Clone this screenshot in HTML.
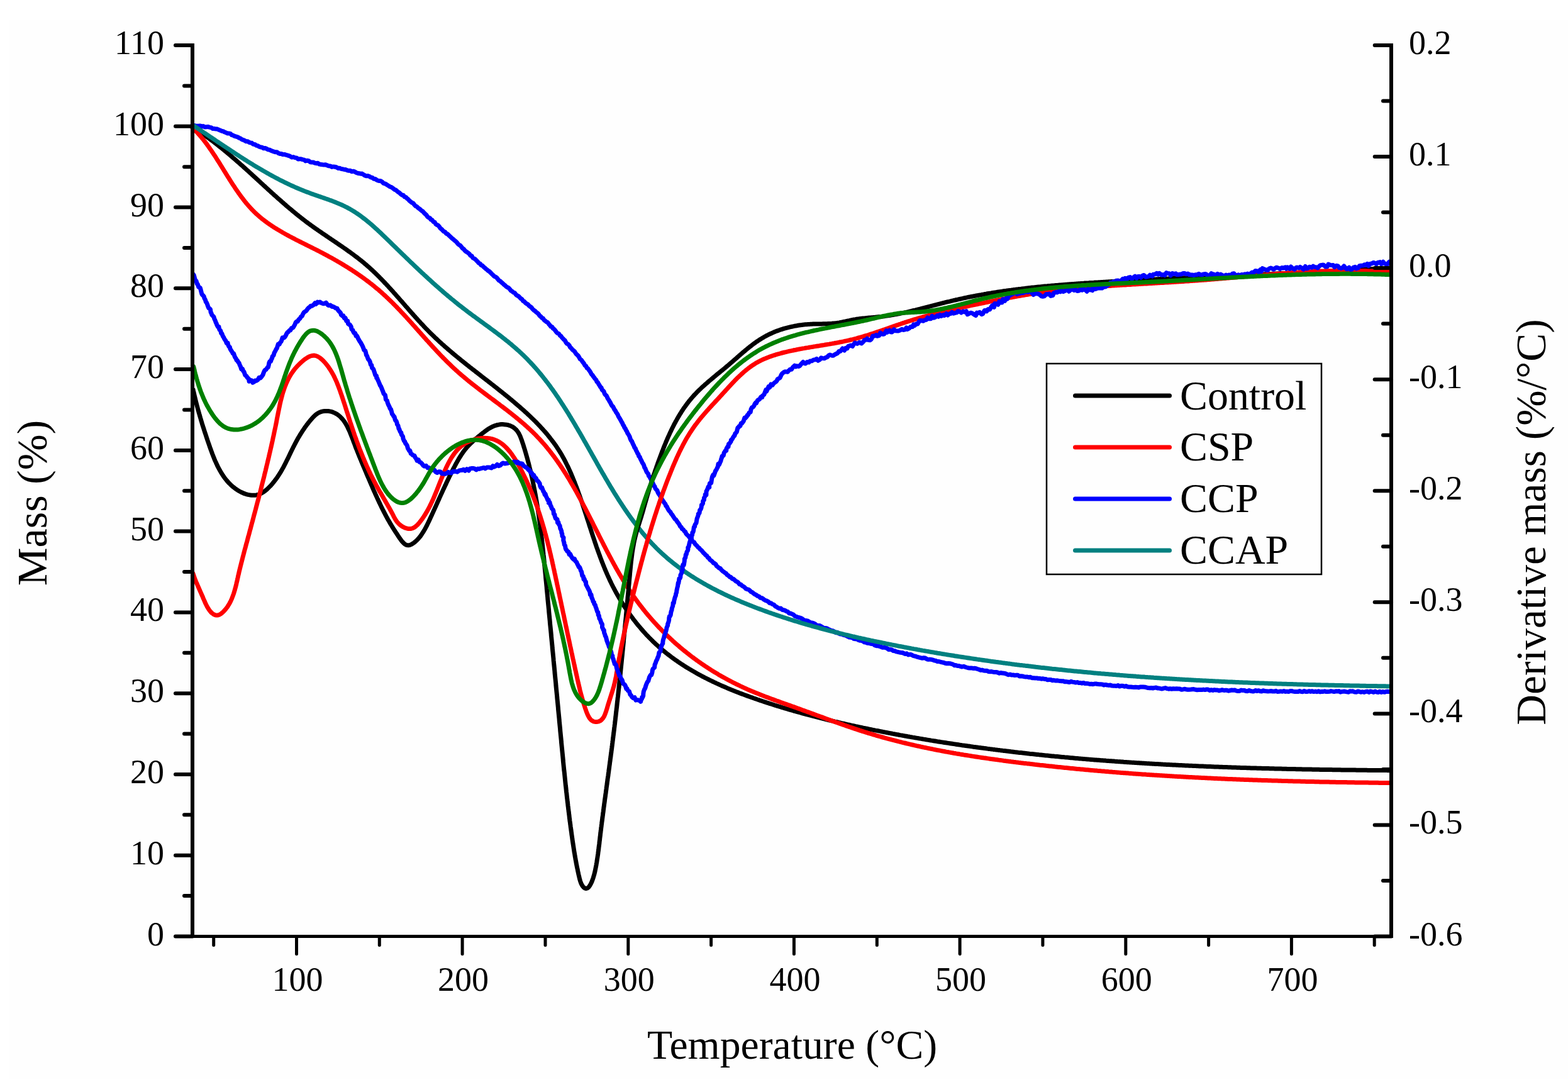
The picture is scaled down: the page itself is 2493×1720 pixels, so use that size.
<!DOCTYPE html>
<html><head><meta charset="utf-8"><title>TGA/DTG</title>
<style>html,body{margin:0;padding:0;background:#ffffff;overflow:hidden}svg{display:block}</style>
</head><body>
<svg width="2493" height="1720" viewBox="0 0 2493 1720">
<rect width="2493" height="1720" fill="#ffffff"/>
<rect x="15" y="32" width="2478" height="1683" fill="#fefefe"/>
<g fill="none" stroke-width="7" stroke-linejoin="round" stroke-linecap="round">
<path d="M305.7,202.1 L307.4,203.1 L309.2,204.2 L310.9,205.3 L312.6,206.4 L314.3,207.5 L316.0,208.7 L317.6,209.8 L319.3,210.9 L321.0,212.1 L322.6,213.2 L324.3,214.4 L325.9,215.5 L327.6,216.7 L329.2,217.9 L330.9,219.0 L332.5,220.2 L334.1,221.4 L335.7,222.6 L337.3,223.8 L338.9,225.0 L340.5,226.2 L342.1,227.5 L343.7,228.7 L345.3,229.9 L346.9,231.2 L348.4,232.4 L350.0,233.7 L351.6,234.9 L353.1,236.2 L354.7,237.4 L356.2,238.7 L357.8,240.0 L359.3,241.2 L360.9,242.5 L362.4,243.8 L363.9,245.1 L365.4,246.4 L367.0,247.7 L368.5,249.0 L370.0,250.3 L371.5,251.6 L373.0,252.9 L374.5,254.2 L376.0,255.5 L377.5,256.8 L379.0,258.1 L380.5,259.4 L382.0,260.8 L383.5,262.1 L385.0,263.4 L386.5,264.7 L388.0,266.1 L389.4,267.4 L390.9,268.7 L392.4,270.1 L393.9,271.4 L395.4,272.7 L396.8,274.1 L398.3,275.4 L399.8,276.8 L401.2,278.1 L402.7,279.5 L404.2,280.8 L405.6,282.1 L407.1,283.5 L408.6,284.8 L410.0,286.2 L411.5,287.5 L413.0,288.9 L414.4,290.2 L415.9,291.6 L417.4,292.9 L418.8,294.3 L420.3,295.6 L421.7,296.9 L423.2,298.3 L424.7,299.6 L426.1,301.0 L427.6,302.3 L429.1,303.6 L430.5,305.0 L432.0,306.3 L433.5,307.6 L434.9,309.0 L436.4,310.3 L437.9,311.6 L439.4,312.9 L440.8,314.3 L442.3,315.6 L443.8,316.9 L445.3,318.2 L446.8,319.5 L448.3,320.8 L449.8,322.1 L451.2,323.4 L452.7,324.7 L454.2,326.0 L455.7,327.3 L457.2,328.6 L458.7,329.9 L460.2,331.2 L461.8,332.4 L463.3,333.7 L464.8,335.0 L466.3,336.2 L467.8,337.5 L469.4,338.7 L470.9,340.0 L472.4,341.2 L474.0,342.5 L475.5,343.7 L477.1,344.9 L478.6,346.2 L480.2,347.4 L481.7,348.6 L483.3,349.8 L484.9,351.0 L486.4,352.2 L488.0,353.4 L489.6,354.6 L491.2,355.7 L492.8,356.9 L494.4,358.1 L496.0,359.2 L497.6,360.4 L499.2,361.5 L500.8,362.7 L502.5,363.8 L504.1,364.9 L505.7,366.1 L507.3,367.2 L509.0,368.3 L510.6,369.4 L512.2,370.6 L513.9,371.7 L515.5,372.8 L517.2,373.9 L518.8,375.0 L520.4,376.1 L522.1,377.2 L523.7,378.4 L525.4,379.5 L527.0,380.6 L528.7,381.7 L530.3,382.8 L531.9,383.9 L533.6,385.0 L535.2,386.1 L536.9,387.2 L538.5,388.4 L540.1,389.5 L541.8,390.6 L543.4,391.7 L545.0,392.8 L546.7,394.0 L548.3,395.1 L549.9,396.2 L551.5,397.4 L553.1,398.5 L554.7,399.7 L556.4,400.8 L558.0,402.0 L559.6,403.2 L561.1,404.3 L562.7,405.5 L564.3,406.7 L565.9,407.9 L567.5,409.1 L569.0,410.3 L570.6,411.5 L572.1,412.7 L573.7,413.9 L575.2,415.2 L576.8,416.4 L578.3,417.7 L579.8,419.0 L581.3,420.2 L582.8,421.5 L584.3,422.8 L585.8,424.1 L587.3,425.4 L588.7,426.7 L590.2,428.1 L591.6,429.4 L593.1,430.8 L594.5,432.1 L596.0,433.5 L597.4,434.9 L598.8,436.2 L600.2,437.6 L601.6,439.0 L603.0,440.4 L604.4,441.9 L605.8,443.3 L607.2,444.7 L608.6,446.1 L610.0,447.6 L611.3,449.0 L612.7,450.5 L614.1,451.9 L615.4,453.4 L616.8,454.8 L618.1,456.3 L619.5,457.8 L620.8,459.3 L622.2,460.7 L623.5,462.2 L624.9,463.7 L626.2,465.2 L627.5,466.7 L628.9,468.2 L630.2,469.7 L631.5,471.2 L632.8,472.7 L634.2,474.2 L635.5,475.7 L636.8,477.2 L638.1,478.7 L639.5,480.2 L640.8,481.8 L642.1,483.3 L643.4,484.8 L644.7,486.3 L646.1,487.8 L647.4,489.3 L648.7,490.8 L650.0,492.4 L651.4,493.9 L652.7,495.4 L654.0,496.9 L655.4,498.4 L656.7,499.9 L658.0,501.4 L659.4,502.9 L660.7,504.4 L662.1,505.9 L663.4,507.4 L664.8,508.9 L666.1,510.4 L667.5,511.8 L668.8,513.3 L670.2,514.8 L671.6,516.2 L673.0,517.7 L674.3,519.2 L675.7,520.6 L677.1,522.1 L678.5,523.5 L679.9,524.9 L681.3,526.4 L682.7,527.8 L684.1,529.2 L685.6,530.6 L687.0,532.0 L688.4,533.4 L689.9,534.8 L691.3,536.2 L692.8,537.6 L694.2,538.9 L695.7,540.3 L697.2,541.7 L698.6,543.0 L700.1,544.4 L701.6,545.7 L703.1,547.1 L704.6,548.4 L706.1,549.7 L707.6,551.1 L709.1,552.4 L710.6,553.7 L712.1,555.0 L713.6,556.3 L715.2,557.6 L716.7,558.9 L718.2,560.2 L719.8,561.5 L721.3,562.8 L722.8,564.1 L724.4,565.3 L725.9,566.6 L727.5,567.9 L729.0,569.2 L730.6,570.4 L732.1,571.7 L733.7,573.0 L735.3,574.2 L736.8,575.5 L738.4,576.7 L740.0,578.0 L741.5,579.2 L743.1,580.5 L744.7,581.7 L746.2,583.0 L747.8,584.2 L749.4,585.4 L751.0,586.7 L752.6,587.9 L754.1,589.1 L755.7,590.4 L757.3,591.6 L758.9,592.8 L760.5,594.1 L762.1,595.3 L763.6,596.5 L765.2,597.8 L766.8,599.0 L768.4,600.2 L770.0,601.5 L771.6,602.7 L773.2,603.9 L774.7,605.1 L776.3,606.4 L777.9,607.6 L779.5,608.8 L781.1,610.1 L782.6,611.3 L784.2,612.5 L785.8,613.8 L787.4,615.0 L789.0,616.2 L790.5,617.5 L792.1,618.7 L793.7,620.0 L795.2,621.2 L796.8,622.5 L798.4,623.7 L799.9,625.0 L801.5,626.2 L803.0,627.5 L804.6,628.7 L806.1,630.0 L807.7,631.2 L809.2,632.5 L810.8,633.8 L812.3,635.1 L813.9,636.3 L815.4,637.6 L816.9,638.9 L818.4,640.2 L820.0,641.5 L821.5,642.8 L823.0,644.1 L824.5,645.4 L826.0,646.7 L827.5,648.0 L829.0,649.3 L830.5,650.6 L832.0,651.9 L833.5,653.3 L834.9,654.6 L836.4,655.9 L837.9,657.3 L839.3,658.6 L840.8,660.0 L842.2,661.3 L843.7,662.7 L845.1,664.1 L846.5,665.5 L847.9,666.8 L849.4,668.2 L850.8,669.6 L852.2,671.0 L853.5,672.4 L854.9,673.9 L856.3,675.3 L857.6,676.7 L859.0,678.2 L860.3,679.6 L861.7,681.1 L863.0,682.5 L864.3,684.0 L865.6,685.5 L866.9,686.9 L868.2,688.4 L869.5,689.9 L870.7,691.4 L872.0,693.0 L873.2,694.5 L874.4,696.0 L875.6,697.6 L876.8,699.1 L878.0,700.7 L879.2,702.2 L880.4,703.8 L881.5,705.4 L882.7,707.0 L883.8,708.6 L884.9,710.2 L886.0,711.9 L887.1,713.5 L888.1,715.1 L889.2,716.8 L890.2,718.5 L891.3,720.2 L892.3,721.8 L893.3,723.5 L894.2,725.3 L895.2,727.0 L896.2,728.7 L897.1,730.4 L898.0,732.2 L898.9,733.9 L899.8,735.7 L900.7,737.5 L901.6,739.3 L902.5,741.0 L903.3,742.8 L904.2,744.6 L905.0,746.4 L905.8,748.3 L906.7,750.1 L907.5,751.9 L908.3,753.7 L909.0,755.6 L909.8,757.4 L910.6,759.3 L911.3,761.1 L912.1,763.0 L912.8,764.8 L913.6,766.7 L914.3,768.6 L915.0,770.4 L915.7,772.3 L916.5,774.2 L917.2,776.1 L917.9,778.0 L918.6,779.8 L919.2,781.7 L919.9,783.6 L920.6,785.5 L921.3,787.4 L921.9,789.3 L922.6,791.2 L923.3,793.1 L923.9,795.0 L924.6,796.9 L925.2,798.8 L925.9,800.7 L926.5,802.6 L927.1,804.5 L927.8,806.5 L928.4,808.4 L929.0,810.3 L929.7,812.2 L930.3,814.1 L930.9,816.0 L931.5,817.9 L932.2,819.8 L932.8,821.8 L933.4,823.7 L934.0,825.6 L934.7,827.5 L935.3,829.4 L935.9,831.3 L936.5,833.3 L937.1,835.2 L937.7,837.1 L938.4,839.0 L939.0,840.9 L939.6,842.8 L940.2,844.8 L940.9,846.7 L941.5,848.6 L942.1,850.5 L942.7,852.4 L943.4,854.3 L944.0,856.2 L944.7,858.1 L945.3,860.0 L945.9,862.0 L946.6,863.9 L947.2,865.8 L947.9,867.7 L948.5,869.6 L949.2,871.5 L949.9,873.4 L950.5,875.3 L951.2,877.1 L951.9,879.0 L952.6,880.9 L953.3,882.8 L954.0,884.7 L954.7,886.6 L955.4,888.5 L956.1,890.3 L956.8,892.2 L957.5,894.1 L958.3,895.9 L959.0,897.8 L959.8,899.7 L960.5,901.5 L961.3,903.4 L962.0,905.2 L962.8,907.1 L963.6,908.9 L964.4,910.8 L965.2,912.6 L966.0,914.5 L966.8,916.3 L967.7,918.1 L968.5,919.9 L969.3,921.8 L970.2,923.6 L971.1,925.4 L971.9,927.2 L972.8,929.0 L973.7,930.8 L974.6,932.6 L975.6,934.4 L976.5,936.2 L977.4,937.9 L978.4,939.7 L979.3,941.5 L980.3,943.3 L981.3,945.0 L982.3,946.8 L983.3,948.5 L984.3,950.3 L985.3,952.0 L986.3,953.7 L987.4,955.4 L988.4,957.2 L989.5,958.9 L990.6,960.6 L991.6,962.3 L992.7,964.0 L993.8,965.7 L994.9,967.3 L996.1,969.0 L997.2,970.7 L998.3,972.3 L999.5,974.0 L1000.6,975.6 L1001.8,977.3 L1003.0,978.9 L1004.2,980.5 L1005.4,982.1 L1006.6,983.8 L1007.8,985.4 L1009.0,986.9 L1010.3,988.5 L1011.5,990.1 L1012.8,991.7 L1014.0,993.2 L1015.3,994.8 L1016.6,996.3 L1017.9,997.8 L1019.2,999.4 L1020.5,1000.9 L1021.8,1002.4 L1023.1,1003.9 L1024.5,1005.4 L1025.8,1006.8 L1027.1,1008.3 L1028.5,1009.8 L1029.9,1011.2 L1031.3,1012.7 L1032.7,1014.1 L1034.1,1015.5 L1035.5,1016.9 L1036.9,1018.3 L1038.3,1019.7 L1039.7,1021.1 L1041.2,1022.4 L1042.6,1023.8 L1044.1,1025.1 L1045.6,1026.5 L1047.0,1027.8 L1048.5,1029.1 L1050.0,1030.4 L1051.5,1031.7 L1053.0,1033.0 L1054.5,1034.2 L1056.1,1035.5 L1057.6,1036.7 L1059.1,1038.0 L1060.7,1039.2 L1062.2,1040.4 L1063.8,1041.6 L1065.4,1042.8 L1066.9,1044.0 L1068.5,1045.2 L1070.1,1046.4 L1071.7,1047.5 L1073.3,1048.7 L1074.9,1049.8 L1076.6,1050.9 L1078.2,1052.1 L1079.8,1053.2 L1081.5,1054.3 L1083.1,1055.4 L1084.8,1056.5 L1086.4,1057.5 L1088.1,1058.6 L1089.8,1059.7 L1091.4,1060.7 L1093.1,1061.8 L1094.8,1062.8 L1096.5,1063.8 L1098.2,1064.8 L1099.9,1065.8 L1101.6,1066.8 L1103.4,1067.8 L1105.1,1068.8 L1106.8,1069.8 L1108.5,1070.8 L1110.3,1071.7 L1112.0,1072.7 L1113.8,1073.6 L1115.5,1074.6 L1117.3,1075.5 L1119.1,1076.4 L1120.8,1077.3 L1122.6,1078.2 L1124.4,1079.1 L1126.2,1080.0 L1128.0,1080.9 L1129.8,1081.8 L1131.6,1082.6 L1133.4,1083.5 L1135.2,1084.4 L1137.0,1085.2 L1138.8,1086.1 L1140.6,1086.9 L1142.5,1087.7 L1144.3,1088.6 L1146.1,1089.4 L1147.9,1090.2 L1149.8,1091.0 L1151.6,1091.8 L1153.5,1092.6 L1155.3,1093.4 L1157.2,1094.2 L1159.0,1094.9 L1160.9,1095.7 L1162.7,1096.5 L1164.6,1097.2 L1166.5,1098.0 L1168.3,1098.7 L1170.2,1099.5 L1172.1,1100.2 L1174.0,1100.9 L1175.8,1101.7 L1177.7,1102.4 L1179.6,1103.1 L1181.5,1103.8 L1183.4,1104.5 L1185.3,1105.2 L1187.2,1105.9 L1189.1,1106.6 L1191.0,1107.3 L1192.9,1108.0 L1194.8,1108.6 L1196.7,1109.3 L1198.6,1110.0 L1200.5,1110.6 L1202.4,1111.3 L1204.3,1112.0 L1206.2,1112.6 L1208.1,1113.3 L1210.0,1113.9 L1211.9,1114.5 L1213.8,1115.2 L1215.7,1115.8 L1217.6,1116.4 L1219.6,1117.1 L1221.5,1117.7 L1223.4,1118.3 L1225.3,1118.9 L1227.2,1119.5 L1229.1,1120.1 L1231.1,1120.8 L1233.0,1121.4 L1234.9,1122.0 L1236.8,1122.5 L1238.7,1123.1 L1240.7,1123.7 L1242.6,1124.3 L1244.5,1124.9 L1246.4,1125.5 L1248.3,1126.0 L1250.3,1126.6 L1252.2,1127.2 L1254.1,1127.8 L1256.0,1128.3 L1258.0,1128.9 L1259.9,1129.4 L1261.8,1130.0 L1263.7,1130.5 L1265.7,1131.1 L1267.6,1131.6 L1269.5,1132.2 L1271.5,1132.7 L1273.4,1133.2 L1275.3,1133.8 L1277.3,1134.3 L1279.2,1134.8 L1281.1,1135.3 L1283.0,1135.9 L1285.0,1136.4 L1286.9,1136.9 L1288.9,1137.4 L1290.8,1137.9 L1292.7,1138.4 L1294.7,1138.9 L1296.6,1139.4 L1298.5,1139.9 L1300.5,1140.4 L1302.4,1140.9 L1304.3,1141.4 L1306.3,1141.9 L1308.2,1142.4 L1310.2,1142.9 L1312.1,1143.3 L1314.0,1143.8 L1316.0,1144.3 L1317.9,1144.8 L1319.9,1145.2 L1321.8,1145.7 L1323.8,1146.2 L1325.7,1146.6 L1327.6,1147.1 L1329.6,1147.5 L1331.5,1148.0 L1333.5,1148.5 L1335.4,1148.9 L1337.4,1149.4 L1339.3,1149.8 L1341.3,1150.2 L1343.2,1150.7 L1345.2,1151.1 L1347.1,1151.6 L1349.1,1152.0 L1351.0,1152.4 L1353.0,1152.9 L1354.9,1153.3 L1356.9,1153.7 L1358.8,1154.1 L1360.8,1154.6 L1362.7,1155.0 L1364.7,1155.4 L1366.6,1155.8 L1368.6,1156.2 L1370.5,1156.6 L1372.5,1157.1 L1374.4,1157.5 L1376.4,1157.9 L1378.4,1158.3 L1380.3,1158.7 L1382.3,1159.1 L1384.2,1159.5 L1386.2,1159.9 L1388.1,1160.3 L1390.1,1160.7 L1392.0,1161.1 L1394.0,1161.4 L1396.0,1161.8 L1397.9,1162.2 L1399.9,1162.6 L1401.8,1163.0 L1403.8,1163.4 L1405.8,1163.8 L1407.7,1164.1 L1409.7,1164.5 L1411.6,1164.9 L1413.6,1165.3 L1415.6,1165.6 L1417.5,1166.0 L1419.5,1166.4 L1421.4,1166.7 L1423.4,1167.1 L1425.4,1167.5 L1427.3,1167.8 L1429.3,1168.2 L1431.3,1168.6 L1433.2,1168.9 L1435.2,1169.3 L1437.2,1169.6 L1439.1,1170.0 L1441.1,1170.3 L1443.1,1170.7 L1445.0,1171.0 L1447.0,1171.4 L1449.0,1171.7 L1450.9,1172.1 L1452.9,1172.4 L1454.9,1172.8 L1456.8,1173.1 L1458.8,1173.4 L1460.8,1173.8 L1462.7,1174.1 L1464.7,1174.4 L1466.7,1174.8 L1468.6,1175.1 L1470.6,1175.4 L1472.6,1175.8 L1474.6,1176.1 L1476.5,1176.4 L1478.5,1176.7 L1480.5,1177.1 L1482.4,1177.4 L1484.4,1177.7 L1486.4,1178.0 L1488.4,1178.3 L1490.3,1178.7 L1492.3,1179.0 L1494.3,1179.3 L1496.2,1179.6 L1498.2,1179.9 L1500.2,1180.2 L1502.2,1180.5 L1504.1,1180.8 L1506.1,1181.1 L1508.1,1181.4 L1510.1,1181.7 L1512.0,1182.0 L1514.0,1182.3 L1516.0,1182.6 L1518.0,1182.9 L1520.0,1183.2 L1521.9,1183.5 L1523.9,1183.8 L1525.9,1184.1 L1527.9,1184.4 L1529.8,1184.7 L1531.8,1184.9 L1533.8,1185.2 L1535.8,1185.5 L1537.8,1185.8 L1539.7,1186.1 L1541.7,1186.3 L1543.7,1186.6 L1545.7,1186.9 L1547.7,1187.2 L1549.6,1187.4 L1551.6,1187.7 L1553.6,1188.0 L1555.6,1188.3 L1557.6,1188.5 L1559.5,1188.8 L1561.5,1189.1 L1563.5,1189.3 L1565.5,1189.6 L1567.5,1189.8 L1569.5,1190.1 L1571.4,1190.4 L1573.4,1190.6 L1575.4,1190.9 L1577.4,1191.1 L1579.4,1191.4 L1581.4,1191.6 L1583.3,1191.9 L1585.3,1192.1 L1587.3,1192.4 L1589.3,1192.6 L1591.3,1192.9 L1593.3,1193.1 L1595.2,1193.4 L1597.2,1193.6 L1599.2,1193.8 L1601.2,1194.1 L1603.2,1194.3 L1605.2,1194.5 L1607.2,1194.8 L1609.2,1195.0 L1611.1,1195.2 L1613.1,1195.5 L1615.1,1195.7 L1617.1,1195.9 L1619.1,1196.2 L1621.1,1196.4 L1623.1,1196.6 L1625.1,1196.8 L1627.0,1197.1 L1629.0,1197.3 L1631.0,1197.5 L1633.0,1197.7 L1635.0,1197.9 L1637.0,1198.2 L1639.0,1198.4 L1641.0,1198.6 L1643.0,1198.8 L1645.0,1199.0 L1646.9,1199.2 L1648.9,1199.4 L1650.9,1199.6 L1652.9,1199.9 L1654.9,1200.1 L1656.9,1200.3 L1658.9,1200.5 L1660.9,1200.7 L1662.9,1200.9 L1664.9,1201.1 L1666.9,1201.3 L1668.8,1201.5 L1670.8,1201.7 L1672.8,1201.9 L1674.8,1202.1 L1676.8,1202.3 L1678.8,1202.4 L1680.8,1202.6 L1682.8,1202.8 L1684.8,1203.0 L1686.8,1203.2 L1688.8,1203.4 L1690.8,1203.6 L1692.8,1203.8 L1694.8,1203.9 L1696.8,1204.1 L1698.8,1204.3 L1700.7,1204.5 L1702.7,1204.7 L1704.7,1204.8 L1706.7,1205.0 L1708.7,1205.2 L1710.7,1205.4 L1712.7,1205.5 L1714.7,1205.7 L1716.7,1205.9 L1718.7,1206.1 L1720.7,1206.2 L1722.7,1206.4 L1724.7,1206.6 L1726.7,1206.7 L1728.7,1206.9 L1730.7,1207.1 L1732.7,1207.2 L1734.7,1207.4 L1736.7,1207.6 L1738.7,1207.7 L1740.7,1207.9 L1742.7,1208.0 L1744.7,1208.2 L1746.7,1208.3 L1748.7,1208.5 L1750.7,1208.7 L1752.7,1208.8 L1754.7,1209.0 L1756.7,1209.1 L1758.7,1209.3 L1760.7,1209.4 L1762.7,1209.6 L1764.7,1209.7 L1766.6,1209.8 L1768.6,1210.0 L1770.6,1210.1 L1772.6,1210.3 L1774.6,1210.4 L1776.6,1210.6 L1778.6,1210.7 L1780.6,1210.8 L1782.6,1211.0 L1784.6,1211.1 L1786.6,1211.3 L1788.6,1211.4 L1790.6,1211.5 L1792.6,1211.7 L1794.6,1211.8 L1796.6,1211.9 L1798.6,1212.1 L1800.6,1212.2 L1802.6,1212.3 L1804.6,1212.4 L1806.6,1212.6 L1808.6,1212.7 L1810.6,1212.8 L1812.6,1213.0 L1814.6,1213.1 L1816.6,1213.2 L1818.6,1213.3 L1820.7,1213.4 L1822.7,1213.6 L1824.7,1213.7 L1826.7,1213.8 L1828.7,1213.9 L1830.7,1214.0 L1832.7,1214.2 L1834.7,1214.3 L1836.7,1214.4 L1838.7,1214.5 L1840.7,1214.6 L1842.7,1214.7 L1844.7,1214.8 L1846.7,1214.9 L1848.7,1215.1 L1850.7,1215.2 L1852.7,1215.3 L1854.7,1215.4 L1856.7,1215.5 L1858.7,1215.6 L1860.7,1215.7 L1862.7,1215.8 L1864.7,1215.9 L1866.7,1216.0 L1868.7,1216.1 L1870.7,1216.2 L1872.7,1216.3 L1874.7,1216.4 L1876.7,1216.5 L1878.7,1216.6 L1880.7,1216.7 L1882.7,1216.8 L1884.7,1216.9 L1886.7,1217.0 L1888.7,1217.1 L1890.7,1217.2 L1892.7,1217.3 L1894.7,1217.3 L1896.7,1217.4 L1898.7,1217.5 L1900.7,1217.6 L1902.7,1217.7 L1904.7,1217.8 L1906.7,1217.9 L1908.7,1218.0 L1910.7,1218.1 L1912.7,1218.1 L1914.8,1218.2 L1916.8,1218.3 L1918.8,1218.4 L1920.8,1218.5 L1922.8,1218.6 L1924.8,1218.6 L1926.8,1218.7 L1928.8,1218.8 L1930.8,1218.9 L1932.8,1218.9 L1934.8,1219.0 L1936.8,1219.1 L1938.8,1219.2 L1940.8,1219.3 L1942.8,1219.3 L1944.8,1219.4 L1946.8,1219.5 L1948.8,1219.5 L1950.8,1219.6 L1952.8,1219.7 L1954.8,1219.8 L1956.8,1219.8 L1958.8,1219.9 L1960.8,1220.0 L1962.8,1220.0 L1964.8,1220.1 L1966.8,1220.2 L1968.8,1220.2 L1970.8,1220.3 L1972.8,1220.4 L1974.8,1220.4 L1976.8,1220.5 L1978.8,1220.6 L1980.8,1220.6 L1982.8,1220.7 L1984.8,1220.7 L1986.8,1220.8 L1988.8,1220.9 L1990.9,1220.9 L1992.9,1221.0 L1994.9,1221.0 L1996.9,1221.1 L1998.9,1221.2 L2000.9,1221.2 L2002.9,1221.3 L2004.9,1221.3 L2006.9,1221.4 L2008.9,1221.4 L2010.9,1221.5 L2012.9,1221.5 L2014.9,1221.6 L2016.9,1221.6 L2018.9,1221.7 L2020.9,1221.7 L2022.9,1221.8 L2024.9,1221.8 L2026.9,1221.9 L2028.9,1221.9 L2030.9,1222.0 L2032.9,1222.0 L2034.9,1222.1 L2036.9,1222.1 L2038.9,1222.2 L2040.9,1222.2 L2042.9,1222.3 L2044.9,1222.3 L2046.9,1222.4 L2048.9,1222.4 L2050.9,1222.4 L2052.9,1222.5 L2054.9,1222.5 L2056.9,1222.6 L2058.9,1222.6 L2060.9,1222.7 L2062.9,1222.7 L2064.9,1222.7 L2066.9,1222.8 L2068.9,1222.8 L2070.9,1222.9 L2072.9,1222.9 L2074.9,1222.9 L2076.9,1223.0 L2078.9,1223.0 L2080.9,1223.0 L2082.9,1223.1 L2084.9,1223.1 L2086.9,1223.2 L2088.9,1223.2 L2090.9,1223.2 L2092.9,1223.3 L2094.9,1223.3 L2096.9,1223.3 L2098.9,1223.4 L2100.9,1223.4 L2102.9,1223.4 L2104.9,1223.5 L2106.9,1223.5 L2108.9,1223.5 L2110.9,1223.5 L2112.9,1223.6 L2114.9,1223.6 L2116.9,1223.6 L2118.9,1223.7 L2120.9,1223.7 L2122.8,1223.7 L2124.8,1223.8 L2126.8,1223.8 L2128.8,1223.8 L2130.8,1223.8 L2132.8,1223.9 L2134.8,1223.9 L2136.8,1223.9 L2138.8,1223.9 L2140.8,1224.0 L2142.8,1224.0 L2144.8,1224.0 L2146.8,1224.0 L2148.8,1224.1 L2150.8,1224.1 L2152.8,1224.1 L2154.8,1224.1 L2156.8,1224.2 L2158.8,1224.2 L2160.8,1224.2 L2162.8,1224.2 L2164.8,1224.3 L2166.7,1224.3 L2168.7,1224.3 L2170.7,1224.3 L2172.7,1224.3 L2174.7,1224.4 L2176.7,1224.4 L2178.7,1224.4 L2180.7,1224.4 L2182.7,1224.4 L2184.7,1224.5 L2186.7,1224.5 L2188.7,1224.5 L2190.7,1224.5 L2192.7,1224.5 L2194.6,1224.5 L2196.6,1224.6 L2198.6,1224.6 L2200.6,1224.6 L2202.6,1224.6 L2204.6,1224.6 L2206.6,1224.7 L2208.6,1224.7" stroke="#000000"/>
<path d="M305.9,203.0 L307.3,204.3 L308.7,205.7 L310.0,207.0 L311.4,208.4 L312.7,209.8 L314.0,211.2 L315.3,212.6 L316.6,214.1 L317.9,215.5 L319.1,217.0 L320.4,218.5 L321.6,220.0 L322.9,221.5 L324.1,223.1 L325.3,224.6 L326.5,226.2 L327.7,227.8 L328.9,229.3 L330.0,230.9 L331.2,232.6 L332.3,234.2 L333.5,235.8 L334.6,237.5 L335.8,239.1 L336.9,240.8 L338.0,242.4 L339.1,244.1 L340.2,245.8 L341.4,247.5 L342.5,249.2 L343.6,250.9 L344.6,252.6 L345.7,254.3 L346.8,256.0 L347.9,257.7 L349.0,259.5 L350.1,261.2 L351.1,262.9 L352.2,264.6 L353.3,266.4 L354.4,268.1 L355.4,269.9 L356.5,271.6 L357.6,273.3 L358.7,275.1 L359.7,276.8 L360.8,278.5 L361.9,280.3 L363.0,282.0 L364.1,283.7 L365.1,285.5 L366.2,287.2 L367.3,288.9 L368.4,290.6 L369.5,292.3 L370.6,294.0 L371.8,295.7 L372.9,297.4 L374.0,299.1 L375.1,300.8 L376.3,302.5 L377.4,304.1 L378.6,305.8 L379.7,307.4 L380.9,309.0 L382.1,310.7 L383.3,312.3 L384.5,313.9 L385.7,315.5 L386.9,317.0 L388.1,318.6 L389.3,320.2 L390.6,321.7 L391.8,323.2 L393.1,324.7 L394.4,326.2 L395.7,327.7 L397.0,329.2 L398.3,330.6 L399.7,332.1 L401.0,333.5 L402.4,334.9 L403.7,336.3 L405.1,337.6 L406.5,339.0 L408.0,340.3 L409.4,341.6 L410.9,342.9 L412.3,344.2 L413.8,345.4 L415.3,346.7 L416.8,347.9 L418.3,349.1 L419.9,350.3 L421.4,351.5 L423.0,352.6 L424.5,353.8 L426.1,354.9 L427.7,356.0 L429.3,357.1 L430.9,358.2 L432.6,359.3 L434.2,360.4 L435.8,361.5 L437.5,362.5 L439.2,363.5 L440.8,364.6 L442.5,365.6 L444.2,366.6 L445.9,367.6 L447.6,368.6 L449.3,369.6 L451.0,370.5 L452.8,371.5 L454.5,372.5 L456.2,373.4 L458.0,374.4 L459.7,375.3 L461.5,376.3 L463.3,377.2 L465.0,378.1 L466.8,379.0 L468.6,379.9 L470.3,380.9 L472.1,381.8 L473.9,382.7 L475.7,383.6 L477.5,384.5 L479.3,385.4 L481.1,386.3 L482.9,387.2 L484.7,388.1 L486.5,389.0 L488.3,389.9 L490.1,390.8 L491.9,391.7 L493.7,392.6 L495.5,393.5 L497.3,394.4 L499.1,395.3 L500.9,396.2 L502.7,397.1 L504.5,398.0 L506.3,398.9 L508.1,399.8 L509.8,400.8 L511.6,401.7 L513.4,402.6 L515.2,403.6 L517.0,404.5 L518.7,405.5 L520.5,406.4 L522.3,407.4 L524.0,408.4 L525.8,409.3 L527.6,410.3 L529.3,411.3 L531.1,412.3 L532.8,413.3 L534.6,414.3 L536.3,415.3 L538.0,416.3 L539.8,417.3 L541.5,418.3 L543.2,419.3 L544.9,420.4 L546.7,421.4 L548.4,422.5 L550.1,423.5 L551.8,424.6 L553.5,425.6 L555.2,426.7 L556.9,427.8 L558.5,428.8 L560.2,429.9 L561.9,431.0 L563.6,432.1 L565.2,433.2 L566.9,434.3 L568.5,435.5 L570.2,436.6 L571.8,437.7 L573.4,438.9 L575.1,440.0 L576.7,441.2 L578.3,442.3 L579.9,443.5 L581.5,444.7 L583.1,445.9 L584.7,447.1 L586.3,448.3 L587.8,449.5 L589.4,450.7 L591.0,451.9 L592.5,453.2 L594.1,454.4 L595.6,455.7 L597.1,456.9 L598.7,458.2 L600.2,459.4 L601.7,460.7 L603.2,462.0 L604.7,463.3 L606.2,464.6 L607.6,465.9 L609.1,467.3 L610.6,468.6 L612.0,469.9 L613.5,471.3 L614.9,472.6 L616.4,474.0 L617.8,475.4 L619.2,476.7 L620.7,478.1 L622.1,479.5 L623.5,480.9 L624.9,482.3 L626.3,483.7 L627.7,485.1 L629.1,486.5 L630.5,487.9 L631.8,489.4 L633.2,490.8 L634.6,492.2 L636.0,493.7 L637.3,495.1 L638.7,496.6 L640.1,498.0 L641.4,499.5 L642.8,500.9 L644.1,502.4 L645.5,503.8 L646.8,505.3 L648.2,506.8 L649.5,508.3 L650.8,509.7 L652.2,511.2 L653.5,512.7 L654.9,514.2 L656.2,515.7 L657.5,517.2 L658.9,518.6 L660.2,520.1 L661.5,521.6 L662.8,523.1 L664.2,524.6 L665.5,526.1 L666.8,527.6 L668.2,529.1 L669.5,530.6 L670.8,532.1 L672.2,533.6 L673.5,535.1 L674.8,536.6 L676.2,538.1 L677.5,539.6 L678.8,541.1 L680.2,542.5 L681.5,544.0 L682.9,545.5 L684.2,547.0 L685.6,548.5 L686.9,550.0 L688.3,551.5 L689.6,552.9 L691.0,554.4 L692.4,555.9 L693.7,557.3 L695.1,558.8 L696.5,560.3 L697.9,561.7 L699.2,563.2 L700.6,564.6 L702.0,566.1 L703.4,567.5 L704.8,569.0 L706.2,570.4 L707.7,571.8 L709.1,573.3 L710.5,574.7 L711.9,576.1 L713.4,577.5 L714.8,578.9 L716.3,580.3 L717.7,581.7 L719.2,583.1 L720.6,584.5 L722.1,585.9 L723.6,587.2 L725.1,588.6 L726.6,589.9 L728.1,591.3 L729.6,592.6 L731.1,594.0 L732.7,595.3 L734.2,596.6 L735.7,597.9 L737.3,599.2 L738.8,600.5 L740.4,601.8 L742.0,603.1 L743.5,604.4 L745.1,605.7 L746.7,607.0 L748.3,608.2 L749.9,609.5 L751.4,610.8 L753.0,612.0 L754.7,613.3 L756.3,614.5 L757.9,615.8 L759.5,617.0 L761.1,618.2 L762.7,619.5 L764.3,620.7 L766.0,622.0 L767.6,623.2 L769.2,624.4 L770.8,625.6 L772.5,626.9 L774.1,628.1 L775.7,629.3 L777.4,630.5 L779.0,631.8 L780.6,633.0 L782.3,634.2 L783.9,635.4 L785.5,636.6 L787.2,637.9 L788.8,639.1 L790.4,640.3 L792.0,641.5 L793.7,642.7 L795.3,644.0 L796.9,645.2 L798.5,646.4 L800.1,647.6 L801.8,648.9 L803.4,650.1 L805.0,651.3 L806.6,652.6 L808.2,653.8 L809.8,655.1 L811.4,656.3 L813.0,657.6 L814.5,658.8 L816.1,660.1 L817.7,661.3 L819.3,662.6 L820.8,663.9 L822.4,665.1 L823.9,666.4 L825.5,667.7 L827.0,669.0 L828.5,670.3 L830.1,671.6 L831.6,672.9 L833.1,674.2 L834.6,675.5 L836.1,676.8 L837.6,678.1 L839.0,679.5 L840.5,680.8 L842.0,682.2 L843.4,683.5 L844.8,684.9 L846.3,686.3 L847.7,687.6 L849.1,689.0 L850.5,690.4 L851.9,691.8 L853.3,693.2 L854.6,694.7 L856.0,696.1 L857.4,697.5 L858.7,699.0 L860.0,700.4 L861.3,701.9 L862.6,703.4 L863.9,704.8 L865.2,706.3 L866.5,707.8 L867.8,709.3 L869.0,710.8 L870.3,712.4 L871.5,713.9 L872.8,715.4 L874.0,716.9 L875.2,718.5 L876.4,720.0 L877.6,721.6 L878.8,723.2 L880.0,724.7 L881.2,726.3 L882.3,727.9 L883.5,729.5 L884.6,731.1 L885.8,732.7 L886.9,734.3 L888.0,735.9 L889.2,737.6 L890.3,739.2 L891.4,740.8 L892.5,742.5 L893.6,744.1 L894.7,745.8 L895.7,747.4 L896.8,749.1 L897.9,750.8 L898.9,752.4 L900.0,754.1 L901.0,755.8 L902.1,757.5 L903.1,759.2 L904.2,760.9 L905.2,762.6 L906.2,764.3 L907.2,766.0 L908.2,767.7 L909.2,769.4 L910.2,771.1 L911.2,772.8 L912.2,774.6 L913.2,776.3 L914.2,778.0 L915.2,779.8 L916.2,781.5 L917.1,783.3 L918.1,785.0 L919.1,786.8 L920.0,788.5 L921.0,790.3 L921.9,792.1 L922.9,793.8 L923.8,795.6 L924.8,797.4 L925.7,799.1 L926.6,800.9 L927.6,802.7 L928.5,804.5 L929.4,806.3 L930.4,808.0 L931.3,809.8 L932.2,811.6 L933.1,813.4 L934.1,815.2 L935.0,817.0 L935.9,818.8 L936.8,820.6 L937.7,822.4 L938.6,824.2 L939.6,826.0 L940.5,827.8 L941.4,829.6 L942.3,831.4 L943.2,833.2 L944.1,835.0 L945.0,836.8 L945.9,838.6 L946.8,840.4 L947.7,842.2 L948.7,844.0 L949.6,845.8 L950.5,847.6 L951.4,849.4 L952.3,851.2 L953.2,853.0 L954.1,854.8 L955.0,856.6 L955.9,858.4 L956.9,860.2 L957.8,862.0 L958.7,863.8 L959.6,865.6 L960.5,867.4 L961.5,869.2 L962.4,871.0 L963.3,872.8 L964.2,874.6 L965.2,876.4 L966.1,878.2 L967.1,879.9 L968.0,881.7 L968.9,883.5 L969.9,885.3 L970.8,887.1 L971.8,888.8 L972.7,890.6 L973.7,892.4 L974.7,894.2 L975.6,895.9 L976.6,897.7 L977.6,899.4 L978.5,901.2 L979.5,903.0 L980.5,904.7 L981.5,906.5 L982.5,908.2 L983.5,909.9 L984.5,911.7 L985.5,913.4 L986.5,915.1 L987.5,916.9 L988.6,918.6 L989.6,920.3 L990.6,922.0 L991.7,923.7 L992.7,925.4 L993.8,927.1 L994.8,928.8 L995.9,930.5 L997.0,932.2 L998.0,933.9 L999.1,935.6 L1000.2,937.2 L1001.3,938.9 L1002.4,940.6 L1003.5,942.2 L1004.6,943.9 L1005.8,945.5 L1006.9,947.2 L1008.0,948.8 L1009.2,950.4 L1010.3,952.1 L1011.5,953.7 L1012.7,955.3 L1013.9,956.9 L1015.0,958.5 L1016.2,960.1 L1017.4,961.7 L1018.6,963.3 L1019.9,964.8 L1021.1,966.4 L1022.3,968.0 L1023.5,969.5 L1024.8,971.1 L1026.0,972.6 L1027.3,974.2 L1028.6,975.7 L1029.8,977.2 L1031.1,978.8 L1032.4,980.3 L1033.7,981.8 L1035.0,983.3 L1036.3,984.8 L1037.6,986.3 L1038.9,987.8 L1040.3,989.2 L1041.6,990.7 L1043.0,992.2 L1044.3,993.6 L1045.7,995.1 L1047.0,996.5 L1048.4,998.0 L1049.8,999.4 L1051.2,1000.8 L1052.6,1002.3 L1054.0,1003.7 L1055.4,1005.1 L1056.8,1006.5 L1058.2,1007.9 L1059.6,1009.3 L1061.0,1010.6 L1062.5,1012.0 L1063.9,1013.4 L1065.4,1014.7 L1066.8,1016.1 L1068.3,1017.4 L1069.7,1018.8 L1071.2,1020.1 L1072.7,1021.5 L1074.2,1022.8 L1075.7,1024.1 L1077.2,1025.4 L1078.7,1026.7 L1080.2,1028.0 L1081.7,1029.3 L1083.2,1030.6 L1084.8,1031.8 L1086.3,1033.1 L1087.8,1034.4 L1089.4,1035.6 L1090.9,1036.8 L1092.5,1038.1 L1094.1,1039.3 L1095.6,1040.5 L1097.2,1041.8 L1098.8,1043.0 L1100.4,1044.2 L1102.0,1045.4 L1103.6,1046.6 L1105.2,1047.7 L1106.8,1048.9 L1108.4,1050.1 L1110.0,1051.2 L1111.6,1052.4 L1113.3,1053.5 L1114.9,1054.7 L1116.5,1055.8 L1118.2,1056.9 L1119.8,1058.0 L1121.5,1059.1 L1123.2,1060.2 L1124.8,1061.3 L1126.5,1062.4 L1128.2,1063.5 L1129.9,1064.6 L1131.5,1065.6 L1133.2,1066.7 L1134.9,1067.7 L1136.6,1068.8 L1138.3,1069.8 L1140.1,1070.8 L1141.8,1071.9 L1143.5,1072.9 L1145.2,1073.9 L1147.0,1074.9 L1148.7,1075.9 L1150.4,1076.8 L1152.2,1077.8 L1153.9,1078.8 L1155.7,1079.7 L1157.4,1080.7 L1159.2,1081.6 L1161.0,1082.5 L1162.8,1083.5 L1164.5,1084.4 L1166.3,1085.3 L1168.1,1086.2 L1169.9,1087.1 L1171.7,1088.0 L1173.5,1088.8 L1175.3,1089.7 L1177.1,1090.6 L1178.9,1091.4 L1180.7,1092.3 L1182.5,1093.1 L1184.4,1093.9 L1186.2,1094.8 L1188.0,1095.6 L1189.9,1096.4 L1191.7,1097.2 L1193.5,1098.0 L1195.4,1098.8 L1197.2,1099.5 L1199.1,1100.3 L1200.9,1101.1 L1202.8,1101.8 L1204.7,1102.6 L1206.5,1103.3 L1208.4,1104.1 L1210.3,1104.8 L1212.1,1105.5 L1214.0,1106.2 L1215.9,1107.0 L1217.8,1107.7 L1219.7,1108.4 L1221.5,1109.1 L1223.4,1109.8 L1225.3,1110.5 L1227.2,1111.2 L1229.1,1111.9 L1231.0,1112.6 L1232.9,1113.3 L1234.8,1114.0 L1236.7,1114.6 L1238.6,1115.3 L1240.4,1116.0 L1242.3,1116.7 L1244.2,1117.4 L1246.1,1118.0 L1248.0,1118.7 L1249.9,1119.4 L1251.8,1120.1 L1253.7,1120.7 L1255.6,1121.4 L1257.5,1122.1 L1259.4,1122.8 L1261.3,1123.4 L1263.2,1124.1 L1265.1,1124.8 L1267.0,1125.5 L1268.9,1126.2 L1270.8,1126.8 L1272.7,1127.5 L1274.6,1128.2 L1276.4,1128.9 L1278.3,1129.6 L1280.2,1130.3 L1282.1,1131.0 L1284.0,1131.7 L1285.9,1132.3 L1287.8,1133.0 L1289.6,1133.7 L1291.5,1134.4 L1293.4,1135.1 L1295.3,1135.8 L1297.2,1136.5 L1299.1,1137.2 L1300.9,1137.9 L1302.8,1138.5 L1304.7,1139.2 L1306.6,1139.9 L1308.5,1140.6 L1310.3,1141.3 L1312.2,1142.0 L1314.1,1142.7 L1316.0,1143.4 L1317.9,1144.0 L1319.8,1144.7 L1321.6,1145.4 L1323.5,1146.1 L1325.4,1146.8 L1327.3,1147.4 L1329.2,1148.1 L1331.1,1148.8 L1332.9,1149.4 L1334.8,1150.1 L1336.7,1150.8 L1338.6,1151.4 L1340.5,1152.1 L1342.4,1152.8 L1344.2,1153.4 L1346.1,1154.1 L1348.0,1154.7 L1349.9,1155.4 L1351.8,1156.0 L1353.7,1156.7 L1355.6,1157.3 L1357.5,1157.9 L1359.4,1158.6 L1361.3,1159.2 L1363.2,1159.8 L1365.0,1160.4 L1366.9,1161.1 L1368.8,1161.7 L1370.7,1162.3 L1372.6,1162.9 L1374.5,1163.5 L1376.4,1164.1 L1378.4,1164.7 L1380.3,1165.3 L1382.2,1165.9 L1384.1,1166.4 L1386.0,1167.0 L1387.9,1167.6 L1389.8,1168.2 L1391.7,1168.7 L1393.6,1169.3 L1395.5,1169.8 L1397.5,1170.4 L1399.4,1170.9 L1401.3,1171.5 L1403.2,1172.0 L1405.1,1172.5 L1407.1,1173.1 L1409.0,1173.6 L1410.9,1174.1 L1412.8,1174.6 L1414.8,1175.2 L1416.7,1175.7 L1418.6,1176.2 L1420.6,1176.7 L1422.5,1177.2 L1424.4,1177.7 L1426.4,1178.2 L1428.3,1178.7 L1430.2,1179.1 L1432.2,1179.6 L1434.1,1180.1 L1436.0,1180.6 L1438.0,1181.0 L1439.9,1181.5 L1441.9,1182.0 L1443.8,1182.4 L1445.7,1182.9 L1447.7,1183.3 L1449.6,1183.8 L1451.6,1184.2 L1453.5,1184.7 L1455.5,1185.1 L1457.4,1185.6 L1459.4,1186.0 L1461.3,1186.4 L1463.3,1186.8 L1465.2,1187.3 L1467.2,1187.7 L1469.1,1188.1 L1471.1,1188.5 L1473.1,1188.9 L1475.0,1189.3 L1477.0,1189.7 L1478.9,1190.1 L1480.9,1190.5 L1482.9,1190.9 L1484.8,1191.3 L1486.8,1191.7 L1488.7,1192.1 L1490.7,1192.5 L1492.7,1192.8 L1494.6,1193.2 L1496.6,1193.6 L1498.6,1194.0 L1500.5,1194.3 L1502.5,1194.7 L1504.5,1195.1 L1506.4,1195.4 L1508.4,1195.8 L1510.4,1196.1 L1512.4,1196.5 L1514.3,1196.8 L1516.3,1197.2 L1518.3,1197.5 L1520.2,1197.9 L1522.2,1198.2 L1524.2,1198.5 L1526.2,1198.9 L1528.1,1199.2 L1530.1,1199.5 L1532.1,1199.9 L1534.1,1200.2 L1536.1,1200.5 L1538.0,1200.8 L1540.0,1201.1 L1542.0,1201.4 L1544.0,1201.8 L1546.0,1202.1 L1547.9,1202.4 L1549.9,1202.7 L1551.9,1203.0 L1553.9,1203.3 L1555.9,1203.6 L1557.8,1203.9 L1559.8,1204.2 L1561.8,1204.5 L1563.8,1204.8 L1565.8,1205.0 L1567.8,1205.3 L1569.7,1205.6 L1571.7,1205.9 L1573.7,1206.2 L1575.7,1206.5 L1577.7,1206.7 L1579.7,1207.0 L1581.7,1207.3 L1583.7,1207.6 L1585.6,1207.8 L1587.6,1208.1 L1589.6,1208.4 L1591.6,1208.6 L1593.6,1208.9 L1595.6,1209.2 L1597.6,1209.4 L1599.6,1209.7 L1601.5,1209.9 L1603.5,1210.2 L1605.5,1210.4 L1607.5,1210.7 L1609.5,1210.9 L1611.5,1211.2 L1613.5,1211.4 L1615.5,1211.7 L1617.5,1211.9 L1619.5,1212.2 L1621.4,1212.4 L1623.4,1212.7 L1625.4,1212.9 L1627.4,1213.2 L1629.4,1213.4 L1631.4,1213.6 L1633.4,1213.9 L1635.4,1214.1 L1637.4,1214.3 L1639.4,1214.6 L1641.4,1214.8 L1643.3,1215.0 L1645.3,1215.3 L1647.3,1215.5 L1649.3,1215.7 L1651.3,1215.9 L1653.3,1216.2 L1655.3,1216.4 L1657.3,1216.6 L1659.3,1216.8 L1661.3,1217.0 L1663.3,1217.3 L1665.3,1217.5 L1667.2,1217.7 L1669.2,1217.9 L1671.2,1218.1 L1673.2,1218.3 L1675.2,1218.5 L1677.2,1218.8 L1679.2,1219.0 L1681.2,1219.2 L1683.2,1219.4 L1685.2,1219.6 L1687.2,1219.8 L1689.2,1220.0 L1691.1,1220.2 L1693.1,1220.4 L1695.1,1220.6 L1697.1,1220.8 L1699.1,1221.0 L1701.1,1221.2 L1703.1,1221.4 L1705.1,1221.6 L1707.1,1221.8 L1709.1,1222.0 L1711.1,1222.2 L1713.1,1222.4 L1715.1,1222.5 L1717.1,1222.7 L1719.0,1222.9 L1721.0,1223.1 L1723.0,1223.3 L1725.0,1223.5 L1727.0,1223.7 L1729.0,1223.8 L1731.0,1224.0 L1733.0,1224.2 L1735.0,1224.4 L1737.0,1224.6 L1739.0,1224.7 L1741.0,1224.9 L1743.0,1225.1 L1745.0,1225.3 L1746.9,1225.4 L1748.9,1225.6 L1750.9,1225.8 L1752.9,1225.9 L1754.9,1226.1 L1756.9,1226.3 L1758.9,1226.4 L1760.9,1226.6 L1762.9,1226.8 L1764.9,1226.9 L1766.9,1227.1 L1768.9,1227.3 L1770.9,1227.4 L1772.9,1227.6 L1774.9,1227.7 L1776.9,1227.9 L1778.9,1228.1 L1780.8,1228.2 L1782.8,1228.4 L1784.8,1228.5 L1786.8,1228.7 L1788.8,1228.8 L1790.8,1229.0 L1792.8,1229.1 L1794.8,1229.3 L1796.8,1229.4 L1798.8,1229.6 L1800.8,1229.7 L1802.8,1229.9 L1804.8,1230.0 L1806.8,1230.2 L1808.8,1230.3 L1810.8,1230.4 L1812.8,1230.6 L1814.8,1230.7 L1816.8,1230.9 L1818.8,1231.0 L1820.7,1231.1 L1822.7,1231.3 L1824.7,1231.4 L1826.7,1231.5 L1828.7,1231.7 L1830.7,1231.8 L1832.7,1231.9 L1834.7,1232.1 L1836.7,1232.2 L1838.7,1232.3 L1840.7,1232.5 L1842.7,1232.6 L1844.7,1232.7 L1846.7,1232.8 L1848.7,1233.0 L1850.7,1233.1 L1852.7,1233.2 L1854.7,1233.3 L1856.7,1233.5 L1858.7,1233.6 L1860.7,1233.7 L1862.7,1233.8 L1864.7,1233.9 L1866.7,1234.1 L1868.7,1234.2 L1870.6,1234.3 L1872.6,1234.4 L1874.6,1234.5 L1876.6,1234.6 L1878.6,1234.7 L1880.6,1234.8 L1882.6,1235.0 L1884.6,1235.1 L1886.6,1235.2 L1888.6,1235.3 L1890.6,1235.4 L1892.6,1235.5 L1894.6,1235.6 L1896.6,1235.7 L1898.6,1235.8 L1900.6,1235.9 L1902.6,1236.0 L1904.6,1236.1 L1906.6,1236.2 L1908.6,1236.3 L1910.6,1236.4 L1912.6,1236.5 L1914.6,1236.6 L1916.6,1236.7 L1918.6,1236.8 L1920.6,1236.9 L1922.6,1237.0 L1924.6,1237.1 L1926.6,1237.2 L1928.6,1237.3 L1930.6,1237.4 L1932.6,1237.5 L1934.6,1237.6 L1936.6,1237.7 L1938.6,1237.7 L1940.6,1237.8 L1942.6,1237.9 L1944.6,1238.0 L1946.6,1238.1 L1948.6,1238.2 L1950.6,1238.3 L1952.6,1238.4 L1954.6,1238.4 L1956.6,1238.5 L1958.6,1238.6 L1960.6,1238.7 L1962.6,1238.8 L1964.6,1238.8 L1966.6,1238.9 L1968.6,1239.0 L1970.5,1239.1 L1972.5,1239.2 L1974.5,1239.2 L1976.5,1239.3 L1978.5,1239.4 L1980.5,1239.5 L1982.5,1239.5 L1984.5,1239.6 L1986.5,1239.7 L1988.5,1239.8 L1990.5,1239.8 L1992.5,1239.9 L1994.5,1240.0 L1996.5,1240.0 L1998.5,1240.1 L2000.5,1240.2 L2002.5,1240.3 L2004.5,1240.3 L2006.5,1240.4 L2008.5,1240.5 L2010.5,1240.5 L2012.5,1240.6 L2014.5,1240.6 L2016.5,1240.7 L2018.6,1240.8 L2020.6,1240.8 L2022.6,1240.9 L2024.6,1241.0 L2026.6,1241.0 L2028.6,1241.1 L2030.6,1241.1 L2032.6,1241.2 L2034.6,1241.3 L2036.6,1241.3 L2038.6,1241.4 L2040.6,1241.4 L2042.6,1241.5 L2044.6,1241.5 L2046.6,1241.6 L2048.6,1241.7 L2050.6,1241.7 L2052.6,1241.8 L2054.6,1241.8 L2056.6,1241.9 L2058.6,1241.9 L2060.6,1242.0 L2062.6,1242.0 L2064.6,1242.1 L2066.6,1242.1 L2068.6,1242.2 L2070.6,1242.2 L2072.6,1242.3 L2074.6,1242.3 L2076.6,1242.4 L2078.6,1242.4 L2080.6,1242.5 L2082.6,1242.5 L2084.6,1242.6 L2086.6,1242.6 L2088.6,1242.6 L2090.6,1242.7 L2092.6,1242.7 L2094.6,1242.8 L2096.6,1242.8 L2098.6,1242.9 L2100.6,1242.9 L2102.6,1242.9 L2104.6,1243.0 L2106.6,1243.0 L2108.6,1243.1 L2110.6,1243.1 L2112.6,1243.1 L2114.6,1243.2 L2116.7,1243.2 L2118.7,1243.3 L2120.7,1243.3 L2122.7,1243.3 L2124.7,1243.4 L2126.7,1243.4 L2128.7,1243.4 L2130.7,1243.5 L2132.7,1243.5 L2134.7,1243.5 L2136.7,1243.6 L2138.7,1243.6 L2140.7,1243.6 L2142.7,1243.7 L2144.7,1243.7 L2146.7,1243.7 L2148.7,1243.8 L2150.7,1243.8 L2152.7,1243.8 L2154.7,1243.9 L2156.7,1243.9 L2158.7,1243.9 L2160.7,1244.0 L2162.7,1244.0 L2164.7,1244.0 L2166.8,1244.0 L2168.8,1244.1 L2170.8,1244.1 L2172.8,1244.1 L2174.8,1244.1 L2176.8,1244.2 L2178.8,1244.2 L2180.8,1244.2 L2182.8,1244.3 L2184.8,1244.3 L2186.8,1244.3 L2188.8,1244.3 L2190.8,1244.3 L2192.8,1244.4 L2194.8,1244.4 L2196.8,1244.4 L2198.8,1244.4 L2200.8,1244.5 L2202.9,1244.5 L2204.9,1244.5 L2206.9,1244.5 L2208.9,1244.6" stroke="#ff0000"/>
<path d="M305.5,199.7 L308.3,199.5 L310.8,200.0 L313.1,200.2 L315.7,200.3 L318.2,199.9 L320.9,201.3 L323.2,200.6 L326.0,202.1 L328.4,201.7 L331.1,201.5 L333.4,202.4 L335.5,202.7 L338.0,204.4 L340.3,204.6 L342.9,204.9 L345.3,205.1 L347.4,206.1 L350.1,207.2 L352.2,208.2 L354.6,208.6 L357.1,210.0 L359.2,210.7 L361.6,212.1 L364.1,212.0 L366.5,212.7 L368.5,214.6 L370.7,215.2 L372.9,216.4 L375.6,217.2 L377.9,217.8 L380.1,219.2 L382.3,220.0 L384.7,221.8 L386.8,222.3 L388.9,223.4 L391.5,224.8 L393.9,224.7 L396.0,226.3 L398.1,226.9 L400.4,227.3 L402.7,229.3 L405.0,229.4 L407.5,231.3 L409.6,231.6 L412.2,233.2 L414.6,234.0 L416.7,234.2 L419.1,235.8 L421.7,235.5 L423.7,236.4 L426.0,237.7 L428.6,238.1 L430.6,239.2 L433.2,240.2 L435.8,241.2 L438.0,241.8 L440.4,241.7 L442.9,243.6 L445.2,244.4 L447.4,244.5 L449.6,245.6 L452.0,245.4 L454.5,246.2 L456.9,246.8 L459.1,247.6 L461.6,248.6 L464.0,250.1 L466.6,249.6 L468.9,250.6 L471.3,250.9 L474.0,252.9 L476.2,252.7 L478.5,252.7 L481.0,253.6 L483.7,254.1 L485.7,255.9 L488.4,255.2 L490.8,255.6 L493.2,257.7 L495.8,257.9 L498.0,257.9 L500.4,259.1 L503.0,259.7 L505.4,259.3 L508.0,261.1 L510.5,261.4 L512.9,261.8 L515.1,262.0 L517.6,261.7 L519.9,262.7 L522.5,263.8 L525.3,264.0 L527.7,265.4 L530.2,264.9 L532.3,265.2 L534.7,265.7 L537.4,267.4 L539.9,267.3 L542.3,268.4 L544.4,268.7 L547.3,269.5 L549.6,269.6 L551.8,270.7 L554.3,271.3 L557.0,271.2 L559.1,272.8 L561.7,272.2 L563.8,272.8 L566.5,274.5 L568.6,275.2 L571.3,275.7 L573.4,276.2 L575.7,276.1 L578.4,277.9 L580.5,279.1 L582.8,279.8 L585.3,279.6 L587.4,280.5 L589.7,281.9 L592.0,282.5 L594.2,284.2 L596.5,284.4 L598.9,286.1 L601.1,287.1 L603.3,287.6 L605.6,287.8 L607.7,289.2 L609.7,291.3 L612.0,291.9 L614.4,293.2 L616.3,294.4 L618.6,296.0 L620.5,296.9 L622.7,297.8 L625.0,299.5 L627.0,301.2 L629.2,302.1 L631.1,303.6 L633.1,305.3 L635.1,306.5 L637.2,308.6 L639.3,310.0 L641.4,310.5 L643.2,313.1 L645.4,313.4 L647.0,315.4 L648.9,316.7 L650.9,319.0 L653.2,320.9 L654.9,322.2 L657.0,323.0 L659.1,325.9 L660.7,327.5 L662.7,328.4 L664.9,330.7 L666.4,331.7 L668.5,333.2 L670.2,334.9 L672.4,336.1 L674.2,338.4 L675.8,339.9 L678.0,341.9 L679.6,344.4 L681.8,346.1 L683.4,346.6 L685.2,349.1 L687.2,349.8 L689.1,352.7 L691.2,353.4 L692.7,356.1 L694.8,357.5 L696.4,358.1 L698.5,360.4 L700.1,362.9 L702.2,364.4 L703.8,366.2 L705.6,367.9 L707.7,368.7 L709.5,371.3 L711.3,371.8 L713.2,373.6 L714.9,375.2 L716.7,376.9 L718.6,378.8 L720.7,380.4 L722.4,381.9 L724.2,383.3 L726.0,385.0 L728.0,387.5 L729.6,389.1 L731.8,390.2 L733.6,392.4 L735.3,394.7 L737.1,395.8 L739.1,398.3 L740.8,399.7 L742.8,401.0 L744.5,402.2 L746.2,403.6 L748.0,406.2 L750.0,406.9 L751.7,409.7 L754.0,411.1 L755.6,412.0 L757.4,414.0 L759.2,415.7 L761.1,418.1 L763.3,419.1 L764.9,421.4 L766.8,422.1 L768.5,423.8 L770.6,425.6 L772.4,427.3 L774.1,428.5 L776.1,430.4 L777.9,431.4 L780.0,433.4 L782.0,435.5 L784.0,437.3 L785.9,439.3 L787.6,440.0 L789.8,441.4 L791.6,443.8 L793.2,445.7 L795.5,447.0 L797.3,448.9 L799.0,450.1 L801.1,452.2 L803.1,453.8 L804.9,455.6 L806.9,456.9 L808.6,457.5 L810.5,459.6 L812.4,462.0 L814.5,463.3 L816.4,465.0 L818.3,465.6 L820.4,468.4 L822.1,469.7 L824.1,470.6 L826.1,472.5 L827.6,474.2 L829.9,475.7 L831.8,478.6 L833.5,479.3 L835.4,481.4 L837.5,483.0 L839.3,483.8 L840.9,485.7 L843.1,487.5 L844.9,488.7 L846.5,490.8 L848.7,493.1 L850.6,494.2 L852.4,496.1 L854.2,497.3 L856.2,499.1 L858.1,502.0 L859.5,502.9 L861.7,505.4 L863.4,506.0 L865.1,508.8 L866.9,510.0 L868.7,511.6 L870.9,512.7 L872.6,515.1 L874.4,517.1 L875.9,519.2 L877.8,519.6 L879.3,522.1 L881.3,523.5 L882.9,525.4 L884.7,528.0 L886.3,529.6 L888.4,530.4 L890.2,533.2 L891.9,534.3 L893.3,536.3 L895.3,538.4 L896.7,540.0 L898.3,541.3 L899.9,544.4 L901.6,546.4 L903.3,547.2 L905.0,548.9 L906.6,552.1 L908.5,553.7 L910.0,555.8 L911.7,557.1 L913.2,558.2 L914.8,560.7 L916.4,563.0 L917.7,564.0 L919.6,566.0 L920.9,568.3 L922.4,570.9 L924.3,572.1 L925.6,574.1 L927.1,576.2 L928.4,577.8 L930.0,581.0 L931.6,581.9 L933.3,585.1 L934.6,585.7 L935.9,587.6 L937.5,589.7 L938.9,591.9 L940.5,595.0 L942.0,596.2 L943.3,598.4 L944.7,600.2 L946.0,602.1 L947.8,603.9 L949.0,606.8 L950.6,608.2 L951.7,610.3 L953.2,612.7 L954.8,615.4 L956.1,616.2 L957.1,619.4 L958.9,621.1 L960.1,622.4 L961.3,626.0 L962.9,628.0 L964.3,629.1 L965.2,631.1 L966.7,634.1 L968.2,636.3 L969.4,638.5 L970.6,640.3 L971.7,642.8 L973.1,645.2 L974.6,646.3 L975.6,648.4 L977.1,651.3 L978.1,652.4 L979.6,655.4 L980.8,657.0 L982.1,658.9 L983.2,661.8 L984.8,664.3 L985.9,666.2 L986.9,668.0 L988.4,670.9 L989.3,672.1 L990.6,675.3 L991.8,676.9 L993.1,680.1 L994.1,680.9 L995.3,683.8 L996.6,685.7 L997.9,688.8 L998.9,690.1 L1000.3,692.6 L1001.3,694.7 L1002.2,697.8 L1003.4,700.3 L1004.6,701.4 L1005.6,704.0 L1007.0,707.1 L1007.8,708.5 L1009.0,711.7 L1010.1,712.5 L1011.1,715.3 L1012.7,718.3 L1013.7,720.8 L1014.9,722.0 L1015.7,725.2 L1017.0,726.1 L1018.1,728.9 L1019.1,731.1 L1020.1,732.8 L1021.3,735.6 L1022.7,737.5 L1023.8,739.9 L1024.7,743.2 L1026.0,744.8 L1026.8,747.1 L1028.1,750.1 L1029.1,751.5 L1030.6,753.2 L1031.5,756.7 L1032.9,757.7 L1033.7,759.9 L1035.3,762.5 L1036.4,765.7 L1037.4,766.9 L1038.8,769.7 L1039.7,772.1 L1041.0,773.5 L1042.0,776.5 L1043.7,778.5 L1044.9,779.7 L1045.9,782.6 L1047.5,785.5 L1048.4,786.5 L1049.7,789.0 L1051.3,790.7 L1052.5,793.7 L1053.8,795.9 L1055.0,797.3 L1056.2,799.4 L1057.8,801.1 L1058.8,804.2 L1060.2,805.2 L1061.5,808.1 L1063.0,810.8 L1064.6,812.9 L1065.7,813.5 L1067.0,816.2 L1068.7,818.2 L1069.9,820.1 L1071.5,822.6 L1073.0,824.9 L1074.4,825.7 L1075.9,828.0 L1077.3,830.1 L1078.8,831.8 L1080.1,833.8 L1081.5,836.8 L1083.2,837.9 L1084.6,840.9 L1086.2,841.6 L1087.9,844.2 L1089.5,845.2 L1090.8,848.3 L1092.5,850.3 L1093.7,851.2 L1095.3,853.0 L1097.3,855.5 L1098.9,857.0 L1100.4,859.0 L1101.8,861.3 L1103.7,862.1 L1105.2,864.8 L1106.6,866.2 L1108.2,867.7 L1109.9,870.1 L1111.8,871.3 L1113.2,873.3 L1115.2,874.8 L1116.7,876.6 L1118.6,878.9 L1120.0,880.0 L1121.9,882.4 L1123.7,883.4 L1125.2,886.1 L1127.1,887.1 L1128.8,889.9 L1130.5,891.0 L1132.3,892.4 L1134.4,895.0 L1135.9,895.4 L1137.9,897.0 L1139.4,899.8 L1141.4,901.3 L1143.2,903.0 L1145.1,903.4 L1146.7,905.6 L1148.9,907.8 L1150.5,908.9 L1152.5,910.3 L1154.3,911.5 L1156.3,914.0 L1158.0,914.9 L1160.3,917.2 L1161.9,917.3 L1164.2,920.2 L1165.9,920.2 L1168.1,922.2 L1170.0,924.0 L1172.0,924.8 L1173.9,926.3 L1175.7,928.7 L1177.9,929.1 L1179.6,930.9 L1181.8,932.2 L1183.6,933.4 L1185.9,935.8 L1187.7,936.7 L1190.0,937.2 L1192.1,938.7 L1194.1,940.7 L1196.2,941.6 L1198.2,943.4 L1200.2,944.8 L1202.4,945.8 L1204.2,947.3 L1206.6,948.0 L1208.8,950.2 L1210.8,950.5 L1213.0,951.6 L1214.9,953.3 L1217.1,954.6 L1219.4,955.2 L1221.6,956.5 L1223.8,958.8 L1225.9,958.8 L1228.1,960.5 L1230.5,961.3 L1232.6,963.8 L1234.8,964.7 L1236.7,966.1 L1239.1,967.2 L1241.5,967.1 L1243.7,969.5 L1245.5,969.6 L1248.1,970.4 L1250.4,971.7 L1252.6,972.6 L1254.7,974.9 L1256.8,975.0 L1259.2,976.1 L1261.3,976.9 L1263.6,979.2 L1266.1,980.2 L1268.2,981.0 L1270.4,981.7 L1273.0,982.4 L1275.4,983.7 L1277.6,985.3 L1279.6,986.4 L1282.2,986.5 L1284.6,987.2 L1287.0,988.7 L1289.0,990.0 L1291.4,990.0 L1293.9,990.8 L1296.2,992.0 L1298.5,994.1 L1300.8,994.6 L1303.0,994.4 L1305.2,995.6 L1307.8,997.0 L1310.1,998.6 L1312.3,998.4 L1314.9,999.0 L1317.0,1000.4 L1319.4,1001.3 L1321.8,1002.5 L1324.3,1002.8 L1326.7,1004.1 L1328.9,1005.7 L1331.3,1005.3 L1333.6,1006.9 L1336.3,1008.0 L1338.5,1008.0 L1340.7,1009.4 L1343.3,1009.8 L1345.8,1010.8 L1348.3,1012.0 L1350.3,1013.1 L1352.6,1013.3 L1355.2,1013.7 L1357.4,1015.3 L1359.8,1015.7 L1362.6,1015.9 L1364.7,1017.4 L1367.2,1018.2 L1369.7,1018.2 L1371.9,1019.2 L1374.2,1020.9 L1376.9,1021.4 L1379.0,1022.3 L1381.7,1022.5 L1384.1,1023.2 L1386.3,1023.4 L1388.7,1024.0 L1391.1,1025.9 L1393.7,1026.7 L1396.1,1026.5 L1398.4,1027.5 L1401.0,1028.3 L1403.1,1029.2 L1405.9,1029.2 L1408.2,1029.6 L1410.4,1030.7 L1413.0,1032.5 L1415.4,1032.2 L1417.9,1032.8 L1420.0,1034.4 L1422.6,1034.7 L1425.0,1035.9 L1427.4,1036.3 L1429.9,1037.0 L1432.2,1037.4 L1434.7,1037.4 L1436.9,1038.5 L1439.3,1039.6 L1441.7,1038.8 L1444.1,1040.9 L1446.7,1040.3 L1449.0,1040.7 L1451.7,1042.3 L1454.1,1043.0 L1456.3,1043.4 L1458.8,1044.4 L1461.5,1045.1 L1463.6,1045.6 L1466.4,1046.3 L1468.4,1045.7 L1470.9,1046.0 L1473.7,1047.8 L1476.0,1048.4 L1478.4,1048.1 L1480.6,1048.4 L1483.4,1049.1 L1485.6,1050.0 L1487.9,1050.3 L1490.5,1051.6 L1492.9,1051.5 L1495.7,1052.3 L1498.1,1053.0 L1500.1,1053.2 L1502.7,1054.3 L1505.1,1054.7 L1507.7,1054.4 L1510.3,1054.7 L1512.7,1055.4 L1514.8,1055.9 L1517.6,1057.7 L1519.7,1057.4 L1522.3,1058.4 L1524.7,1058.4 L1527.2,1059.4 L1529.6,1060.0 L1532.1,1059.3 L1534.7,1060.3 L1536.9,1061.0 L1539.3,1061.7 L1542.1,1062.1 L1544.5,1061.9 L1546.8,1062.4 L1549.5,1062.3 L1552.0,1062.7 L1554.1,1063.5 L1556.9,1064.3 L1559.1,1065.4 L1561.5,1065.1 L1564.1,1066.0 L1566.7,1066.3 L1569.0,1066.2 L1571.3,1067.4 L1574.0,1067.7 L1576.3,1067.6 L1579.0,1068.2 L1581.2,1068.4 L1584.0,1068.5 L1586.1,1069.0 L1588.9,1070.2 L1591.1,1069.5 L1593.6,1070.1 L1596.2,1070.3 L1598.6,1070.7 L1601.3,1071.9 L1603.4,1072.7 L1605.9,1072.1 L1608.8,1073.1 L1611.1,1072.9 L1613.3,1073.6 L1615.8,1073.2 L1618.4,1073.3 L1620.8,1074.9 L1623.5,1074.7 L1625.9,1075.0 L1628.2,1075.6 L1630.8,1076.1 L1633.5,1076.0 L1635.8,1076.8 L1638.2,1076.3 L1640.8,1077.7 L1643.3,1077.7 L1645.8,1078.0 L1648.2,1077.9 L1650.6,1078.5 L1652.9,1078.5 L1655.7,1079.2 L1658.2,1078.8 L1660.5,1079.4 L1663.1,1079.6 L1665.6,1080.8 L1667.9,1080.6 L1670.6,1080.5 L1673.0,1081.7 L1675.3,1081.3 L1677.8,1081.9 L1680.7,1081.8 L1682.8,1082.1 L1685.5,1082.6 L1687.9,1082.8 L1690.6,1082.8 L1692.9,1083.8 L1695.3,1083.6 L1697.8,1084.0 L1700.2,1084.6 L1702.8,1083.3 L1705.2,1084.1 L1707.6,1084.4 L1710.3,1085.1 L1712.8,1084.6 L1715.2,1085.6 L1718.0,1085.5 L1720.2,1086.2 L1722.8,1085.5 L1725.1,1086.6 L1728.0,1086.6 L1730.3,1086.7 L1732.7,1087.5 L1735.2,1087.2 L1737.9,1087.7 L1740.3,1087.1 L1742.8,1087.0 L1745.4,1087.6 L1747.9,1087.7 L1750.2,1087.8 L1752.7,1087.9 L1755.0,1089.0 L1757.7,1088.4 L1760.2,1089.0 L1762.7,1089.4 L1765.3,1089.1 L1768.0,1090.1 L1770.1,1090.2 L1773.0,1090.3 L1775.1,1090.6 L1777.8,1089.5 L1780.0,1091.1 L1782.9,1090.2 L1785.1,1090.2 L1787.7,1091.3 L1790.2,1090.5 L1793.0,1091.7 L1795.1,1092.0 L1797.9,1092.0 L1800.4,1092.3 L1802.9,1092.4 L1805.2,1092.3 L1807.8,1092.5 L1810.3,1092.9 L1812.9,1092.0 L1815.2,1092.0 L1817.8,1092.0 L1820.3,1092.2 L1822.8,1092.9 L1825.4,1093.6 L1827.6,1093.7 L1830.4,1093.4 L1833.0,1094.0 L1835.3,1093.4 L1838.1,1093.0 L1840.5,1094.0 L1842.7,1094.1 L1845.5,1094.7 L1847.8,1094.9 L1850.4,1094.2 L1853.1,1093.6 L1855.6,1094.7 L1857.9,1095.2 L1860.4,1094.7 L1863.0,1095.2 L1865.3,1094.8 L1868.0,1095.1 L1870.7,1094.8 L1873.2,1095.1 L1875.5,1094.9 L1878.0,1096.2 L1880.6,1096.0 L1883.0,1095.3 L1885.5,1095.8 L1888.1,1096.2 L1890.4,1096.2 L1893.3,1096.0 L1895.4,1095.7 L1897.9,1095.6 L1900.8,1096.3 L1903.2,1096.7 L1905.8,1096.5 L1908.2,1096.6 L1910.8,1096.6 L1913.3,1096.1 L1915.8,1096.6 L1918.3,1096.0 L1920.6,1096.0 L1923.3,1097.5 L1925.8,1096.7 L1928.4,1097.4 L1930.8,1096.6 L1933.2,1097.0 L1935.7,1097.0 L1938.3,1097.9 L1940.6,1097.4 L1943.1,1096.7 L1946.0,1097.5 L1948.5,1097.3 L1950.6,1097.3 L1953.4,1098.2 L1956.1,1097.5 L1958.3,1097.0 L1960.9,1097.2 L1963.2,1097.0 L1965.7,1098.1 L1968.2,1098.6 L1970.7,1098.5 L1973.3,1097.1 L1976.0,1097.6 L1978.6,1097.5 L1980.7,1098.5 L1983.6,1098.7 L1986.1,1097.5 L1988.6,1098.5 L1991.0,1098.9 L1993.4,1099.0 L1996.1,1097.5 L1998.3,1098.6 L2001.2,1097.7 L2003.5,1098.7 L2005.9,1099.0 L2008.6,1097.7 L2011.0,1098.6 L2013.6,1098.8 L2015.9,1099.0 L2018.5,1098.8 L2021.2,1098.5 L2023.6,1099.1 L2026.3,1099.1 L2028.7,1098.3 L2030.9,1099.5 L2033.8,1099.3 L2036.1,1098.9 L2038.9,1099.3 L2041.2,1098.5 L2043.7,1099.4 L2046.1,1099.1 L2048.8,1099.5 L2051.4,1098.5 L2053.5,1098.5 L2056.2,1099.1 L2058.9,1099.6 L2061.0,1099.5 L2063.9,1099.6 L2066.3,1098.6 L2068.9,1099.5 L2071.3,1099.7 L2073.7,1098.4 L2076.3,1099.6 L2078.6,1099.5 L2081.5,1098.7 L2083.8,1099.4 L2086.3,1098.7 L2088.7,1099.6 L2091.4,1099.1 L2093.6,1099.7 L2096.4,1098.8 L2098.8,1099.9 L2101.5,1099.3 L2103.8,1099.4 L2106.2,1098.8 L2108.7,1099.6 L2111.2,1099.4 L2113.8,1099.3 L2116.1,1098.6 L2119.0,1099.1 L2121.1,1099.6 L2123.9,1098.8 L2126.4,1099.1 L2128.8,1098.6 L2131.1,1100.2 L2134.0,1099.4 L2136.3,1099.1 L2138.9,1099.3 L2141.5,1099.9 L2143.9,1100.2 L2146.2,1098.8 L2148.6,1099.0 L2151.1,1098.8 L2153.8,1100.1 L2156.3,1100.3 L2159.0,1098.9 L2161.3,1099.4 L2163.6,1100.3 L2166.1,1099.7 L2168.8,1100.4 L2171.3,1099.5 L2173.7,1099.1 L2176.4,1100.5 L2178.6,1099.0 L2181.1,1099.5 L2183.9,1100.4 L2186.3,1099.0 L2188.8,1100.1 L2191.2,1100.6 L2193.4,1099.2 L2196.3,1100.5 L2198.7,1099.5 L2201.2,1100.3 L2203.4,1099.6 L2206.0,1099.3 L2208.6,1099.4" stroke="#0000ff"/>
<path d="M306.4,199.0 L308.1,200.1 L309.8,201.2 L311.4,202.3 L313.1,203.4 L314.8,204.5 L316.5,205.6 L318.1,206.7 L319.8,207.8 L321.5,209.0 L323.2,210.1 L324.8,211.2 L326.5,212.3 L328.2,213.4 L329.8,214.5 L331.5,215.6 L333.2,216.8 L334.8,217.9 L336.5,219.0 L338.2,220.1 L339.8,221.2 L341.5,222.3 L343.2,223.5 L344.8,224.6 L346.5,225.7 L348.2,226.8 L349.8,227.9 L351.5,229.0 L353.2,230.2 L354.8,231.3 L356.5,232.4 L358.2,233.5 L359.9,234.6 L361.5,235.7 L363.2,236.8 L364.9,237.9 L366.5,239.0 L368.2,240.1 L369.9,241.2 L371.6,242.3 L373.2,243.4 L374.9,244.5 L376.6,245.6 L378.3,246.7 L380.0,247.8 L381.6,248.9 L383.3,250.0 L385.0,251.0 L386.7,252.1 L388.4,253.2 L390.1,254.3 L391.8,255.3 L393.4,256.4 L395.1,257.4 L396.8,258.5 L398.5,259.5 L400.2,260.6 L401.9,261.6 L403.6,262.7 L405.3,263.7 L407.0,264.7 L408.7,265.8 L410.5,266.8 L412.2,267.8 L413.9,268.8 L415.6,269.8 L417.3,270.8 L419.0,271.8 L420.8,272.8 L422.5,273.8 L424.2,274.8 L425.9,275.7 L427.7,276.7 L429.4,277.7 L431.1,278.6 L432.9,279.6 L434.6,280.5 L436.4,281.5 L438.1,282.4 L439.9,283.3 L441.6,284.2 L443.4,285.2 L445.1,286.1 L446.9,287.0 L448.7,287.8 L450.4,288.7 L452.2,289.6 L454.0,290.5 L455.8,291.3 L457.6,292.2 L459.4,293.0 L461.1,293.9 L462.9,294.7 L464.7,295.5 L466.5,296.3 L468.3,297.1 L470.2,297.9 L472.0,298.7 L473.8,299.5 L475.6,300.3 L477.4,301.0 L479.3,301.8 L481.1,302.5 L482.9,303.3 L484.8,304.0 L486.6,304.7 L488.5,305.4 L490.3,306.1 L492.2,306.8 L494.0,307.5 L495.9,308.2 L497.8,308.8 L499.6,309.5 L501.5,310.1 L503.4,310.8 L505.3,311.4 L507.1,312.1 L509.0,312.7 L510.9,313.4 L512.8,314.0 L514.6,314.7 L516.5,315.3 L518.4,316.0 L520.2,316.6 L522.1,317.3 L524.0,318.0 L525.8,318.6 L527.7,319.3 L529.5,320.0 L531.3,320.7 L533.2,321.4 L535.0,322.2 L536.8,322.9 L538.6,323.7 L540.4,324.4 L542.2,325.2 L544.0,326.0 L545.8,326.9 L547.5,327.7 L549.3,328.6 L551.0,329.4 L552.8,330.4 L554.5,331.3 L556.2,332.2 L557.9,333.2 L559.6,334.2 L561.3,335.2 L562.9,336.2 L564.6,337.3 L566.2,338.4 L567.9,339.5 L569.5,340.6 L571.1,341.7 L572.7,342.8 L574.3,344.0 L575.9,345.2 L577.4,346.4 L579.0,347.6 L580.6,348.8 L582.1,350.0 L583.7,351.3 L585.2,352.6 L586.7,353.8 L588.3,355.1 L589.8,356.4 L591.3,357.7 L592.8,359.0 L594.3,360.4 L595.8,361.7 L597.3,363.1 L598.8,364.4 L600.3,365.8 L601.7,367.1 L603.2,368.5 L604.7,369.9 L606.2,371.3 L607.6,372.7 L609.1,374.1 L610.5,375.5 L612.0,376.9 L613.4,378.3 L614.9,379.7 L616.4,381.1 L617.8,382.5 L619.2,383.9 L620.7,385.3 L622.1,386.7 L623.6,388.2 L625.0,389.6 L626.5,391.0 L627.9,392.4 L629.4,393.8 L630.8,395.2 L632.3,396.6 L633.7,398.0 L635.1,399.4 L636.6,400.8 L638.0,402.2 L639.5,403.6 L640.9,405.0 L642.4,406.4 L643.8,407.8 L645.3,409.2 L646.7,410.6 L648.2,412.0 L649.6,413.4 L651.0,414.8 L652.5,416.2 L653.9,417.6 L655.4,418.9 L656.8,420.3 L658.3,421.7 L659.7,423.1 L661.2,424.5 L662.7,425.9 L664.1,427.2 L665.6,428.6 L667.0,430.0 L668.5,431.3 L669.9,432.7 L671.4,434.1 L672.9,435.4 L674.3,436.8 L675.8,438.2 L677.3,439.5 L678.8,440.9 L680.2,442.2 L681.7,443.6 L683.2,444.9 L684.7,446.3 L686.1,447.6 L687.6,449.0 L689.1,450.3 L690.6,451.6 L692.1,453.0 L693.6,454.3 L695.1,455.6 L696.6,456.9 L698.1,458.3 L699.6,459.6 L701.1,460.9 L702.6,462.2 L704.1,463.5 L705.6,464.8 L707.1,466.1 L708.6,467.4 L710.2,468.7 L711.7,470.0 L713.2,471.3 L714.8,472.5 L716.3,473.8 L717.8,475.1 L719.4,476.4 L720.9,477.6 L722.5,478.9 L724.0,480.2 L725.6,481.4 L727.2,482.7 L728.7,483.9 L730.3,485.2 L731.9,486.4 L733.4,487.6 L735.0,488.9 L736.6,490.1 L738.2,491.3 L739.8,492.5 L741.4,493.7 L743.0,495.0 L744.6,496.2 L746.2,497.4 L747.8,498.6 L749.4,499.8 L751.0,501.0 L752.6,502.2 L754.3,503.3 L755.9,504.5 L757.5,505.7 L759.1,506.9 L760.8,508.1 L762.4,509.3 L764.0,510.5 L765.6,511.6 L767.3,512.8 L768.9,514.0 L770.5,515.2 L772.1,516.4 L773.8,517.6 L775.4,518.7 L777.0,519.9 L778.6,521.1 L780.2,522.3 L781.9,523.5 L783.5,524.7 L785.1,525.9 L786.7,527.1 L788.3,528.3 L789.9,529.5 L791.5,530.7 L793.1,531.9 L794.7,533.1 L796.3,534.3 L797.9,535.5 L799.4,536.8 L801.0,538.0 L802.6,539.2 L804.1,540.5 L805.7,541.7 L807.3,542.9 L808.8,544.2 L810.3,545.5 L811.9,546.7 L813.4,548.0 L814.9,549.3 L816.4,550.6 L817.9,551.9 L819.4,553.2 L820.9,554.5 L822.4,555.8 L823.9,557.1 L825.4,558.4 L826.8,559.8 L828.3,561.1 L829.7,562.5 L831.1,563.9 L832.6,565.2 L834.0,566.6 L835.4,568.0 L836.8,569.4 L838.2,570.8 L839.6,572.2 L840.9,573.7 L842.3,575.1 L843.6,576.5 L845.0,578.0 L846.3,579.4 L847.7,580.9 L849.0,582.4 L850.3,583.8 L851.6,585.3 L852.9,586.8 L854.2,588.3 L855.5,589.8 L856.8,591.4 L858.0,592.9 L859.3,594.4 L860.6,595.9 L861.8,597.5 L863.1,599.0 L864.3,600.6 L865.5,602.1 L866.8,603.7 L868.0,605.3 L869.2,606.9 L870.4,608.4 L871.6,610.0 L872.8,611.6 L874.0,613.2 L875.2,614.8 L876.3,616.5 L877.5,618.1 L878.7,619.7 L879.8,621.3 L881.0,623.0 L882.1,624.6 L883.3,626.3 L884.4,627.9 L885.5,629.6 L886.7,631.2 L887.8,632.9 L888.9,634.6 L890.0,636.2 L891.1,637.9 L892.2,639.6 L893.3,641.3 L894.4,643.0 L895.5,644.7 L896.6,646.4 L897.7,648.1 L898.8,649.8 L899.9,651.5 L900.9,653.2 L902.0,654.9 L903.1,656.6 L904.1,658.3 L905.2,660.1 L906.2,661.8 L907.3,663.5 L908.3,665.3 L909.4,667.0 L910.4,668.7 L911.5,670.5 L912.5,672.2 L913.6,674.0 L914.6,675.7 L915.6,677.5 L916.6,679.2 L917.7,681.0 L918.7,682.7 L919.7,684.5 L920.7,686.2 L921.8,688.0 L922.8,689.8 L923.8,691.5 L924.8,693.3 L925.8,695.1 L926.8,696.8 L927.8,698.6 L928.8,700.4 L929.8,702.2 L930.9,703.9 L931.9,705.7 L932.9,707.5 L933.9,709.3 L934.9,711.0 L935.9,712.8 L936.9,714.6 L937.9,716.4 L938.9,718.1 L939.9,719.9 L940.9,721.7 L941.9,723.5 L942.9,725.2 L943.9,727.0 L944.9,728.8 L945.9,730.6 L946.9,732.3 L947.9,734.1 L948.9,735.9 L949.9,737.7 L950.9,739.4 L951.9,741.2 L952.9,743.0 L953.9,744.7 L954.9,746.5 L955.9,748.3 L956.9,750.0 L957.9,751.8 L959.0,753.5 L960.0,755.3 L961.0,757.1 L962.0,758.8 L963.0,760.6 L964.1,762.3 L965.1,764.1 L966.1,765.8 L967.1,767.5 L968.2,769.3 L969.2,771.0 L970.2,772.8 L971.3,774.5 L972.3,776.2 L973.4,777.9 L974.4,779.7 L975.5,781.4 L976.5,783.1 L977.6,784.8 L978.7,786.5 L979.7,788.2 L980.8,789.9 L981.9,791.6 L982.9,793.3 L984.0,795.0 L985.1,796.7 L986.2,798.4 L987.3,800.1 L988.4,801.7 L989.5,803.4 L990.6,805.1 L991.7,806.7 L992.8,808.4 L993.9,810.0 L995.0,811.7 L996.2,813.3 L997.3,814.9 L998.4,816.6 L999.6,818.2 L1000.7,819.8 L1001.9,821.4 L1003.0,823.0 L1004.2,824.7 L1005.4,826.2 L1006.5,827.8 L1007.7,829.4 L1008.9,831.0 L1010.1,832.6 L1011.3,834.1 L1012.5,835.7 L1013.7,837.3 L1014.9,838.8 L1016.1,840.4 L1017.4,841.9 L1018.6,843.4 L1019.8,844.9 L1021.1,846.5 L1022.3,848.0 L1023.6,849.5 L1024.9,851.0 L1026.2,852.4 L1027.4,853.9 L1028.7,855.4 L1030.0,856.9 L1031.3,858.3 L1032.7,859.8 L1034.0,861.2 L1035.3,862.6 L1036.6,864.1 L1038.0,865.5 L1039.3,866.9 L1040.7,868.3 L1042.1,869.7 L1043.4,871.1 L1044.8,872.5 L1046.2,873.8 L1047.6,875.2 L1049.0,876.5 L1050.5,877.9 L1051.9,879.2 L1053.3,880.5 L1054.8,881.8 L1056.2,883.1 L1057.7,884.4 L1059.2,885.7 L1060.6,887.0 L1062.1,888.3 L1063.6,889.5 L1065.1,890.8 L1066.7,892.0 L1068.2,893.3 L1069.7,894.5 L1071.2,895.7 L1072.8,896.9 L1074.3,898.1 L1075.9,899.3 L1077.5,900.5 L1079.1,901.7 L1080.6,902.8 L1082.2,904.0 L1083.8,905.1 L1085.4,906.3 L1087.1,907.4 L1088.7,908.6 L1090.3,909.7 L1091.9,910.8 L1093.6,911.9 L1095.2,913.0 L1096.9,914.1 L1098.5,915.2 L1100.2,916.2 L1101.9,917.3 L1103.6,918.4 L1105.2,919.4 L1106.9,920.5 L1108.6,921.5 L1110.3,922.5 L1112.0,923.5 L1113.8,924.6 L1115.5,925.6 L1117.2,926.6 L1118.9,927.6 L1120.7,928.5 L1122.4,929.5 L1124.2,930.5 L1125.9,931.5 L1127.7,932.4 L1129.5,933.4 L1131.2,934.3 L1133.0,935.3 L1134.8,936.2 L1136.6,937.1 L1138.4,938.0 L1140.1,938.9 L1141.9,939.9 L1143.7,940.8 L1145.6,941.6 L1147.4,942.5 L1149.2,943.4 L1151.0,944.3 L1152.8,945.2 L1154.6,946.0 L1156.5,946.9 L1158.3,947.7 L1160.1,948.6 L1162.0,949.4 L1163.8,950.3 L1165.7,951.1 L1167.5,951.9 L1169.4,952.7 L1171.2,953.5 L1173.1,954.3 L1175.0,955.1 L1176.8,955.9 L1178.7,956.7 L1180.6,957.5 L1182.5,958.3 L1184.3,959.0 L1186.2,959.8 L1188.1,960.6 L1190.0,961.3 L1191.9,962.1 L1193.8,962.8 L1195.7,963.6 L1197.5,964.3 L1199.4,965.0 L1201.3,965.8 L1203.2,966.5 L1205.1,967.2 L1207.0,967.9 L1209.0,968.6 L1210.9,969.3 L1212.8,970.0 L1214.7,970.7 L1216.6,971.4 L1218.5,972.1 L1220.4,972.8 L1222.3,973.5 L1224.2,974.1 L1226.1,974.8 L1228.1,975.5 L1230.0,976.1 L1231.9,976.8 L1233.8,977.4 L1235.7,978.1 L1237.6,978.7 L1239.6,979.4 L1241.5,980.0 L1243.4,980.6 L1245.3,981.3 L1247.2,981.9 L1249.2,982.5 L1251.1,983.1 L1253.0,983.7 L1254.9,984.4 L1256.9,985.0 L1258.8,985.6 L1260.7,986.2 L1262.6,986.8 L1264.5,987.4 L1266.5,987.9 L1268.4,988.5 L1270.3,989.1 L1272.2,989.7 L1274.2,990.3 L1276.1,990.8 L1278.0,991.4 L1280.0,992.0 L1281.9,992.5 L1283.8,993.1 L1285.7,993.6 L1287.7,994.2 L1289.6,994.7 L1291.5,995.3 L1293.5,995.8 L1295.4,996.4 L1297.3,996.9 L1299.3,997.4 L1301.2,997.9 L1303.1,998.5 L1305.1,999.0 L1307.0,999.5 L1308.9,1000.0 L1310.9,1000.5 L1312.8,1001.0 L1314.7,1001.6 L1316.7,1002.1 L1318.6,1002.6 L1320.5,1003.1 L1322.5,1003.6 L1324.4,1004.0 L1326.3,1004.5 L1328.3,1005.0 L1330.2,1005.5 L1332.2,1006.0 L1334.1,1006.5 L1336.0,1006.9 L1338.0,1007.4 L1339.9,1007.9 L1341.9,1008.4 L1343.8,1008.8 L1345.7,1009.3 L1347.7,1009.7 L1349.6,1010.2 L1351.6,1010.7 L1353.5,1011.1 L1355.5,1011.6 L1357.4,1012.0 L1359.3,1012.5 L1361.3,1012.9 L1363.2,1013.3 L1365.2,1013.8 L1367.1,1014.2 L1369.1,1014.7 L1371.0,1015.1 L1373.0,1015.5 L1374.9,1015.9 L1376.9,1016.4 L1378.8,1016.8 L1380.8,1017.2 L1382.7,1017.6 L1384.7,1018.1 L1386.6,1018.5 L1388.6,1018.9 L1390.5,1019.3 L1392.5,1019.7 L1394.4,1020.1 L1396.4,1020.5 L1398.3,1020.9 L1400.3,1021.3 L1402.2,1021.7 L1404.2,1022.1 L1406.1,1022.5 L1408.1,1022.9 L1410.0,1023.3 L1412.0,1023.7 L1414.0,1024.1 L1415.9,1024.5 L1417.9,1024.9 L1419.8,1025.3 L1421.8,1025.6 L1423.7,1026.0 L1425.7,1026.4 L1427.6,1026.8 L1429.6,1027.2 L1431.6,1027.5 L1433.5,1027.9 L1435.5,1028.3 L1437.4,1028.7 L1439.4,1029.0 L1441.4,1029.4 L1443.3,1029.8 L1445.3,1030.1 L1447.2,1030.5 L1449.2,1030.9 L1451.2,1031.2 L1453.1,1031.6 L1455.1,1031.9 L1457.1,1032.3 L1459.0,1032.7 L1461.0,1033.0 L1463.0,1033.4 L1464.9,1033.7 L1466.9,1034.1 L1468.8,1034.4 L1470.8,1034.8 L1472.8,1035.1 L1474.7,1035.4 L1476.7,1035.8 L1478.7,1036.1 L1480.6,1036.5 L1482.6,1036.8 L1484.6,1037.1 L1486.5,1037.5 L1488.5,1037.8 L1490.5,1038.2 L1492.5,1038.5 L1494.4,1038.8 L1496.4,1039.1 L1498.4,1039.5 L1500.3,1039.8 L1502.3,1040.1 L1504.3,1040.4 L1506.2,1040.8 L1508.2,1041.1 L1510.2,1041.4 L1512.2,1041.7 L1514.1,1042.0 L1516.1,1042.3 L1518.1,1042.7 L1520.1,1043.0 L1522.0,1043.3 L1524.0,1043.6 L1526.0,1043.9 L1528.0,1044.2 L1529.9,1044.5 L1531.9,1044.8 L1533.9,1045.1 L1535.9,1045.4 L1537.8,1045.7 L1539.8,1046.0 L1541.8,1046.3 L1543.8,1046.6 L1545.7,1046.9 L1547.7,1047.2 L1549.7,1047.5 L1551.7,1047.8 L1553.7,1048.1 L1555.6,1048.4 L1557.6,1048.6 L1559.6,1048.9 L1561.6,1049.2 L1563.5,1049.5 L1565.5,1049.8 L1567.5,1050.1 L1569.5,1050.3 L1571.5,1050.6 L1573.5,1050.9 L1575.4,1051.2 L1577.4,1051.4 L1579.4,1051.7 L1581.4,1052.0 L1583.4,1052.3 L1585.3,1052.5 L1587.3,1052.8 L1589.3,1053.1 L1591.3,1053.3 L1593.3,1053.6 L1595.3,1053.9 L1597.2,1054.1 L1599.2,1054.4 L1601.2,1054.6 L1603.2,1054.9 L1605.2,1055.1 L1607.2,1055.4 L1609.2,1055.7 L1611.1,1055.9 L1613.1,1056.2 L1615.1,1056.4 L1617.1,1056.7 L1619.1,1056.9 L1621.1,1057.2 L1623.1,1057.4 L1625.0,1057.6 L1627.0,1057.9 L1629.0,1058.1 L1631.0,1058.4 L1633.0,1058.6 L1635.0,1058.8 L1637.0,1059.1 L1639.0,1059.3 L1640.9,1059.6 L1642.9,1059.8 L1644.9,1060.0 L1646.9,1060.3 L1648.9,1060.5 L1650.9,1060.7 L1652.9,1060.9 L1654.9,1061.2 L1656.9,1061.4 L1658.9,1061.6 L1660.8,1061.8 L1662.8,1062.1 L1664.8,1062.3 L1666.8,1062.5 L1668.8,1062.7 L1670.8,1062.9 L1672.8,1063.2 L1674.8,1063.4 L1676.8,1063.6 L1678.8,1063.8 L1680.8,1064.0 L1682.8,1064.2 L1684.8,1064.4 L1686.7,1064.6 L1688.7,1064.8 L1690.7,1065.1 L1692.7,1065.3 L1694.7,1065.5 L1696.7,1065.7 L1698.7,1065.9 L1700.7,1066.1 L1702.7,1066.3 L1704.7,1066.5 L1706.7,1066.7 L1708.7,1066.9 L1710.7,1067.1 L1712.7,1067.3 L1714.7,1067.5 L1716.7,1067.6 L1718.7,1067.8 L1720.7,1068.0 L1722.7,1068.2 L1724.7,1068.4 L1726.6,1068.6 L1728.6,1068.8 L1730.6,1069.0 L1732.6,1069.1 L1734.6,1069.3 L1736.6,1069.5 L1738.6,1069.7 L1740.6,1069.9 L1742.6,1070.1 L1744.6,1070.2 L1746.6,1070.4 L1748.6,1070.6 L1750.6,1070.8 L1752.6,1070.9 L1754.6,1071.1 L1756.6,1071.3 L1758.6,1071.5 L1760.6,1071.6 L1762.6,1071.8 L1764.6,1072.0 L1766.6,1072.1 L1768.6,1072.3 L1770.6,1072.5 L1772.6,1072.6 L1774.6,1072.8 L1776.6,1072.9 L1778.6,1073.1 L1780.6,1073.3 L1782.6,1073.4 L1784.6,1073.6 L1786.6,1073.7 L1788.6,1073.9 L1790.6,1074.1 L1792.6,1074.2 L1794.6,1074.4 L1796.6,1074.5 L1798.6,1074.7 L1800.6,1074.8 L1802.6,1075.0 L1804.6,1075.1 L1806.6,1075.3 L1808.6,1075.4 L1810.6,1075.6 L1812.6,1075.7 L1814.6,1075.9 L1816.6,1076.0 L1818.6,1076.1 L1820.6,1076.3 L1822.6,1076.4 L1824.6,1076.6 L1826.6,1076.7 L1828.6,1076.8 L1830.6,1077.0 L1832.6,1077.1 L1834.6,1077.3 L1836.6,1077.4 L1838.6,1077.5 L1840.6,1077.7 L1842.6,1077.8 L1844.6,1077.9 L1846.6,1078.1 L1848.6,1078.2 L1850.7,1078.3 L1852.7,1078.4 L1854.7,1078.6 L1856.7,1078.7 L1858.7,1078.8 L1860.7,1079.0 L1862.7,1079.1 L1864.7,1079.2 L1866.7,1079.3 L1868.7,1079.4 L1870.7,1079.6 L1872.7,1079.7 L1874.7,1079.8 L1876.7,1079.9 L1878.7,1080.0 L1880.7,1080.2 L1882.7,1080.3 L1884.7,1080.4 L1886.7,1080.5 L1888.7,1080.6 L1890.7,1080.7 L1892.7,1080.8 L1894.7,1081.0 L1896.7,1081.1 L1898.7,1081.2 L1900.7,1081.3 L1902.7,1081.4 L1904.7,1081.5 L1906.7,1081.6 L1908.7,1081.7 L1910.7,1081.8 L1912.7,1081.9 L1914.8,1082.0 L1916.8,1082.1 L1918.8,1082.2 L1920.8,1082.3 L1922.8,1082.4 L1924.8,1082.5 L1926.8,1082.6 L1928.8,1082.7 L1930.8,1082.8 L1932.8,1082.9 L1934.8,1083.0 L1936.8,1083.1 L1938.8,1083.2 L1940.8,1083.3 L1942.8,1083.4 L1944.8,1083.5 L1946.8,1083.6 L1948.8,1083.7 L1950.8,1083.8 L1952.8,1083.9 L1954.8,1084.0 L1956.8,1084.0 L1958.8,1084.1 L1960.8,1084.2 L1962.8,1084.3 L1964.8,1084.4 L1966.8,1084.5 L1968.8,1084.6 L1970.8,1084.7 L1972.8,1084.7 L1974.8,1084.8 L1976.9,1084.9 L1978.9,1085.0 L1980.9,1085.1 L1982.9,1085.1 L1984.9,1085.2 L1986.9,1085.3 L1988.9,1085.4 L1990.9,1085.5 L1992.9,1085.5 L1994.9,1085.6 L1996.9,1085.7 L1998.9,1085.8 L2000.9,1085.8 L2002.9,1085.9 L2004.9,1086.0 L2006.9,1086.1 L2008.9,1086.1 L2010.9,1086.2 L2012.9,1086.3 L2014.9,1086.3 L2016.9,1086.4 L2018.9,1086.5 L2020.9,1086.6 L2022.9,1086.6 L2024.9,1086.7 L2026.9,1086.8 L2028.9,1086.8 L2030.9,1086.9 L2032.9,1087.0 L2034.9,1087.0 L2036.9,1087.1 L2038.9,1087.2 L2040.9,1087.2 L2042.9,1087.3 L2044.9,1087.3 L2046.9,1087.4 L2048.9,1087.5 L2050.9,1087.5 L2052.9,1087.6 L2054.9,1087.6 L2056.9,1087.7 L2058.9,1087.8 L2060.9,1087.8 L2062.9,1087.9 L2064.9,1087.9 L2066.9,1088.0 L2068.9,1088.1 L2070.9,1088.1 L2072.9,1088.2 L2074.9,1088.2 L2076.9,1088.3 L2078.9,1088.3 L2080.9,1088.4 L2082.9,1088.4 L2084.9,1088.5 L2086.9,1088.5 L2088.9,1088.6 L2090.9,1088.6 L2092.9,1088.7 L2094.9,1088.7 L2096.9,1088.8 L2098.9,1088.8 L2100.9,1088.9 L2102.9,1088.9 L2104.9,1089.0 L2106.9,1089.0 L2108.9,1089.1 L2110.9,1089.1 L2112.9,1089.2 L2114.9,1089.2 L2116.9,1089.3 L2118.9,1089.3 L2120.9,1089.3 L2122.9,1089.4 L2124.8,1089.4 L2126.8,1089.5 L2128.8,1089.5 L2130.8,1089.6 L2132.8,1089.6 L2134.8,1089.6 L2136.8,1089.7 L2138.8,1089.7 L2140.8,1089.8 L2142.8,1089.8 L2144.8,1089.8 L2146.8,1089.9 L2148.8,1089.9 L2150.8,1090.0 L2152.8,1090.0 L2154.8,1090.0 L2156.8,1090.1 L2158.8,1090.1 L2160.7,1090.1 L2162.7,1090.2 L2164.7,1090.2 L2166.7,1090.3 L2168.7,1090.3 L2170.7,1090.3 L2172.7,1090.4 L2174.7,1090.4 L2176.7,1090.4 L2178.7,1090.5 L2180.7,1090.5 L2182.7,1090.5 L2184.6,1090.6 L2186.6,1090.6 L2188.6,1090.6 L2190.6,1090.7 L2192.6,1090.7 L2194.6,1090.7 L2196.6,1090.8 L2198.6,1090.8 L2200.6,1090.8 L2202.5,1090.8 L2204.5,1090.9 L2206.5,1090.9 L2208.5,1090.9" stroke="#008080"/>
<path d="M307.1,619.5 L307.5,621.5 L308.0,623.5 L308.5,625.6 L308.9,627.6 L309.4,629.6 L309.9,631.6 L310.3,633.6 L310.8,635.5 L311.3,637.5 L311.8,639.5 L312.3,641.4 L312.8,643.3 L313.3,645.3 L313.8,647.2 L314.3,649.1 L314.8,651.1 L315.4,653.0 L315.9,654.9 L316.4,656.8 L317.0,658.7 L317.5,660.6 L318.1,662.5 L318.6,664.3 L319.2,666.2 L319.7,668.1 L320.3,670.0 L320.9,671.9 L321.4,673.7 L322.0,675.6 L322.6,677.5 L323.2,679.4 L323.8,681.2 L324.4,683.1 L325.0,685.0 L325.6,686.9 L326.2,688.8 L326.9,690.6 L327.5,692.5 L328.1,694.4 L328.7,696.3 L329.4,698.2 L330.0,700.1 L330.7,702.0 L331.3,703.9 L332.0,705.8 L332.7,707.8 L333.3,709.7 L334.0,711.6 L334.7,713.5 L335.4,715.5 L336.1,717.4 L336.8,719.3 L337.5,721.2 L338.3,723.2 L339.0,725.1 L339.8,727.0 L340.5,728.9 L341.3,730.8 L342.1,732.7 L343.0,734.5 L343.8,736.4 L344.7,738.2 L345.5,740.1 L346.4,741.9 L347.4,743.7 L348.3,745.5 L349.3,747.2 L350.3,749.0 L351.3,750.7 L352.3,752.4 L353.4,754.1 L354.5,755.8 L355.6,757.4 L356.7,759.0 L357.9,760.6 L359.1,762.1 L360.3,763.6 L361.6,765.1 L362.9,766.6 L364.2,768.0 L365.6,769.4 L367.0,770.8 L368.4,772.1 L369.9,773.4 L371.4,774.6 L372.9,775.8 L374.5,777.0 L376.2,778.1 L377.8,779.2 L379.5,780.2 L381.3,781.2 L383.1,782.2 L384.9,783.0 L386.7,783.9 L388.6,784.6 L390.5,785.3 L392.4,785.8 L394.3,786.3 L396.2,786.7 L398.1,787.1 L400.0,787.3 L402.0,787.3 L403.9,787.3 L405.8,787.2 L407.6,786.9 L409.5,786.5 L411.3,786.0 L413.1,785.3 L414.9,784.5 L416.7,783.5 L418.4,782.5 L420.1,781.3 L421.7,780.1 L423.4,778.8 L425.0,777.4 L426.5,775.9 L428.0,774.4 L429.5,772.9 L431.0,771.3 L432.4,769.7 L433.7,768.1 L435.0,766.5 L436.3,764.9 L437.6,763.2 L438.8,761.6 L440.0,759.9 L441.2,758.2 L442.3,756.6 L443.4,754.9 L444.5,753.2 L445.5,751.5 L446.6,749.8 L447.6,748.1 L448.5,746.4 L449.5,744.6 L450.5,742.9 L451.4,741.2 L452.3,739.4 L453.2,737.7 L454.1,735.9 L455.0,734.2 L455.8,732.4 L456.7,730.7 L457.6,728.9 L458.4,727.2 L459.3,725.4 L460.1,723.6 L460.9,721.9 L461.8,720.1 L462.6,718.3 L463.5,716.6 L464.3,714.8 L465.2,713.1 L466.1,711.3 L467.0,709.5 L467.9,707.8 L468.8,706.0 L469.7,704.3 L470.6,702.6 L471.6,700.8 L472.5,699.1 L473.5,697.3 L474.5,695.6 L475.5,693.9 L476.5,692.2 L477.6,690.5 L478.6,688.8 L479.7,687.1 L480.8,685.4 L481.9,683.7 L483.1,682.0 L484.2,680.3 L485.4,678.6 L486.6,677.0 L487.8,675.3 L489.1,673.7 L490.4,672.0 L491.7,670.4 L493.0,668.8 L494.3,667.2 L495.7,665.6 L497.1,664.0 L498.6,662.5 L500.1,661.0 L501.6,659.6 L503.2,658.4 L504.9,657.2 L506.6,656.2 L508.3,655.4 L510.2,654.7 L512.1,654.1 L514.0,653.7 L516.0,653.5 L518.0,653.4 L519.9,653.4 L521.9,653.6 L523.9,653.8 L525.8,654.2 L527.7,654.7 L529.6,655.3 L531.3,656.1 L533.0,656.9 L534.7,657.8 L536.3,658.8 L537.8,659.9 L539.3,661.0 L540.7,662.3 L542.0,663.6 L543.3,665.0 L544.6,666.4 L545.8,667.9 L547.0,669.5 L548.1,671.1 L549.2,672.8 L550.2,674.6 L551.2,676.3 L552.2,678.1 L553.1,680.0 L554.0,681.9 L554.9,683.8 L555.8,685.7 L556.6,687.6 L557.4,689.6 L558.2,691.6 L559.0,693.6 L559.8,695.6 L560.5,697.6 L561.3,699.5 L562.0,701.5 L562.7,703.5 L563.5,705.4 L564.2,707.4 L564.9,709.3 L565.6,711.2 L566.3,713.1 L567.1,714.9 L567.8,716.8 L568.5,718.6 L569.3,720.4 L570.0,722.2 L570.7,724.0 L571.4,725.8 L572.2,727.6 L572.9,729.4 L573.7,731.1 L574.4,732.9 L575.1,734.7 L575.9,736.5 L576.6,738.3 L577.4,740.1 L578.1,741.9 L578.9,743.7 L579.7,745.5 L580.4,747.3 L581.2,749.1 L582.0,751.0 L582.7,752.8 L583.5,754.7 L584.3,756.5 L585.1,758.4 L585.9,760.2 L586.7,762.1 L587.5,763.9 L588.3,765.8 L589.1,767.7 L589.9,769.5 L590.7,771.4 L591.5,773.2 L592.3,775.1 L593.1,777.0 L593.9,778.8 L594.7,780.7 L595.6,782.5 L596.4,784.4 L597.2,786.2 L598.1,788.1 L598.9,789.9 L599.7,791.7 L600.6,793.5 L601.4,795.3 L602.3,797.2 L603.1,799.0 L604.0,800.7 L604.8,802.5 L605.7,804.3 L606.5,806.1 L607.4,807.8 L608.3,809.6 L609.2,811.3 L610.0,813.0 L610.9,814.7 L611.8,816.4 L612.7,818.1 L613.5,819.7 L614.4,821.4 L615.3,823.0 L616.2,824.7 L617.1,826.3 L618.1,827.9 L619.0,829.5 L619.9,831.2 L620.9,832.8 L621.9,834.4 L622.9,836.1 L623.9,837.7 L624.9,839.4 L626.0,841.1 L627.1,842.8 L628.2,844.5 L629.3,846.3 L630.5,848.0 L631.7,849.8 L632.9,851.7 L634.1,853.5 L635.4,855.4 L636.8,857.3 L638.1,859.2 L639.5,860.9 L641.0,862.5 L642.5,864.0 L644.0,865.2 L645.5,866.1 L647.1,866.6 L648.6,866.8 L650.3,866.7 L651.9,866.3 L653.5,865.6 L655.1,864.8 L656.7,863.8 L658.2,862.7 L659.7,861.5 L661.1,860.3 L662.5,859.0 L663.9,857.6 L665.2,856.2 L666.4,854.8 L667.7,853.2 L668.9,851.7 L670.0,850.1 L671.1,848.4 L672.2,846.7 L673.3,845.0 L674.3,843.3 L675.4,841.5 L676.3,839.7 L677.3,837.9 L678.3,836.0 L679.2,834.2 L680.1,832.3 L681.0,830.4 L681.9,828.6 L682.8,826.7 L683.7,824.8 L684.5,822.9 L685.4,821.0 L686.3,819.2 L687.1,817.3 L688.0,815.5 L688.8,813.6 L689.6,811.8 L690.5,809.9 L691.3,808.1 L692.1,806.3 L693.0,804.4 L693.8,802.6 L694.6,800.8 L695.4,799.0 L696.2,797.2 L697.1,795.3 L697.9,793.5 L698.7,791.7 L699.5,789.9 L700.3,788.1 L701.1,786.3 L702.0,784.5 L702.8,782.7 L703.6,781.0 L704.4,779.2 L705.2,777.4 L706.1,775.6 L706.9,773.8 L707.7,772.0 L708.6,770.3 L709.4,768.5 L710.2,766.7 L711.1,764.9 L711.9,763.1 L712.8,761.4 L713.6,759.6 L714.5,757.8 L715.4,756.0 L716.3,754.2 L717.1,752.5 L718.0,750.7 L718.9,748.9 L719.8,747.1 L720.7,745.3 L721.7,743.5 L722.6,741.8 L723.5,740.0 L724.5,738.2 L725.4,736.4 L726.4,734.7 L727.4,732.9 L728.4,731.2 L729.4,729.4 L730.5,727.7 L731.5,726.0 L732.6,724.3 L733.7,722.6 L734.8,721.0 L735.9,719.3 L737.1,717.7 L738.3,716.1 L739.5,714.6 L740.8,713.0 L742.0,711.5 L743.3,710.0 L744.6,708.6 L746.0,707.2 L747.4,705.8 L748.8,704.4 L750.2,703.1 L751.7,701.7 L753.1,700.4 L754.6,699.1 L756.1,697.8 L757.6,696.6 L759.1,695.3 L760.7,694.0 L762.2,692.7 L763.8,691.5 L765.3,690.2 L766.9,688.9 L768.5,687.7 L770.1,686.5 L771.7,685.2 L773.3,684.1 L774.9,682.9 L776.6,681.8 L778.3,680.8 L780.0,679.8 L781.7,678.9 L783.5,678.0 L785.3,677.3 L787.1,676.6 L789.0,676.0 L790.9,675.5 L792.9,675.1 L794.9,674.8 L797.0,674.6 L799.1,674.6 L801.2,674.7 L803.4,674.9 L805.6,675.2 L807.8,675.7 L809.9,676.3 L811.9,677.1 L813.7,677.9 L815.5,678.9 L817.1,680.0 L818.6,681.2 L820.0,682.5 L821.3,683.9 L822.5,685.4 L823.5,686.9 L824.6,688.5 L825.5,690.2 L826.4,692.0 L827.2,693.7 L827.9,695.6 L828.6,697.4 L829.3,699.3 L830.0,701.2 L830.6,703.2 L831.3,705.1 L831.9,707.0 L832.5,708.9 L833.1,710.9 L833.7,712.8 L834.3,714.7 L834.8,716.6 L835.4,718.6 L836.0,720.5 L836.5,722.5 L837.1,724.4 L837.6,726.3 L838.2,728.3 L838.7,730.2 L839.2,732.1 L839.7,734.1 L840.3,736.0 L840.8,738.0 L841.2,739.9 L841.7,741.9 L842.2,743.8 L842.7,745.8 L843.2,747.7 L843.6,749.7 L844.1,751.6 L844.5,753.6 L845.0,755.5 L845.4,757.5 L845.9,759.5 L846.3,761.4 L846.7,763.4 L847.1,765.3 L847.5,767.3 L847.9,769.2 L848.3,771.2 L848.7,773.2 L849.1,775.1 L849.5,777.1 L849.9,779.1 L850.3,781.0 L850.6,783.0 L851.0,785.0 L851.4,786.9 L851.7,788.9 L852.1,790.9 L852.4,792.9 L852.7,794.8 L853.1,796.8 L853.4,798.8 L853.7,800.8 L854.1,802.7 L854.4,804.7 L854.7,806.7 L855.0,808.7 L855.3,810.6 L855.6,812.6 L855.9,814.6 L856.2,816.6 L856.5,818.6 L856.8,820.5 L857.0,822.5 L857.3,824.5 L857.6,826.5 L857.9,828.5 L858.1,830.5 L858.4,832.4 L858.7,834.4 L858.9,836.4 L859.2,838.4 L859.4,840.4 L859.7,842.4 L859.9,844.4 L860.2,846.3 L860.4,848.3 L860.6,850.3 L860.9,852.3 L861.1,854.3 L861.3,856.3 L861.6,858.3 L861.8,860.3 L862.0,862.3 L862.2,864.3 L862.5,866.2 L862.7,868.2 L862.9,870.2 L863.1,872.2 L863.3,874.2 L863.5,876.2 L863.7,878.2 L863.9,880.2 L864.1,882.2 L864.4,884.2 L864.6,886.2 L864.8,888.2 L865.0,890.2 L865.2,892.1 L865.3,894.1 L865.5,896.1 L865.7,898.1 L865.9,900.1 L866.1,902.1 L866.3,904.1 L866.5,906.1 L866.7,908.1 L866.9,910.1 L867.1,912.1 L867.3,914.1 L867.5,916.1 L867.6,918.1 L867.8,920.1 L868.0,922.1 L868.2,924.0 L868.4,926.0 L868.6,928.0 L868.8,930.0 L869.0,932.0 L869.2,934.0 L869.3,936.0 L869.5,938.0 L869.7,940.0 L869.9,942.0 L870.1,944.0 L870.3,946.0 L870.5,948.0 L870.7,950.0 L870.8,951.9 L871.0,953.9 L871.2,955.9 L871.4,957.9 L871.6,959.9 L871.8,961.9 L872.0,963.9 L872.2,965.9 L872.4,967.9 L872.6,969.9 L872.7,971.9 L872.9,973.8 L873.1,975.8 L873.3,977.8 L873.5,979.8 L873.7,981.8 L873.9,983.8 L874.1,985.8 L874.3,987.8 L874.4,989.8 L874.6,991.8 L874.8,993.8 L875.0,995.7 L875.2,997.7 L875.4,999.7 L875.6,1001.7 L875.8,1003.7 L876.0,1005.7 L876.2,1007.7 L876.3,1009.7 L876.5,1011.7 L876.7,1013.7 L876.9,1015.6 L877.1,1017.6 L877.3,1019.6 L877.5,1021.6 L877.7,1023.6 L877.9,1025.6 L878.1,1027.6 L878.2,1029.6 L878.4,1031.6 L878.6,1033.6 L878.8,1035.6 L879.0,1037.5 L879.2,1039.5 L879.4,1041.5 L879.6,1043.5 L879.8,1045.5 L880.0,1047.5 L880.1,1049.5 L880.3,1051.5 L880.5,1053.5 L880.7,1055.5 L880.9,1057.4 L881.1,1059.4 L881.3,1061.4 L881.5,1063.4 L881.7,1065.4 L881.9,1067.4 L882.0,1069.4 L882.2,1071.4 L882.4,1073.4 L882.6,1075.4 L882.8,1077.4 L883.0,1079.4 L883.2,1081.3 L883.4,1083.3 L883.6,1085.3 L883.8,1087.3 L883.9,1089.3 L884.1,1091.3 L884.3,1093.3 L884.5,1095.3 L884.7,1097.3 L884.9,1099.3 L885.1,1101.3 L885.3,1103.3 L885.5,1105.3 L885.7,1107.3 L885.8,1109.2 L886.0,1111.2 L886.2,1113.2 L886.4,1115.2 L886.6,1117.2 L886.8,1119.2 L887.0,1121.2 L887.2,1123.2 L887.4,1125.2 L887.5,1127.2 L887.7,1129.2 L887.9,1131.2 L888.1,1133.2 L888.3,1135.2 L888.5,1137.2 L888.7,1139.2 L888.9,1141.2 L889.1,1143.2 L889.2,1145.2 L889.4,1147.2 L889.6,1149.2 L889.8,1151.2 L890.0,1153.2 L890.2,1155.1 L890.4,1157.1 L890.6,1159.1 L890.7,1161.1 L890.9,1163.1 L891.1,1165.1 L891.3,1167.1 L891.5,1169.1 L891.7,1171.1 L891.9,1173.1 L892.1,1175.1 L892.3,1177.1 L892.4,1179.1 L892.6,1181.1 L892.8,1183.1 L893.0,1185.1 L893.2,1187.1 L893.4,1189.1 L893.6,1191.1 L893.8,1193.1 L894.0,1195.1 L894.2,1197.1 L894.4,1199.1 L894.6,1201.1 L894.8,1203.1 L895.0,1205.1 L895.2,1207.1 L895.3,1209.1 L895.5,1211.1 L895.7,1213.1 L895.9,1215.1 L896.1,1217.1 L896.3,1219.1 L896.5,1221.1 L896.7,1223.1 L896.9,1225.1 L897.2,1227.1 L897.4,1229.0 L897.6,1231.0 L897.8,1233.0 L898.0,1235.0 L898.2,1237.0 L898.4,1239.0 L898.6,1241.0 L898.8,1243.0 L899.0,1245.0 L899.2,1247.0 L899.4,1249.0 L899.7,1250.9 L899.9,1252.9 L900.1,1254.9 L900.3,1256.9 L900.5,1258.9 L900.8,1260.9 L901.0,1262.9 L901.2,1264.9 L901.4,1266.8 L901.6,1268.8 L901.9,1270.8 L902.1,1272.8 L902.3,1274.8 L902.6,1276.8 L902.8,1278.7 L903.0,1280.7 L903.3,1282.7 L903.5,1284.7 L903.7,1286.6 L904.0,1288.6 L904.2,1290.6 L904.5,1292.6 L904.7,1294.5 L905.0,1296.5 L905.2,1298.5 L905.4,1300.5 L905.7,1302.4 L905.9,1304.4 L906.2,1306.4 L906.5,1308.3 L906.7,1310.3 L907.0,1312.3 L907.2,1314.2 L907.5,1316.2 L907.8,1318.2 L908.0,1320.1 L908.3,1322.1 L908.6,1324.0 L908.8,1326.0 L909.1,1328.0 L909.4,1329.9 L909.7,1331.9 L909.9,1333.8 L910.2,1335.8 L910.5,1337.7 L910.8,1339.7 L911.1,1341.6 L911.4,1343.6 L911.7,1345.6 L912.0,1347.5 L912.3,1349.5 L912.6,1351.4 L912.9,1353.4 L913.2,1355.4 L913.6,1357.3 L913.9,1359.3 L914.2,1361.3 L914.6,1363.3 L914.9,1365.3 L915.3,1367.3 L915.7,1369.3 L916.0,1371.3 L916.4,1373.3 L916.8,1375.3 L917.2,1377.3 L917.6,1379.4 L918.1,1381.4 L918.5,1383.5 L918.9,1385.5 L919.4,1387.6 L919.8,1389.7 L920.3,1391.8 L920.8,1393.9 L921.3,1396.0 L921.8,1398.1 L922.4,1400.1 L923.1,1402.1 L923.8,1404.0 L924.6,1405.8 L925.6,1407.5 L926.6,1409.0 L927.8,1410.3 L929.0,1411.4 L930.3,1412.1 L931.5,1412.4 L932.7,1412.3 L933.9,1411.9 L935.1,1411.0 L936.2,1409.9 L937.3,1408.5 L938.3,1406.9 L939.3,1405.1 L940.2,1403.2 L941.1,1401.2 L941.9,1399.1 L942.6,1397.1 L943.3,1395.1 L943.9,1393.1 L944.5,1391.1 L945.0,1389.1 L945.5,1387.1 L946.0,1385.1 L946.4,1383.1 L946.8,1381.1 L947.2,1379.1 L947.6,1377.1 L948.0,1375.1 L948.3,1373.1 L948.7,1371.1 L949.0,1369.1 L949.3,1367.1 L949.6,1365.1 L949.9,1363.2 L950.2,1361.2 L950.5,1359.2 L950.8,1357.2 L951.0,1355.2 L951.3,1353.3 L951.6,1351.3 L951.8,1349.3 L952.0,1347.3 L952.3,1345.3 L952.5,1343.4 L952.8,1341.4 L953.0,1339.4 L953.2,1337.4 L953.5,1335.5 L953.7,1333.5 L953.9,1331.5 L954.2,1329.5 L954.4,1327.6 L954.6,1325.6 L954.9,1323.6 L955.1,1321.6 L955.4,1319.6 L955.6,1317.7 L955.8,1315.7 L956.1,1313.7 L956.3,1311.7 L956.6,1309.7 L956.8,1307.8 L957.1,1305.8 L957.4,1303.8 L957.6,1301.8 L957.9,1299.8 L958.1,1297.9 L958.4,1295.9 L958.6,1293.9 L958.9,1291.9 L959.2,1289.9 L959.4,1287.9 L959.7,1286.0 L959.9,1284.0 L960.2,1282.0 L960.5,1280.0 L960.7,1278.0 L961.0,1276.1 L961.3,1274.1 L961.5,1272.1 L961.8,1270.1 L962.1,1268.1 L962.4,1266.1 L962.6,1264.1 L962.9,1262.2 L963.2,1260.2 L963.4,1258.2 L963.7,1256.2 L964.0,1254.2 L964.2,1252.2 L964.5,1250.2 L964.8,1248.3 L965.1,1246.3 L965.3,1244.3 L965.6,1242.3 L965.9,1240.3 L966.1,1238.3 L966.4,1236.3 L966.7,1234.4 L967.0,1232.4 L967.2,1230.4 L967.5,1228.4 L967.8,1226.4 L968.0,1224.4 L968.3,1222.4 L968.6,1220.5 L968.8,1218.5 L969.1,1216.5 L969.4,1214.5 L969.6,1212.5 L969.9,1210.5 L970.2,1208.5 L970.4,1206.5 L970.7,1204.6 L971.0,1202.6 L971.2,1200.6 L971.5,1198.6 L971.8,1196.6 L972.0,1194.6 L972.3,1192.6 L972.5,1190.7 L972.8,1188.7 L973.0,1186.7 L973.3,1184.7 L973.5,1182.7 L973.8,1180.7 L974.0,1178.7 L974.3,1176.7 L974.5,1174.8 L974.8,1172.8 L975.0,1170.8 L975.3,1168.8 L975.5,1166.8 L975.8,1164.8 L976.0,1162.8 L976.3,1160.9 L976.5,1158.9 L976.7,1156.9 L977.0,1154.9 L977.2,1152.9 L977.5,1150.9 L977.7,1148.9 L977.9,1146.9 L978.2,1145.0 L978.4,1143.0 L978.6,1141.0 L978.9,1139.0 L979.1,1137.0 L979.3,1135.0 L979.5,1133.0 L979.8,1131.0 L980.0,1129.1 L980.2,1127.1 L980.5,1125.1 L980.7,1123.1 L980.9,1121.1 L981.1,1119.1 L981.3,1117.1 L981.6,1115.1 L981.8,1113.2 L982.0,1111.2 L982.2,1109.2 L982.5,1107.2 L982.7,1105.2 L982.9,1103.2 L983.1,1101.2 L983.3,1099.2 L983.5,1097.3 L983.7,1095.3 L984.0,1093.3 L984.2,1091.3 L984.4,1089.3 L984.6,1087.3 L984.8,1085.3 L985.0,1083.3 L985.2,1081.4 L985.4,1079.4 L985.6,1077.4 L985.9,1075.4 L986.1,1073.4 L986.3,1071.4 L986.5,1069.4 L986.7,1067.4 L986.9,1065.4 L987.1,1063.5 L987.3,1061.5 L987.5,1059.5 L987.7,1057.5 L987.9,1055.5 L988.1,1053.5 L988.3,1051.5 L988.5,1049.5 L988.7,1047.5 L988.9,1045.5 L989.1,1043.6 L989.3,1041.6 L989.5,1039.6 L989.7,1037.6 L989.9,1035.6 L990.1,1033.6 L990.3,1031.6 L990.5,1029.6 L990.7,1027.6 L990.9,1025.6 L991.1,1023.6 L991.3,1021.7 L991.5,1019.7 L991.6,1017.7 L991.8,1015.7 L992.0,1013.7 L992.2,1011.7 L992.4,1009.7 L992.6,1007.7 L992.8,1005.7 L993.0,1003.7 L993.2,1001.7 L993.4,999.7 L993.6,997.7 L993.7,995.8 L993.9,993.8 L994.1,991.8 L994.3,989.8 L994.5,987.8 L994.7,985.8 L994.9,983.8 L995.1,981.8 L995.3,979.8 L995.4,977.8 L995.6,975.8 L995.8,973.8 L996.0,971.8 L996.2,969.8 L996.4,967.8 L996.6,965.8 L996.7,963.8 L996.9,961.8 L997.1,959.8 L997.3,957.9 L997.5,955.9 L997.7,953.9 L997.9,951.9 L998.0,949.9 L998.2,947.9 L998.4,945.9 L998.6,943.9 L998.8,941.9 L999.0,939.9 L999.2,937.9 L999.3,935.9 L999.5,933.9 L999.7,931.9 L999.9,929.9 L1000.1,927.9 L1000.3,925.9 L1000.4,923.9 L1000.6,921.9 L1000.8,919.9 L1001.0,917.9 L1001.2,915.9 L1001.4,913.9 L1001.5,911.9 L1001.7,909.9 L1001.9,907.9 L1002.1,905.9 L1002.3,903.9 L1002.5,901.9 L1002.7,899.9 L1002.9,897.9 L1003.1,895.9 L1003.3,893.9 L1003.5,891.9 L1003.8,889.9 L1004.0,887.9 L1004.3,885.9 L1004.5,884.0 L1004.8,882.0 L1005.0,880.0 L1005.3,878.0 L1005.6,876.0 L1005.9,874.1 L1006.2,872.1 L1006.6,870.1 L1006.9,868.2 L1007.3,866.2 L1007.6,864.2 L1008.0,862.3 L1008.4,860.3 L1008.8,858.4 L1009.3,856.5 L1009.7,854.5 L1010.2,852.6 L1010.7,850.7 L1011.2,848.7 L1011.7,846.8 L1012.2,844.9 L1012.8,843.0 L1013.4,841.1 L1013.9,839.2 L1014.5,837.3 L1015.1,835.4 L1015.7,833.5 L1016.3,831.6 L1016.9,829.7 L1017.5,827.8 L1018.1,825.9 L1018.7,824.0 L1019.3,822.1 L1019.9,820.2 L1020.4,818.3 L1021.0,816.4 L1021.6,814.5 L1022.1,812.6 L1022.7,810.7 L1023.2,808.7 L1023.7,806.8 L1024.3,804.9 L1024.8,803.0 L1025.4,801.1 L1025.9,799.2 L1026.5,797.3 L1027.0,795.4 L1027.6,793.4 L1028.1,791.5 L1028.7,789.6 L1029.2,787.7 L1029.8,785.8 L1030.4,783.9 L1030.9,782.0 L1031.5,780.1 L1032.1,778.2 L1032.7,776.3 L1033.2,774.4 L1033.8,772.5 L1034.4,770.6 L1035.0,768.7 L1035.6,766.8 L1036.2,764.9 L1036.8,763.0 L1037.5,761.1 L1038.1,759.2 L1038.7,757.3 L1039.3,755.4 L1039.9,753.5 L1040.6,751.6 L1041.2,749.7 L1041.9,747.8 L1042.5,746.0 L1043.2,744.1 L1043.8,742.2 L1044.5,740.3 L1045.2,738.4 L1045.8,736.5 L1046.5,734.6 L1047.2,732.8 L1047.9,730.9 L1048.6,729.0 L1049.3,727.1 L1050.0,725.2 L1050.7,723.4 L1051.4,721.5 L1052.1,719.6 L1052.8,717.7 L1053.6,715.8 L1054.3,714.0 L1055.0,712.1 L1055.8,710.2 L1056.5,708.4 L1057.3,706.5 L1058.1,704.6 L1058.8,702.8 L1059.6,700.9 L1060.4,699.1 L1061.2,697.2 L1062.0,695.4 L1062.8,693.5 L1063.7,691.7 L1064.5,689.9 L1065.3,688.0 L1066.2,686.2 L1067.1,684.4 L1067.9,682.6 L1068.8,680.8 L1069.7,679.0 L1070.6,677.2 L1071.5,675.4 L1072.4,673.6 L1073.4,671.9 L1074.3,670.1 L1075.3,668.4 L1076.3,666.6 L1077.2,664.9 L1078.2,663.2 L1079.3,661.4 L1080.3,659.7 L1081.3,658.0 L1082.4,656.4 L1083.4,654.7 L1084.5,653.0 L1085.6,651.4 L1086.7,649.7 L1087.8,648.1 L1089.0,646.5 L1090.1,644.9 L1091.3,643.3 L1092.5,641.7 L1093.7,640.1 L1094.9,638.5 L1096.1,637.0 L1097.4,635.5 L1098.6,634.0 L1099.9,632.5 L1101.2,631.0 L1102.5,629.5 L1103.9,628.0 L1105.2,626.6 L1106.6,625.2 L1108.0,623.7 L1109.3,622.3 L1110.8,620.9 L1112.2,619.5 L1113.6,618.2 L1115.1,616.8 L1116.5,615.4 L1118.0,614.1 L1119.5,612.8 L1121.0,611.4 L1122.5,610.1 L1124.0,608.8 L1125.5,607.5 L1127.0,606.2 L1128.5,604.9 L1130.1,603.6 L1131.6,602.3 L1133.2,601.0 L1134.7,599.7 L1136.3,598.4 L1137.8,597.1 L1139.4,595.8 L1140.9,594.6 L1142.5,593.3 L1144.1,592.0 L1145.6,590.7 L1147.2,589.4 L1148.8,588.2 L1150.3,586.9 L1151.9,585.6 L1153.4,584.3 L1155.0,583.0 L1156.5,581.7 L1158.1,580.4 L1159.6,579.1 L1161.2,577.7 L1162.7,576.4 L1164.2,575.1 L1165.7,573.8 L1167.3,572.4 L1168.8,571.1 L1170.3,569.8 L1171.8,568.5 L1173.3,567.1 L1174.8,565.8 L1176.4,564.5 L1177.9,563.2 L1179.4,561.9 L1180.9,560.5 L1182.5,559.2 L1184.0,558.0 L1185.5,556.7 L1187.1,555.4 L1188.6,554.1 L1190.1,552.9 L1191.7,551.6 L1193.3,550.4 L1194.8,549.2 L1196.4,548.0 L1198.0,546.8 L1199.6,545.6 L1201.2,544.5 L1202.8,543.3 L1204.5,542.2 L1206.1,541.1 L1207.8,540.0 L1209.4,539.0 L1211.1,538.0 L1212.8,536.9 L1214.5,535.9 L1216.2,535.0 L1217.9,534.0 L1219.7,533.1 L1221.5,532.2 L1223.2,531.3 L1225.0,530.5 L1226.8,529.7 L1228.6,528.9 L1230.5,528.1 L1232.3,527.3 L1234.1,526.6 L1236.0,525.9 L1237.9,525.2 L1239.7,524.5 L1241.6,523.9 L1243.5,523.3 L1245.4,522.7 L1247.3,522.1 L1249.3,521.6 L1251.2,521.1 L1253.1,520.6 L1255.1,520.1 L1257.0,519.6 L1259.0,519.2 L1260.9,518.8 L1262.9,518.4 L1264.9,518.0 L1266.8,517.7 L1268.8,517.3 L1270.8,517.0 L1272.8,516.7 L1274.8,516.5 L1276.7,516.2 L1278.7,516.0 L1280.7,515.8 L1282.7,515.7 L1284.7,515.5 L1286.7,515.4 L1288.7,515.3 L1290.7,515.2 L1292.7,515.1 L1294.7,515.0 L1296.7,515.0 L1298.7,515.0 L1300.6,514.9 L1302.6,514.9 L1304.6,514.9 L1306.6,514.9 L1308.6,514.8 L1310.6,514.8 L1312.6,514.7 L1314.6,514.7 L1316.5,514.6 L1318.5,514.5 L1320.5,514.4 L1322.5,514.3 L1324.5,514.1 L1326.5,513.9 L1328.4,513.7 L1330.4,513.5 L1332.4,513.2 L1334.4,512.9 L1336.4,512.5 L1338.3,512.1 L1340.3,511.7 L1342.3,511.3 L1344.3,510.9 L1346.2,510.4 L1348.2,510.0 L1350.2,509.6 L1352.2,509.1 L1354.2,508.7 L1356.1,508.3 L1358.1,508.0 L1360.1,507.7 L1362.1,507.3 L1364.1,507.1 L1366.1,506.8 L1368.1,506.5 L1370.0,506.3 L1372.0,506.1 L1374.0,505.9 L1376.0,505.7 L1378.0,505.5 L1380.0,505.3 L1382.0,505.1 L1384.0,504.9 L1386.0,504.7 L1388.0,504.6 L1390.0,504.4 L1391.9,504.2 L1393.9,504.0 L1395.9,503.8 L1397.9,503.6 L1399.9,503.4 L1401.9,503.2 L1403.8,502.9 L1405.8,502.7 L1407.8,502.4 L1409.8,502.1 L1411.7,501.8 L1413.7,501.5 L1415.7,501.2 L1417.6,500.9 L1419.6,500.5 L1421.6,500.2 L1423.5,499.8 L1425.5,499.5 L1427.4,499.1 L1429.4,498.7 L1431.4,498.3 L1433.3,497.9 L1435.3,497.5 L1437.2,497.1 L1439.2,496.7 L1441.1,496.3 L1443.1,495.8 L1445.0,495.4 L1447.0,494.9 L1448.9,494.5 L1450.9,494.0 L1452.8,493.5 L1454.7,493.1 L1456.7,492.6 L1458.6,492.1 L1460.6,491.6 L1462.5,491.2 L1464.5,490.7 L1466.4,490.2 L1468.3,489.7 L1470.3,489.2 L1472.2,488.7 L1474.2,488.2 L1476.1,487.7 L1478.1,487.2 L1480.0,486.7 L1481.9,486.2 L1483.9,485.7 L1485.8,485.2 L1487.8,484.7 L1489.7,484.2 L1491.6,483.7 L1493.6,483.2 L1495.5,482.7 L1497.5,482.2 L1499.4,481.7 L1501.4,481.2 L1503.3,480.7 L1505.2,480.2 L1507.2,479.7 L1509.1,479.3 L1511.1,478.8 L1513.0,478.3 L1515.0,477.9 L1516.9,477.4 L1518.9,477.0 L1520.8,476.5 L1522.8,476.1 L1524.7,475.6 L1526.7,475.2 L1528.6,474.8 L1530.6,474.4 L1532.6,473.9 L1534.5,473.5 L1536.5,473.1 L1538.4,472.7 L1540.4,472.3 L1542.3,471.9 L1544.3,471.5 L1546.3,471.1 L1548.2,470.8 L1550.2,470.4 L1552.2,470.0 L1554.1,469.6 L1556.1,469.3 L1558.0,468.9 L1560.0,468.6 L1562.0,468.2 L1563.9,467.9 L1565.9,467.5 L1567.9,467.2 L1569.9,466.8 L1571.8,466.5 L1573.8,466.2 L1575.8,465.9 L1577.7,465.5 L1579.7,465.2 L1581.7,464.9 L1583.7,464.6 L1585.6,464.3 L1587.6,464.0 L1589.6,463.7 L1591.6,463.4 L1593.5,463.1 L1595.5,462.8 L1597.5,462.5 L1599.5,462.3 L1601.5,462.0 L1603.4,461.7 L1605.4,461.4 L1607.4,461.2 L1609.4,460.9 L1611.4,460.6 L1613.3,460.4 L1615.3,460.1 L1617.3,459.9 L1619.3,459.6 L1621.3,459.4 L1623.3,459.2 L1625.2,458.9 L1627.2,458.7 L1629.2,458.5 L1631.2,458.2 L1633.2,458.0 L1635.2,457.8 L1637.2,457.6 L1639.2,457.3 L1641.1,457.1 L1643.1,456.9 L1645.1,456.7 L1647.1,456.5 L1649.1,456.3 L1651.1,456.1 L1653.1,455.9 L1655.1,455.7 L1657.1,455.5 L1659.1,455.3 L1661.1,455.1 L1663.0,454.9 L1665.0,454.8 L1667.0,454.6 L1669.0,454.4 L1671.0,454.2 L1673.0,454.0 L1675.0,453.9 L1677.0,453.7 L1679.0,453.5 L1681.0,453.4 L1683.0,453.2 L1685.0,453.0 L1687.0,452.9 L1689.0,452.7 L1691.0,452.6 L1693.0,452.4 L1695.0,452.2 L1697.0,452.1 L1699.0,451.9 L1701.0,451.8 L1703.0,451.7 L1705.0,451.5 L1707.0,451.4 L1709.0,451.2 L1711.0,451.1 L1713.0,450.9 L1715.0,450.8 L1717.0,450.7 L1719.0,450.5 L1721.0,450.4 L1723.0,450.3 L1725.0,450.1 L1727.0,450.0 L1729.0,449.9 L1731.0,449.8 L1733.0,449.6 L1735.0,449.5 L1737.0,449.4 L1739.0,449.3 L1741.0,449.1 L1743.0,449.0 L1745.0,448.9 L1747.0,448.8 L1749.0,448.7 L1751.0,448.5 L1753.0,448.4 L1755.0,448.3 L1757.0,448.2 L1759.0,448.1 L1761.0,448.0 L1763.0,447.8 L1765.0,447.7 L1767.0,447.6 L1769.0,447.5 L1771.0,447.4 L1773.0,447.3 L1775.0,447.2 L1777.0,447.1 L1779.0,447.0 L1781.0,446.9 L1783.0,446.7 L1785.0,446.6 L1787.0,446.5 L1789.0,446.4 L1791.0,446.3 L1793.0,446.2 L1795.0,446.1 L1797.0,446.0 L1799.0,445.9 L1801.0,445.8 L1803.0,445.7 L1805.0,445.6 L1807.0,445.5 L1809.0,445.4 L1811.0,445.3 L1813.0,445.1 L1815.0,445.0 L1817.0,444.9 L1819.0,444.8 L1821.0,444.7 L1823.0,444.6 L1825.0,444.5 L1827.0,444.4 L1829.0,444.3 L1831.0,444.2 L1833.0,444.1 L1835.0,444.0 L1837.0,443.9 L1839.0,443.8 L1841.0,443.7 L1843.0,443.6 L1845.0,443.5 L1847.0,443.4 L1849.0,443.3 L1851.0,443.2 L1853.0,443.1 L1855.0,443.0 L1857.0,442.9 L1859.0,442.8 L1861.0,442.7 L1863.0,442.6 L1865.0,442.5 L1867.0,442.5 L1869.0,442.4 L1871.0,442.3 L1873.0,442.2 L1875.0,442.1 L1877.0,442.0 L1879.0,441.9 L1881.0,441.8 L1883.0,441.7 L1885.0,441.6 L1887.0,441.5 L1889.0,441.4 L1891.0,441.3 L1893.0,441.2 L1895.0,441.1 L1897.0,441.0 L1899.0,440.9 L1901.0,440.8 L1903.0,440.7 L1905.0,440.6 L1906.9,440.6 L1908.9,440.5 L1910.9,440.4 L1912.9,440.3 L1914.9,440.2 L1916.9,440.1 L1918.9,440.0 L1920.9,439.9 L1922.9,439.8 L1924.9,439.7 L1926.9,439.6 L1928.9,439.5 L1930.9,439.4 L1932.9,439.4 L1934.9,439.3 L1936.9,439.2 L1938.9,439.1 L1940.9,439.0 L1942.9,438.9 L1944.9,438.8 L1946.9,438.7 L1948.9,438.6 L1950.9,438.5 L1952.9,438.4 L1954.9,438.4 L1956.9,438.3 L1958.9,438.2 L1960.9,438.1 L1962.9,438.0 L1964.9,437.9 L1966.9,437.8 L1968.9,437.7 L1970.9,437.6 L1972.9,437.5 L1974.9,437.5 L1976.9,437.4 L1978.9,437.3 L1980.9,437.2 L1982.9,437.1 L1984.9,437.0 L1986.9,436.9 L1988.9,436.8 L1990.9,436.7 L1992.9,436.6 L1994.9,436.5 L1996.9,436.5 L1998.9,436.4 L2000.9,436.3 L2002.9,436.2 L2004.9,436.1 L2006.9,436.0 L2008.9,435.9 L2010.9,435.8 L2012.9,435.7 L2014.9,435.6 L2016.9,435.6 L2018.9,435.5 L2020.9,435.4 L2022.9,435.3 L2024.9,435.2 L2026.8,435.1 L2028.8,435.0 L2030.8,434.9 L2032.8,434.8 L2034.8,434.7 L2036.8,434.6 L2038.8,434.6 L2040.8,434.5 L2042.8,434.4 L2044.8,434.3 L2046.8,434.2 L2048.8,434.1 L2050.8,434.0 L2052.8,433.9 L2054.8,433.8 L2056.8,433.7 L2058.8,433.6 L2060.8,433.5 L2062.8,433.4 L2064.8,433.4 L2066.8,433.3 L2068.8,433.2 L2070.8,433.1 L2072.8,433.0 L2074.8,432.9 L2076.8,432.8 L2078.8,432.7 L2080.8,432.6 L2082.8,432.5 L2084.8,432.4 L2086.8,432.3 L2088.8,432.2 L2090.8,432.1 L2092.8,432.0 L2094.8,431.9 L2096.8,431.8 L2098.8,431.8 L2100.8,431.7 L2102.8,431.6 L2104.8,431.5 L2106.8,431.4 L2108.8,431.3 L2110.8,431.2 L2112.8,431.1 L2114.8,431.0 L2116.8,430.9 L2118.8,430.8 L2120.8,430.7 L2122.8,430.6 L2124.8,430.5 L2126.8,430.4 L2128.8,430.3 L2130.8,430.2 L2132.8,430.1 L2134.8,430.0 L2136.8,429.9 L2138.8,429.8 L2140.8,429.7 L2142.8,429.6 L2144.8,429.5 L2146.8,429.4 L2148.8,429.3 L2150.8,429.2 L2152.8,429.1 L2154.8,429.0 L2156.8,428.9 L2158.8,428.8 L2160.8,428.7 L2162.8,428.6 L2164.8,428.5 L2166.8,428.4 L2168.8,428.3 L2170.8,428.1 L2172.8,428.0 L2174.8,427.9 L2176.8,427.8 L2178.8,427.7 L2180.8,427.6 L2182.8,427.5 L2184.8,427.4 L2186.8,427.3 L2188.8,427.2 L2190.8,427.1 L2192.8,427.0 L2194.8,426.9 L2196.8,426.7 L2198.8,426.6 L2200.8,426.5 L2202.8,426.4 L2204.8,426.3 L2206.8,426.2 L2208.8,426.1" stroke="#000000"/>
<path d="M306.8,911.1 L307.4,913.2 L308.1,915.2 L308.8,917.2 L309.5,919.1 L310.2,920.9 L310.9,922.8 L311.6,924.6 L312.4,926.4 L313.1,928.1 L313.9,929.8 L314.6,931.6 L315.4,933.3 L316.2,935.0 L316.9,936.8 L317.7,938.5 L318.5,940.3 L319.3,942.1 L320.1,943.9 L320.9,945.8 L321.8,947.7 L322.6,949.6 L323.4,951.6 L324.3,953.6 L325.2,955.7 L326.1,957.7 L327.0,959.8 L328.0,961.8 L329.0,963.8 L330.1,965.7 L331.2,967.5 L332.4,969.3 L333.6,971.0 L334.9,972.5 L336.3,974.0 L337.8,975.2 L339.3,976.3 L340.8,977.1 L342.4,977.7 L344.0,978.0 L345.5,978.1 L347.1,977.8 L348.7,977.2 L350.3,976.3 L351.8,975.3 L353.3,974.1 L354.7,972.8 L356.1,971.4 L357.4,969.9 L358.7,968.5 L359.9,966.9 L361.1,965.4 L362.2,963.8 L363.2,962.1 L364.2,960.4 L365.2,958.7 L366.1,957.0 L367.0,955.2 L367.8,953.4 L368.6,951.6 L369.3,949.8 L370.0,947.9 L370.7,946.0 L371.4,944.1 L372.0,942.2 L372.6,940.2 L373.2,938.3 L373.7,936.3 L374.3,934.3 L374.8,932.3 L375.3,930.3 L375.8,928.3 L376.2,926.3 L376.7,924.3 L377.2,922.3 L377.6,920.3 L378.1,918.2 L378.5,916.2 L379.0,914.2 L379.5,912.2 L379.9,910.2 L380.4,908.2 L380.9,906.2 L381.3,904.3 L381.8,902.3 L382.3,900.3 L382.8,898.4 L383.3,896.4 L383.8,894.4 L384.3,892.5 L384.8,890.6 L385.3,888.6 L385.8,886.7 L386.3,884.7 L386.8,882.8 L387.3,880.9 L387.8,879.0 L388.3,877.0 L388.8,875.1 L389.3,873.2 L389.9,871.3 L390.4,869.4 L390.9,867.4 L391.4,865.5 L391.9,863.6 L392.5,861.7 L393.0,859.8 L393.5,857.8 L394.0,855.9 L394.5,854.0 L395.0,852.1 L395.6,850.2 L396.1,848.3 L396.6,846.3 L397.1,844.4 L397.6,842.5 L398.2,840.6 L398.7,838.6 L399.2,836.7 L399.7,834.8 L400.2,832.9 L400.7,831.0 L401.3,829.0 L401.8,827.1 L402.3,825.2 L402.8,823.3 L403.3,821.3 L403.8,819.4 L404.3,817.5 L404.9,815.6 L405.4,813.6 L405.9,811.7 L406.4,809.8 L406.9,807.8 L407.4,805.9 L407.9,804.0 L408.4,802.1 L408.9,800.1 L409.4,798.2 L410.0,796.3 L410.5,794.3 L411.0,792.4 L411.5,790.5 L412.0,788.5 L412.5,786.6 L413.0,784.7 L413.5,782.7 L414.0,780.8 L414.5,778.9 L415.0,776.9 L415.5,775.0 L415.9,773.0 L416.4,771.1 L416.9,769.2 L417.4,767.2 L417.9,765.3 L418.4,763.3 L418.9,761.4 L419.4,759.5 L419.9,757.5 L420.3,755.6 L420.8,753.6 L421.3,751.7 L421.8,749.7 L422.3,747.8 L422.7,745.8 L423.2,743.9 L423.7,741.9 L424.1,740.0 L424.6,738.0 L425.1,736.1 L425.5,734.1 L426.0,732.2 L426.5,730.2 L426.9,728.3 L427.4,726.3 L427.8,724.4 L428.3,722.4 L428.7,720.5 L429.2,718.5 L429.6,716.5 L430.1,714.6 L430.5,712.6 L431.0,710.7 L431.4,708.7 L431.9,706.7 L432.3,704.8 L432.7,702.8 L433.2,700.8 L433.6,698.9 L434.0,696.9 L434.4,694.9 L434.9,693.0 L435.3,691.0 L435.7,689.0 L436.1,687.0 L436.5,685.1 L436.9,683.1 L437.4,681.1 L437.8,679.1 L438.2,677.2 L438.6,675.2 L439.0,673.2 L439.4,671.2 L439.8,669.2 L440.1,667.3 L440.5,665.3 L440.9,663.3 L441.3,661.3 L441.7,659.3 L442.1,657.3 L442.5,655.3 L442.9,653.4 L443.3,651.4 L443.7,649.4 L444.1,647.5 L444.5,645.5 L444.9,643.5 L445.3,641.6 L445.8,639.6 L446.2,637.7 L446.7,635.8 L447.2,633.8 L447.7,631.9 L448.2,630.0 L448.7,628.1 L449.2,626.2 L449.8,624.3 L450.4,622.5 L451.0,620.6 L451.6,618.8 L452.2,617.0 L452.9,615.1 L453.6,613.3 L454.3,611.6 L455.0,609.8 L455.8,608.0 L456.6,606.3 L457.4,604.6 L458.2,602.9 L459.1,601.2 L460.0,599.5 L461.0,597.8 L461.9,596.2 L462.9,594.6 L464.0,593.0 L465.1,591.4 L466.2,589.9 L467.3,588.4 L468.5,586.8 L469.8,585.3 L471.1,583.8 L472.4,582.4 L473.8,580.9 L475.2,579.5 L476.7,578.0 L478.2,576.6 L479.8,575.2 L481.4,573.7 L483.1,572.4 L484.8,571.0 L486.6,569.8 L488.4,568.6 L490.2,567.6 L492.0,566.7 L493.8,566.0 L495.6,565.5 L497.4,565.2 L499.1,565.1 L500.9,565.3 L502.6,565.7 L504.3,566.3 L505.9,567.1 L507.5,568.1 L509.1,569.2 L510.7,570.5 L512.2,571.8 L513.7,573.3 L515.1,574.7 L516.5,576.3 L517.8,577.8 L519.1,579.4 L520.4,581.0 L521.6,582.6 L522.8,584.3 L523.9,586.0 L525.0,587.6 L526.1,589.3 L527.1,591.1 L528.1,592.8 L529.1,594.6 L530.1,596.3 L531.0,598.1 L531.9,599.9 L532.7,601.7 L533.6,603.6 L534.4,605.4 L535.2,607.2 L536.0,609.1 L536.7,611.0 L537.5,612.8 L538.2,614.7 L538.9,616.6 L539.6,618.5 L540.3,620.4 L541.0,622.3 L541.6,624.2 L542.3,626.1 L543.0,628.0 L543.6,629.9 L544.2,631.8 L544.9,633.7 L545.5,635.6 L546.1,637.5 L546.7,639.4 L547.4,641.3 L548.0,643.2 L548.6,645.1 L549.2,647.0 L549.8,649.0 L550.4,650.9 L551.0,652.8 L551.6,654.7 L552.3,656.6 L552.9,658.5 L553.5,660.4 L554.1,662.3 L554.7,664.2 L555.3,666.1 L555.9,668.0 L556.5,669.9 L557.1,671.7 L557.8,673.6 L558.4,675.5 L559.0,677.4 L559.6,679.3 L560.3,681.2 L560.9,683.1 L561.5,685.0 L562.2,686.9 L562.8,688.8 L563.5,690.7 L564.1,692.6 L564.8,694.5 L565.5,696.3 L566.2,698.2 L566.8,700.1 L567.5,702.0 L568.2,703.9 L568.9,705.8 L569.6,707.6 L570.3,709.5 L571.0,711.4 L571.7,713.3 L572.5,715.1 L573.2,717.0 L573.9,718.9 L574.7,720.7 L575.4,722.6 L576.2,724.4 L576.9,726.3 L577.7,728.2 L578.5,730.0 L579.2,731.9 L580.0,733.7 L580.8,735.5 L581.6,737.4 L582.4,739.2 L583.2,741.0 L584.1,742.9 L584.9,744.7 L585.7,746.5 L586.6,748.3 L587.4,750.1 L588.3,751.9 L589.1,753.7 L590.0,755.5 L590.9,757.3 L591.8,759.1 L592.7,760.9 L593.6,762.7 L594.5,764.4 L595.4,766.2 L596.4,768.0 L597.3,769.7 L598.2,771.5 L599.2,773.2 L600.2,775.0 L601.1,776.7 L602.1,778.5 L603.1,780.2 L604.1,781.9 L605.1,783.6 L606.1,785.3 L607.1,787.1 L608.1,788.8 L609.1,790.5 L610.1,792.2 L611.1,793.9 L612.1,795.6 L613.0,797.3 L614.0,799.0 L615.0,800.7 L616.0,802.4 L617.0,804.2 L618.0,805.9 L618.9,807.6 L619.9,809.3 L620.8,811.0 L621.7,812.7 L622.7,814.5 L623.6,816.2 L624.5,817.9 L625.4,819.6 L626.2,821.4 L627.2,823.1 L628.1,824.8 L629.1,826.5 L630.2,828.1 L631.4,829.7 L632.7,831.2 L634.1,832.7 L635.7,834.1 L637.4,835.4 L639.1,836.6 L641.0,837.7 L642.9,838.7 L644.8,839.4 L646.8,840.0 L648.7,840.4 L650.6,840.6 L652.5,840.6 L654.2,840.3 L656.0,839.7 L657.6,839.0 L659.2,838.1 L660.7,837.0 L662.2,835.7 L663.7,834.4 L665.0,832.9 L666.4,831.4 L667.7,829.7 L668.9,828.1 L670.2,826.4 L671.4,824.8 L672.5,823.1 L673.7,821.4 L674.8,819.7 L675.9,818.0 L676.9,816.2 L678.0,814.5 L679.0,812.8 L680.0,811.0 L680.9,809.2 L681.9,807.5 L682.8,805.7 L683.7,803.9 L684.6,802.1 L685.4,800.3 L686.3,798.5 L687.1,796.7 L688.0,794.9 L688.8,793.1 L689.6,791.2 L690.4,789.4 L691.1,787.6 L691.9,785.7 L692.7,783.9 L693.4,782.1 L694.2,780.2 L694.9,778.4 L695.6,776.5 L696.4,774.6 L697.1,772.8 L697.9,770.9 L698.6,769.1 L699.3,767.2 L700.1,765.4 L700.8,763.5 L701.6,761.6 L702.3,759.8 L703.1,757.9 L703.9,756.1 L704.6,754.2 L705.4,752.4 L706.2,750.5 L707.0,748.7 L707.8,746.9 L708.7,745.0 L709.5,743.2 L710.4,741.4 L711.3,739.5 L712.2,737.7 L713.1,735.9 L714.1,734.2 L715.0,732.4 L716.0,730.7 L717.0,728.9 L718.1,727.2 L719.2,725.6 L720.3,723.9 L721.4,722.3 L722.6,720.7 L723.8,719.1 L725.0,717.6 L726.3,716.1 L727.6,714.7 L729.0,713.3 L730.4,711.9 L731.8,710.6 L733.3,709.3 L734.9,708.1 L736.5,707.0 L738.1,705.9 L739.8,704.8 L741.5,703.8 L743.3,702.9 L745.1,702.0 L746.9,701.2 L748.8,700.4 L750.7,699.7 L752.7,699.1 L754.6,698.5 L756.6,698.0 L758.6,697.5 L760.6,697.2 L762.6,696.9 L764.6,696.6 L766.6,696.4 L768.6,696.3 L770.6,696.3 L772.6,696.4 L774.6,696.5 L776.5,696.7 L778.4,697.0 L780.3,697.3 L782.1,697.7 L784.0,698.2 L785.7,698.8 L787.5,699.5 L789.2,700.2 L790.8,701.0 L792.5,701.9 L794.1,702.8 L795.6,703.9 L797.2,704.9 L798.7,706.0 L800.1,707.2 L801.6,708.5 L803.0,709.8 L804.4,711.1 L805.7,712.5 L807.0,713.9 L808.3,715.4 L809.6,716.9 L810.9,718.4 L812.1,720.0 L813.3,721.6 L814.5,723.3 L815.6,725.0 L816.8,726.7 L817.9,728.4 L819.0,730.2 L820.1,731.9 L821.2,733.7 L822.2,735.5 L823.2,737.3 L824.3,739.1 L825.3,740.9 L826.3,742.8 L827.3,744.6 L828.2,746.4 L829.2,748.3 L830.2,750.1 L831.1,751.9 L832.0,753.8 L832.9,755.6 L833.8,757.4 L834.7,759.3 L835.6,761.1 L836.5,763.0 L837.4,764.8 L838.2,766.7 L839.1,768.5 L839.9,770.4 L840.7,772.2 L841.5,774.1 L842.3,775.9 L843.1,777.8 L843.9,779.6 L844.7,781.5 L845.4,783.4 L846.2,785.2 L847.0,787.1 L847.7,788.9 L848.4,790.8 L849.1,792.7 L849.9,794.6 L850.6,796.4 L851.3,798.3 L851.9,800.2 L852.6,802.1 L853.3,803.9 L854.0,805.8 L854.6,807.7 L855.3,809.6 L855.9,811.5 L856.5,813.4 L857.2,815.2 L857.8,817.1 L858.4,819.0 L859.0,820.9 L859.6,822.8 L860.2,824.7 L860.8,826.6 L861.4,828.5 L861.9,830.4 L862.5,832.3 L863.1,834.2 L863.6,836.1 L864.2,838.0 L864.7,839.9 L865.3,841.8 L865.8,843.7 L866.3,845.6 L866.8,847.5 L867.4,849.5 L867.9,851.4 L868.4,853.3 L868.9,855.2 L869.4,857.1 L869.9,859.0 L870.4,861.0 L870.9,862.9 L871.3,864.8 L871.8,866.7 L872.3,868.7 L872.8,870.6 L873.2,872.5 L873.7,874.4 L874.2,876.4 L874.6,878.3 L875.1,880.2 L875.5,882.2 L876.0,884.1 L876.4,886.0 L876.9,888.0 L877.3,889.9 L877.8,891.9 L878.2,893.8 L878.6,895.8 L879.1,897.7 L879.5,899.6 L879.9,901.6 L880.3,903.5 L880.8,905.5 L881.2,907.4 L881.6,909.4 L882.0,911.3 L882.5,913.3 L882.9,915.3 L883.3,917.2 L883.7,919.2 L884.1,921.1 L884.6,923.1 L885.0,925.0 L885.4,927.0 L885.8,929.0 L886.2,930.9 L886.7,932.9 L887.1,934.9 L887.5,936.8 L887.9,938.8 L888.3,940.8 L888.7,942.7 L889.2,944.7 L889.6,946.7 L890.0,948.7 L890.4,950.6 L890.8,952.6 L891.3,954.6 L891.7,956.6 L892.1,958.5 L892.5,960.5 L892.9,962.5 L893.3,964.5 L893.8,966.4 L894.2,968.4 L894.6,970.4 L895.0,972.4 L895.4,974.3 L895.9,976.3 L896.3,978.3 L896.7,980.3 L897.1,982.2 L897.5,984.2 L897.9,986.2 L898.4,988.2 L898.8,990.1 L899.2,992.1 L899.6,994.1 L900.0,996.1 L900.5,998.0 L900.9,1000.0 L901.3,1002.0 L901.7,1003.9 L902.1,1005.9 L902.5,1007.9 L903.0,1009.9 L903.4,1011.8 L903.8,1013.8 L904.2,1015.8 L904.6,1017.7 L905.1,1019.7 L905.5,1021.6 L905.9,1023.6 L906.3,1025.6 L906.7,1027.5 L907.2,1029.5 L907.6,1031.4 L908.0,1033.4 L908.4,1035.4 L908.8,1037.3 L909.3,1039.3 L909.7,1041.2 L910.1,1043.2 L910.5,1045.1 L910.9,1047.0 L911.4,1049.0 L911.8,1050.9 L912.2,1052.9 L912.6,1054.8 L913.1,1056.7 L913.5,1058.7 L913.9,1060.6 L914.3,1062.5 L914.7,1064.5 L915.2,1066.4 L915.6,1068.3 L916.0,1070.2 L916.4,1072.2 L916.9,1074.1 L917.3,1076.0 L917.7,1077.9 L918.1,1079.8 L918.6,1081.7 L919.0,1083.6 L919.4,1085.5 L919.9,1087.4 L920.3,1089.4 L920.8,1091.3 L921.2,1093.2 L921.7,1095.1 L922.1,1097.0 L922.6,1099.0 L923.1,1100.9 L923.6,1102.8 L924.1,1104.8 L924.7,1106.7 L925.2,1108.7 L925.7,1110.6 L926.3,1112.6 L926.9,1114.6 L927.5,1116.5 L928.1,1118.5 L928.7,1120.5 L929.4,1122.6 L930.0,1124.6 L930.7,1126.6 L931.4,1128.7 L932.1,1130.7 L932.9,1132.8 L933.7,1134.8 L934.6,1136.7 L935.5,1138.5 L936.5,1140.3 L937.5,1141.9 L938.7,1143.3 L939.9,1144.6 L941.3,1145.6 L942.8,1146.5 L944.4,1147.1 L946.0,1147.4 L947.7,1147.5 L949.5,1147.4 L951.2,1147.1 L952.8,1146.5 L954.4,1145.8 L955.8,1144.8 L957.1,1143.5 L958.3,1142.1 L959.4,1140.6 L960.4,1138.9 L961.3,1137.0 L962.1,1135.1 L962.8,1133.1 L963.6,1131.0 L964.2,1128.9 L964.9,1126.8 L965.5,1124.7 L966.1,1122.6 L966.7,1120.5 L967.4,1118.4 L968.0,1116.4 L968.6,1114.4 L969.3,1112.5 L969.9,1110.5 L970.5,1108.6 L971.1,1106.7 L971.7,1104.8 L972.3,1102.9 L972.9,1101.1 L973.5,1099.2 L974.0,1097.3 L974.6,1095.5 L975.1,1093.6 L975.7,1091.7 L976.2,1089.9 L976.7,1088.0 L977.1,1086.1 L977.6,1084.3 L978.0,1082.3 L978.4,1080.4 L978.8,1078.5 L979.2,1076.6 L979.6,1074.6 L979.9,1072.7 L980.2,1070.7 L980.6,1068.7 L980.9,1066.8 L981.2,1064.8 L981.6,1062.8 L981.9,1060.8 L982.2,1058.9 L982.6,1056.9 L982.9,1054.9 L983.3,1052.9 L983.6,1051.0 L984.0,1049.0 L984.3,1047.0 L984.7,1045.1 L985.1,1043.1 L985.4,1041.1 L985.8,1039.2 L986.2,1037.2 L986.5,1035.2 L986.9,1033.3 L987.3,1031.3 L987.7,1029.3 L988.1,1027.4 L988.5,1025.4 L988.9,1023.4 L989.3,1021.5 L989.7,1019.5 L990.1,1017.6 L990.5,1015.6 L990.9,1013.6 L991.3,1011.7 L991.7,1009.7 L992.1,1007.8 L992.6,1005.8 L993.0,1003.9 L993.4,1001.9 L993.8,999.9 L994.3,998.0 L994.7,996.0 L995.1,994.1 L995.6,992.1 L996.0,990.2 L996.5,988.2 L996.9,986.3 L997.3,984.3 L997.8,982.4 L998.2,980.4 L998.7,978.5 L999.1,976.5 L999.6,974.6 L1000.1,972.6 L1000.5,970.7 L1001.0,968.7 L1001.4,966.8 L1001.9,964.9 L1002.4,962.9 L1002.8,961.0 L1003.3,959.0 L1003.8,957.1 L1004.3,955.1 L1004.7,953.2 L1005.2,951.2 L1005.7,949.3 L1006.2,947.4 L1006.6,945.4 L1007.1,943.5 L1007.6,941.5 L1008.1,939.6 L1008.6,937.7 L1009.0,935.7 L1009.5,933.8 L1010.0,931.8 L1010.5,929.9 L1011.0,928.0 L1011.5,926.0 L1012.0,924.1 L1012.5,922.1 L1013.0,920.2 L1013.5,918.3 L1014.0,916.3 L1014.5,914.4 L1015.0,912.5 L1015.5,910.5 L1016.0,908.6 L1016.5,906.7 L1017.0,904.7 L1017.5,902.8 L1018.0,900.9 L1018.5,898.9 L1019.0,897.0 L1019.5,895.1 L1020.0,893.1 L1020.6,891.2 L1021.1,889.3 L1021.6,887.3 L1022.1,885.4 L1022.6,883.5 L1023.2,881.6 L1023.7,879.6 L1024.2,877.7 L1024.8,875.8 L1025.3,873.9 L1025.8,871.9 L1026.4,870.0 L1026.9,868.1 L1027.5,866.2 L1028.0,864.2 L1028.6,862.3 L1029.1,860.4 L1029.7,858.5 L1030.2,856.6 L1030.8,854.6 L1031.4,852.7 L1031.9,850.8 L1032.5,848.9 L1033.1,847.0 L1033.6,845.1 L1034.2,843.1 L1034.8,841.2 L1035.4,839.3 L1035.9,837.4 L1036.5,835.5 L1037.1,833.6 L1037.7,831.7 L1038.3,829.8 L1038.9,827.9 L1039.5,825.9 L1040.1,824.0 L1040.7,822.1 L1041.3,820.2 L1041.9,818.3 L1042.6,816.4 L1043.2,814.5 L1043.8,812.6 L1044.4,810.7 L1045.0,808.8 L1045.7,806.9 L1046.3,805.0 L1047.0,803.1 L1047.6,801.2 L1048.2,799.3 L1048.9,797.4 L1049.6,795.5 L1050.2,793.6 L1050.9,791.8 L1051.5,789.9 L1052.2,788.0 L1052.9,786.1 L1053.6,784.2 L1054.2,782.3 L1054.9,780.4 L1055.6,778.5 L1056.3,776.7 L1057.0,774.8 L1057.7,772.9 L1058.4,771.0 L1059.1,769.1 L1059.8,767.3 L1060.5,765.4 L1061.2,763.5 L1062.0,761.6 L1062.7,759.8 L1063.4,757.9 L1064.2,756.0 L1064.9,754.1 L1065.7,752.3 L1066.4,750.4 L1067.2,748.5 L1067.9,746.7 L1068.7,744.8 L1069.4,742.9 L1070.2,741.1 L1071.0,739.2 L1071.8,737.4 L1072.6,735.5 L1073.4,733.7 L1074.2,731.8 L1075.0,730.0 L1075.8,728.2 L1076.6,726.3 L1077.5,724.5 L1078.3,722.7 L1079.2,720.9 L1080.0,719.0 L1080.9,717.2 L1081.8,715.4 L1082.7,713.6 L1083.6,711.8 L1084.5,710.1 L1085.4,708.3 L1086.3,706.5 L1087.3,704.8 L1088.2,703.0 L1089.2,701.3 L1090.1,699.5 L1091.1,697.8 L1092.1,696.1 L1093.1,694.4 L1094.2,692.7 L1095.2,691.0 L1096.2,689.3 L1097.3,687.6 L1098.4,686.0 L1099.5,684.3 L1100.6,682.7 L1101.7,681.0 L1102.8,679.4 L1103.9,677.8 L1105.1,676.2 L1106.3,674.6 L1107.5,673.1 L1108.7,671.5 L1109.9,669.9 L1111.1,668.4 L1112.3,666.8 L1113.6,665.3 L1114.8,663.8 L1116.1,662.3 L1117.4,660.8 L1118.7,659.3 L1120.0,657.8 L1121.3,656.3 L1122.6,654.8 L1123.9,653.3 L1125.2,651.8 L1126.6,650.3 L1127.9,648.8 L1129.2,647.4 L1130.6,645.9 L1131.9,644.4 L1133.3,642.9 L1134.7,641.5 L1136.0,640.0 L1137.4,638.5 L1138.8,637.0 L1140.1,635.6 L1141.5,634.1 L1142.9,632.6 L1144.2,631.1 L1145.6,629.6 L1147.0,628.1 L1148.3,626.6 L1149.7,625.1 L1151.1,623.6 L1152.5,622.1 L1153.8,620.6 L1155.2,619.1 L1156.6,617.6 L1157.9,616.1 L1159.3,614.6 L1160.7,613.1 L1162.1,611.6 L1163.5,610.1 L1164.9,608.6 L1166.3,607.1 L1167.7,605.7 L1169.1,604.2 L1170.5,602.8 L1172.0,601.3 L1173.4,599.9 L1174.9,598.5 L1176.3,597.1 L1177.8,595.8 L1179.3,594.4 L1180.7,593.1 L1182.2,591.7 L1183.8,590.4 L1185.3,589.1 L1186.8,587.9 L1188.4,586.6 L1189.9,585.4 L1191.5,584.2 L1193.1,583.1 L1194.7,581.9 L1196.3,580.8 L1198.0,579.7 L1199.6,578.7 L1201.3,577.6 L1203.0,576.6 L1204.7,575.7 L1206.4,574.7 L1208.2,573.8 L1209.9,572.9 L1211.7,572.1 L1213.5,571.2 L1215.3,570.4 L1217.1,569.7 L1219.0,568.9 L1220.8,568.2 L1222.7,567.5 L1224.5,566.8 L1226.4,566.2 L1228.3,565.5 L1230.2,564.9 L1232.1,564.3 L1234.0,563.7 L1235.9,563.1 L1237.8,562.6 L1239.7,562.1 L1241.7,561.5 L1243.6,561.0 L1245.5,560.5 L1247.5,560.0 L1249.4,559.6 L1251.4,559.1 L1253.3,558.7 L1255.3,558.2 L1257.2,557.8 L1259.2,557.4 L1261.1,557.0 L1263.1,556.5 L1265.0,556.2 L1267.0,555.8 L1268.9,555.4 L1270.9,555.0 L1272.9,554.6 L1274.8,554.3 L1276.8,553.9 L1278.8,553.6 L1280.7,553.2 L1282.7,552.9 L1284.7,552.6 L1286.7,552.2 L1288.6,551.9 L1290.6,551.6 L1292.6,551.3 L1294.6,550.9 L1296.5,550.6 L1298.5,550.3 L1300.5,550.0 L1302.5,549.7 L1304.4,549.3 L1306.4,549.0 L1308.4,548.7 L1310.4,548.4 L1312.3,548.0 L1314.3,547.7 L1316.3,547.4 L1318.3,547.1 L1320.2,546.7 L1322.2,546.4 L1324.2,546.0 L1326.1,545.7 L1328.1,545.3 L1330.1,545.0 L1332.0,544.6 L1334.0,544.2 L1336.0,543.8 L1337.9,543.5 L1339.9,543.1 L1341.8,542.7 L1343.8,542.2 L1345.7,541.8 L1347.7,541.4 L1349.6,541.0 L1351.6,540.5 L1353.5,540.0 L1355.5,539.6 L1357.4,539.1 L1359.3,538.6 L1361.3,538.1 L1363.2,537.5 L1365.1,537.0 L1367.0,536.5 L1369.0,535.9 L1370.9,535.4 L1372.8,534.8 L1374.7,534.2 L1376.6,533.6 L1378.5,533.1 L1380.5,532.5 L1382.4,531.8 L1384.3,531.2 L1386.2,530.6 L1388.1,530.0 L1390.0,529.4 L1391.9,528.7 L1393.8,528.1 L1395.7,527.4 L1397.6,526.8 L1399.5,526.2 L1401.4,525.5 L1403.3,524.8 L1405.2,524.2 L1407.1,523.5 L1409.0,522.9 L1410.9,522.2 L1412.8,521.5 L1414.6,520.9 L1416.5,520.2 L1418.4,519.6 L1420.3,518.9 L1422.2,518.2 L1424.1,517.6 L1426.0,516.9 L1427.9,516.3 L1429.8,515.6 L1431.7,515.0 L1433.6,514.3 L1435.5,513.7 L1437.4,513.1 L1439.3,512.4 L1441.2,511.8 L1443.1,511.2 L1445.0,510.6 L1446.9,510.0 L1448.8,509.4 L1450.7,508.8 L1452.6,508.2 L1454.5,507.6 L1456.4,507.1 L1458.3,506.5 L1460.3,505.9 L1462.2,505.4 L1464.1,504.8 L1466.0,504.3 L1467.9,503.7 L1469.8,503.2 L1471.8,502.7 L1473.7,502.1 L1475.6,501.6 L1477.5,501.1 L1479.4,500.6 L1481.4,500.1 L1483.3,499.6 L1485.2,499.1 L1487.2,498.6 L1489.1,498.1 L1491.0,497.6 L1492.9,497.2 L1494.9,496.7 L1496.8,496.2 L1498.7,495.7 L1500.7,495.3 L1502.6,494.8 L1504.6,494.4 L1506.5,493.9 L1508.4,493.5 L1510.4,493.0 L1512.3,492.6 L1514.3,492.1 L1516.2,491.7 L1518.1,491.2 L1520.1,490.8 L1522.0,490.4 L1524.0,489.9 L1525.9,489.5 L1527.9,489.1 L1529.8,488.7 L1531.8,488.2 L1533.7,487.8 L1535.7,487.4 L1537.6,487.0 L1539.6,486.6 L1541.5,486.2 L1543.5,485.7 L1545.4,485.3 L1547.4,484.9 L1549.3,484.5 L1551.3,484.1 L1553.3,483.7 L1555.2,483.3 L1557.2,482.9 L1559.1,482.5 L1561.1,482.1 L1563.1,481.7 L1565.0,481.3 L1567.0,480.9 L1568.9,480.5 L1570.9,480.0 L1572.9,479.6 L1574.8,479.2 L1576.8,478.8 L1578.8,478.5 L1580.7,478.1 L1582.7,477.7 L1584.7,477.3 L1586.6,476.9 L1588.6,476.5 L1590.6,476.1 L1592.5,475.7 L1594.5,475.3 L1596.5,474.9 L1598.4,474.6 L1600.4,474.2 L1602.4,473.8 L1604.3,473.4 L1606.3,473.1 L1608.3,472.7 L1610.3,472.3 L1612.2,472.0 L1614.2,471.6 L1616.2,471.2 L1618.2,470.9 L1620.1,470.5 L1622.1,470.2 L1624.1,469.8 L1626.1,469.5 L1628.0,469.2 L1630.0,468.8 L1632.0,468.5 L1634.0,468.2 L1636.0,467.8 L1637.9,467.5 L1639.9,467.2 L1641.9,466.9 L1643.9,466.6 L1645.8,466.3 L1647.8,466.0 L1649.8,465.7 L1651.8,465.4 L1653.8,465.1 L1655.8,464.8 L1657.7,464.6 L1659.7,464.3 L1661.7,464.0 L1663.7,463.8 L1665.7,463.5 L1667.6,463.2 L1669.6,463.0 L1671.6,462.7 L1673.6,462.5 L1675.6,462.2 L1677.6,462.0 L1679.5,461.8 L1681.5,461.5 L1683.5,461.3 L1685.5,461.1 L1687.5,460.9 L1689.5,460.7 L1691.5,460.4 L1693.4,460.2 L1695.4,460.0 L1697.4,459.8 L1699.4,459.6 L1701.4,459.4 L1703.4,459.2 L1705.4,459.0 L1707.4,458.9 L1709.4,458.7 L1711.3,458.5 L1713.3,458.3 L1715.3,458.1 L1717.3,457.9 L1719.3,457.8 L1721.3,457.6 L1723.3,457.4 L1725.3,457.3 L1727.3,457.1 L1729.3,456.9 L1731.2,456.8 L1733.2,456.6 L1735.2,456.5 L1737.2,456.3 L1739.2,456.2 L1741.2,456.0 L1743.2,455.9 L1745.2,455.7 L1747.2,455.6 L1749.2,455.4 L1751.2,455.3 L1753.2,455.2 L1755.2,455.0 L1757.2,454.9 L1759.1,454.8 L1761.1,454.6 L1763.1,454.5 L1765.1,454.4 L1767.1,454.2 L1769.1,454.1 L1771.1,454.0 L1773.1,453.8 L1775.1,453.7 L1777.1,453.6 L1779.1,453.5 L1781.1,453.3 L1783.1,453.2 L1785.1,453.1 L1787.1,453.0 L1789.1,452.9 L1791.1,452.7 L1793.1,452.6 L1795.1,452.5 L1797.1,452.4 L1799.1,452.3 L1801.1,452.1 L1803.1,452.0 L1805.1,451.9 L1807.1,451.8 L1809.1,451.7 L1811.1,451.6 L1813.1,451.4 L1815.1,451.3 L1817.1,451.2 L1819.1,451.1 L1821.1,451.0 L1823.1,450.9 L1825.1,450.8 L1827.1,450.6 L1829.1,450.5 L1831.1,450.4 L1833.1,450.3 L1835.1,450.2 L1837.1,450.1 L1839.1,450.0 L1841.1,449.8 L1843.1,449.7 L1845.1,449.6 L1847.1,449.5 L1849.1,449.4 L1851.1,449.3 L1853.1,449.1 L1855.1,449.0 L1857.1,448.9 L1859.1,448.8 L1861.1,448.7 L1863.1,448.5 L1865.1,448.4 L1867.1,448.3 L1869.1,448.2 L1871.1,448.0 L1873.1,447.9 L1875.1,447.8 L1877.1,447.7 L1879.1,447.5 L1881.1,447.4 L1883.1,447.3 L1885.1,447.1 L1887.1,447.0 L1889.1,446.9 L1891.1,446.7 L1893.1,446.6 L1895.1,446.5 L1897.1,446.3 L1899.1,446.2 L1901.1,446.1 L1903.1,445.9 L1905.1,445.8 L1907.1,445.6 L1909.0,445.5 L1911.0,445.3 L1913.0,445.2 L1915.0,445.0 L1917.0,444.9 L1919.0,444.7 L1921.0,444.6 L1923.0,444.4 L1925.0,444.3 L1927.0,444.1 L1929.0,443.9 L1931.0,443.8 L1933.0,443.6 L1935.0,443.5 L1937.0,443.3 L1939.0,443.1 L1941.0,443.0 L1943.0,442.8 L1945.0,442.6 L1947.0,442.5 L1949.0,442.3 L1951.0,442.1 L1953.0,441.9 L1955.0,441.8 L1957.0,441.6 L1959.0,441.4 L1961.0,441.3 L1963.0,441.1 L1964.9,440.9 L1966.9,440.7 L1968.9,440.6 L1970.9,440.4 L1972.9,440.2 L1974.9,440.0 L1976.9,439.9 L1978.9,439.7 L1980.9,439.5 L1982.9,439.3 L1984.9,439.2 L1986.9,439.0 L1988.9,438.8 L1990.9,438.6 L1992.9,438.5 L1994.9,438.3 L1996.9,438.1 L1998.9,438.0 L2000.8,437.8 L2002.8,437.6 L2004.8,437.4 L2006.8,437.3 L2008.8,437.1 L2010.8,436.9 L2012.8,436.8 L2014.8,436.6 L2016.8,436.4 L2018.8,436.3 L2020.8,436.1 L2022.8,436.0 L2024.8,435.8 L2026.8,435.6 L2028.8,435.5 L2030.8,435.3 L2032.8,435.2 L2034.8,435.0 L2036.7,434.9 L2038.7,434.7 L2040.7,434.6 L2042.7,434.4 L2044.7,434.3 L2046.7,434.1 L2048.7,434.0 L2050.7,433.8 L2052.7,433.7 L2054.7,433.6 L2056.7,433.4 L2058.7,433.3 L2060.7,433.2 L2062.7,433.0 L2064.7,432.9 L2066.7,432.8 L2068.7,432.7 L2070.7,432.5 L2072.7,432.4 L2074.7,432.3 L2076.7,432.2 L2078.7,432.1 L2080.6,432.0 L2082.6,431.9 L2084.6,431.8 L2086.6,431.7 L2088.6,431.6 L2090.6,431.5 L2092.6,431.4 L2094.6,431.3 L2096.6,431.2 L2098.6,431.1 L2100.6,431.1 L2102.6,431.0 L2104.6,430.9 L2106.6,430.8 L2108.6,430.8 L2110.6,430.7 L2112.6,430.7 L2114.6,430.6 L2116.6,430.5 L2118.6,430.5 L2120.6,430.5 L2122.6,430.4 L2124.6,430.4 L2126.6,430.3 L2128.6,430.3 L2130.6,430.3 L2132.6,430.3 L2134.6,430.2 L2136.6,430.2 L2138.6,430.2 L2140.6,430.2 L2142.6,430.2 L2144.6,430.2 L2146.6,430.2 L2148.6,430.2 L2150.6,430.2 L2152.6,430.3 L2154.6,430.3 L2156.6,430.3 L2158.6,430.3 L2160.6,430.4 L2162.7,430.4 L2164.7,430.5 L2166.7,430.5 L2168.7,430.6 L2170.7,430.6 L2172.7,430.7 L2174.7,430.8 L2176.7,430.9 L2178.7,430.9 L2180.7,431.0 L2182.7,431.1 L2184.7,431.2 L2186.7,431.3 L2188.7,431.4 L2190.7,431.5 L2192.8,431.6 L2194.8,431.8 L2196.8,431.9 L2198.8,432.0 L2200.8,432.2 L2202.8,432.3 L2204.8,432.5 L2206.8,432.6 L2208.8,432.8" stroke="#ff0000"/>
<path d="M306.9,435.7 L308.3,437.6 L309.2,440.8 L309.8,443.5 L310.9,445.5 L312.0,446.6 L313.4,451.4 L314.2,451.6 L315.8,456.3 L316.8,456.7 L318.3,457.7 L319.2,460.8 L319.6,462.5 L320.8,467.1 L321.7,468.6 L323.3,470.1 L324.3,471.4 L324.9,474.1 L326.6,477.1 L327.3,479.9 L328.5,481.2 L330.0,484.9 L330.5,486.7 L331.9,490.0 L333.2,490.3 L334.5,492.0 L335.1,496.4 L335.9,497.7 L336.9,500.6 L338.8,502.5 L340.0,503.9 L340.9,507.1 L341.9,508.9 L343.3,512.8 L344.1,514.1 L344.8,516.4 L346.5,519.6 L347.9,519.4 L348.6,523.0 L349.3,524.5 L350.7,525.5 L351.7,529.9 L352.9,530.3 L354.4,534.6 L355.2,535.4 L356.9,539.0 L358.4,541.1 L359.0,541.8 L360.3,545.5 L362.1,545.2 L362.5,547.6 L363.8,550.6 L365.4,552.0 L366.0,554.7 L367.6,557.3 L369.4,559.9 L370.2,561.8 L371.6,562.0 L373.1,566.6 L374.3,568.9 L375.1,569.7 L376.1,572.7 L377.3,572.9 L378.7,575.5 L380.2,577.3 L381.1,579.9 L382.5,582.8 L383.7,586.8 L385.6,586.6 L386.6,589.6 L388.0,591.1 L389.8,596.4 L390.8,597.0 L391.8,597.9 L393.5,600.5 L395.4,602.0 L396.1,606.2 L398.3,604.6 L400.0,604.8 L401.9,608.2 L404.2,607.0 L405.6,605.1 L407.5,605.3 L410.0,603.8 L411.8,600.2 L414.2,600.9 L416.2,598.3 L417.9,596.0 L418.9,593.2 L420.5,589.4 L421.6,588.2 L423.1,587.4 L425.1,584.4 L426.3,584.0 L427.4,579.7 L427.8,576.9 L428.9,574.5 L430.4,574.6 L431.7,570.8 L432.6,569.5 L433.1,566.7 L435.0,564.8 L435.9,561.4 L436.4,560.2 L437.7,558.0 L439.5,554.3 L440.1,554.0 L441.6,549.2 L442.3,547.0 L444.4,547.2 L444.9,545.3 L447.2,542.7 L448.0,540.4 L449.2,536.7 L451.5,537.0 L452.6,536.1 L454.0,534.0 L456.0,529.9 L457.0,528.4 L458.5,527.6 L460.2,525.2 L461.7,525.0 L463.5,521.6 L465.4,521.2 L466.9,519.4 L468.7,516.1 L470.3,512.4 L471.9,511.0 L473.1,511.1 L475.0,507.9 L477.2,506.0 L478.4,503.7 L480.3,502.4 L481.5,499.5 L483.3,496.4 L485.5,495.1 L487.0,493.9 L489.1,490.9 L490.6,489.3 L492.4,488.2 L494.2,486.2 L496.1,486.2 L498.4,484.8 L500.7,481.8 L502.4,483.4 L504.9,480.2 L506.4,480.9 L508.7,480.1 L511.0,481.7 L514.0,482.7 L515.7,482.6 L518.5,481.2 L521.1,484.8 L522.7,485.6 L525.1,485.1 L528.0,487.4 L529.3,487.3 L531.8,488.4 L533.5,489.8 L536.0,490.3 L537.7,493.4 L539.0,494.8 L541.4,497.2 L542.5,500.6 L544.9,502.5 L545.9,502.0 L547.4,505.8 L549.2,505.6 L550.8,510.3 L552.7,510.2 L553.5,514.6 L555.3,515.9 L556.2,515.9 L558.2,519.3 L559.0,523.2 L560.9,524.8 L561.7,527.2 L563.0,529.3 L564.7,529.7 L566.0,533.9 L567.0,533.4 L568.5,535.9 L569.3,537.8 L570.5,540.1 L572.0,542.7 L573.6,544.8 L574.5,546.7 L575.5,548.3 L576.6,550.5 L578.2,554.6 L578.8,556.5 L580.7,557.5 L581.7,560.8 L582.4,564.4 L583.4,565.5 L584.8,569.4 L585.5,571.1 L587.0,572.7 L587.7,574.0 L588.4,575.5 L589.4,579.8 L590.7,580.1 L591.5,584.7 L593.3,586.4 L593.8,587.2 L594.8,590.2 L595.6,592.4 L596.8,596.5 L598.5,597.3 L598.7,601.0 L599.8,601.3 L600.5,603.6 L601.9,606.3 L602.7,608.6 L603.4,610.1 L604.5,612.9 L605.4,613.9 L606.7,616.9 L608.0,620.2 L609.1,622.9 L610.1,626.0 L610.8,626.4 L612.4,628.1 L613.1,632.1 L613.4,635.0 L615.3,636.6 L616.1,639.6 L616.5,640.9 L617.9,644.3 L619.2,646.6 L620.0,649.1 L621.1,650.7 L621.6,650.8 L622.5,654.2 L623.5,658.1 L624.9,659.7 L626.0,662.2 L626.9,662.2 L628.2,667.0 L628.9,668.6 L630.0,669.3 L631.1,672.2 L631.4,674.6 L633.0,676.6 L634.0,681.6 L634.7,681.8 L635.7,685.1 L636.9,687.2 L637.8,687.6 L638.2,690.5 L639.8,692.9 L640.6,694.2 L641.0,697.3 L642.6,701.0 L643.7,701.9 L644.6,704.7 L645.6,705.7 L647.2,708.1 L648.5,712.8 L648.8,713.3 L651.0,717.1 L652.0,716.7 L653.2,721.1 L654.7,721.8 L656.2,723.6 L658.7,724.1 L660.2,727.3 L662.0,729.8 L663.1,732.2 L665.2,730.9 L666.6,734.2 L669.0,735.2 L670.7,736.9 L672.9,740.0 L674.6,741.2 L677.6,740.4 L679.9,743.7 L682.1,743.5 L683.8,745.1 L686.7,746.8 L688.3,747.3 L690.6,746.9 L692.8,750.4 L695.3,751.5 L697.7,749.8 L700.4,750.1 L702.7,753.1 L705.7,752.9 L707.8,753.4 L710.6,752.2 L712.8,750.4 L715.3,751.6 L717.8,751.9 L719.7,749.5 L722.8,749.2 L724.8,749.4 L727.1,750.2 L730.2,748.0 L732.4,747.6 L734.8,747.4 L736.9,746.2 L739.4,748.4 L742.2,745.7 L745.2,748.1 L747.2,745.0 L749.5,744.6 L752.1,744.5 L754.5,744.9 L757.3,746.9 L759.9,745.1 L762.0,745.4 L764.4,744.6 L766.4,744.2 L769.7,743.4 L771.5,744.9 L774.2,743.1 L775.9,742.9 L778.4,743.1 L781.3,744.0 L783.6,740.6 L785.1,742.2 L788.4,740.7 L790.5,738.4 L792.7,740.7 L795.6,739.7 L798.2,736.9 L799.8,735.9 L802.6,737.0 L805.5,736.5 L807.6,736.2 L809.8,735.1 L811.8,735.6 L814.3,735.9 L817.1,733.9 L818.9,733.9 L821.7,735.9 L823.3,734.4 L826.0,737.0 L828.0,736.7 L830.3,737.2 L832.1,740.0 L834.8,742.1 L836.7,743.1 L837.9,744.1 L840.6,747.4 L841.7,747.0 L843.7,751.2 L845.4,751.8 L847.4,756.1 L848.6,755.2 L850.3,758.6 L852.2,760.0 L853.8,764.0 L855.0,764.3 L856.9,766.8 L858.1,768.7 L858.8,772.6 L860.2,775.4 L861.6,775.0 L862.6,777.9 L864.2,781.9 L864.9,782.1 L866.1,786.3 L867.1,785.3 L868.1,788.7 L870.0,792.5 L870.9,795.1 L872.1,795.0 L872.4,799.3 L873.9,798.5 L874.8,801.9 L875.5,803.9 L876.3,805.1 L877.4,808.5 L879.1,810.0 L880.0,812.5 L880.4,816.9 L881.9,817.9 L882.1,820.3 L883.4,824.1 L884.2,824.5 L886.0,825.7 L886.5,830.7 L887.9,830.5 L888.2,832.9 L890.1,835.9 L890.9,840.5 L891.4,840.8 L892.8,844.4 L892.9,847.1 L893.7,848.1 L894.0,852.2 L895.5,854.2 L896.0,854.6 L895.7,858.7 L896.9,862.8 L896.8,862.8 L897.3,866.0 L898.5,867.3 L899.1,871.4 L900.0,873.7 L900.9,874.3 L901.9,876.4 L903.9,877.3 L905.0,881.4 L906.7,880.9 L908.2,884.4 L910.3,887.7 L912.5,889.6 L913.5,888.4 L914.8,891.9 L916.8,893.8 L917.6,895.8 L919.2,898.9 L920.4,901.7 L921.4,901.5 L922.7,904.4 L923.4,907.0 L924.6,908.7 L925.0,911.2 L925.9,915.6 L927.3,916.1 L928.0,920.6 L929.1,920.4 L930.3,924.1 L931.4,924.6 L931.8,929.3 L933.2,932.0 L933.3,932.2 L934.3,934.1 L936.2,937.8 L937.1,939.4 L938.0,941.9 L938.4,945.4 L940.0,945.4 L940.6,949.5 L941.2,950.9 L942.1,952.7 L943.2,956.4 L944.5,957.4 L944.8,960.1 L946.4,961.9 L946.9,964.3 L948.3,967.8 L948.5,968.7 L949.7,972.5 L950.8,973.3 L951.2,977.7 L952.3,978.7 L953.0,983.3 L953.9,984.4 L954.7,986.2 L956.0,990.6 L956.3,990.2 L957.5,992.6 L957.5,997.3 L958.7,999.4 L959.5,1002.0 L960.3,1002.0 L960.6,1005.7 L962.0,1009.3 L962.2,1010.7 L963.3,1012.6 L963.8,1014.3 L964.9,1018.8 L965.3,1019.7 L966.7,1023.7 L966.9,1023.2 L968.4,1028.5 L968.7,1027.7 L969.9,1031.2 L970.7,1034.4 L971.4,1035.2 L972.1,1037.8 L972.6,1042.3 L973.8,1042.4 L974.0,1045.5 L975.1,1047.8 L975.6,1049.7 L977.0,1054.2 L977.2,1055.4 L978.8,1056.0 L979.8,1058.6 L980.5,1062.4 L981.4,1063.9 L982.2,1067.1 L983.1,1069.7 L984.1,1071.3 L984.7,1074.2 L986.2,1075.2 L987.5,1079.3 L988.3,1079.6 L989.4,1081.6 L990.2,1084.9 L991.3,1087.2 L993.0,1088.1 L994.4,1090.4 L995.8,1094.9 L997.0,1094.6 L998.4,1097.8 L1000.4,1099.0 L1001.9,1104.0 L1003.4,1105.3 L1004.6,1107.8 L1006.7,1109.6 L1009.0,1108.7 L1010.8,1113.0 L1011.9,1112.4 L1014.4,1112.7 L1016.3,1113.7 L1017.7,1113.3 L1018.6,1115.4 L1019.4,1112.1 L1020.6,1110.8 L1020.8,1108.4 L1021.6,1108.6 L1022.7,1106.0 L1022.8,1102.9 L1023.3,1099.4 L1024.5,1096.1 L1025.6,1094.2 L1026.1,1092.8 L1026.6,1090.8 L1028.2,1086.4 L1029.5,1083.7 L1030.8,1082.5 L1031.2,1080.9 L1032.4,1076.7 L1033.8,1074.0 L1035.0,1072.5 L1035.8,1072.7 L1036.8,1069.4 L1037.5,1064.9 L1038.2,1063.1 L1039.8,1061.8 L1040.6,1061.0 L1041.1,1056.5 L1042.5,1053.5 L1042.8,1052.3 L1043.7,1049.9 L1044.7,1048.4 L1045.9,1044.8 L1046.7,1043.3 L1047.0,1042.6 L1047.9,1037.5 L1048.6,1036.8 L1050.1,1035.0 L1050.4,1030.8 L1050.7,1029.8 L1052.0,1026.4 L1052.8,1024.3 L1053.8,1022.9 L1053.8,1021.1 L1054.3,1017.5 L1055.4,1014.1 L1055.7,1013.5 L1056.3,1010.3 L1058.0,1006.6 L1057.9,1005.7 L1058.8,1003.5 L1059.8,999.5 L1060.0,997.5 L1060.3,997.1 L1061.7,994.1 L1061.6,992.2 L1063.0,988.5 L1063.6,986.0 L1063.8,982.4 L1064.4,979.8 L1065.1,979.8 L1066.2,977.7 L1066.8,973.4 L1067.3,971.5 L1068.1,969.4 L1068.2,967.4 L1069.6,963.6 L1070.1,960.5 L1070.1,958.8 L1071.2,958.8 L1071.9,954.3 L1072.6,951.9 L1072.6,951.5 L1073.6,948.3 L1074.3,946.9 L1074.7,944.0 L1075.6,941.7 L1075.9,938.8 L1076.7,935.0 L1077.0,933.7 L1077.5,932.2 L1078.2,926.8 L1078.7,927.5 L1079.6,922.4 L1079.9,919.6 L1081.2,919.2 L1081.9,917.2 L1081.9,914.3 L1082.8,912.6 L1083.9,910.5 L1083.8,908.0 L1085.3,905.8 L1085.1,900.9 L1085.8,897.9 L1087.2,898.2 L1087.6,895.8 L1088.3,891.6 L1088.4,888.5 L1089.7,886.5 L1090.0,884.8 L1090.3,881.8 L1091.3,881.0 L1092.0,877.3 L1093.3,875.5 L1093.9,873.5 L1093.8,870.4 L1094.9,869.2 L1095.5,866.5 L1096.4,862.5 L1097.4,859.6 L1098.1,857.5 L1098.0,855.2 L1099.5,855.5 L1099.4,851.4 L1100.6,850.5 L1100.9,846.6 L1101.9,845.8 L1102.5,844.0 L1103.3,838.1 L1104.7,837.0 L1104.6,835.3 L1105.3,833.7 L1107.0,831.3 L1107.7,826.8 L1108.1,824.6 L1109.6,820.7 L1110.4,818.1 L1110.2,816.8 L1112.0,815.6 L1112.1,815.1 L1112.7,810.7 L1114.0,809.7 L1115.1,806.8 L1115.4,802.9 L1115.9,803.0 L1117.5,800.2 L1117.7,796.4 L1119.4,794.7 L1119.4,791.8 L1121.3,788.4 L1121.2,786.3 L1122.9,786.6 L1123.0,780.9 L1124.0,779.4 L1125.3,776.3 L1126.0,774.1 L1127.8,774.4 L1127.5,773.2 L1128.5,768.1 L1130.7,767.7 L1131.3,763.7 L1131.5,762.4 L1132.4,758.0 L1133.8,754.9 L1134.8,756.2 L1136.2,752.5 L1137.1,750.1 L1137.5,748.5 L1138.9,746.9 L1140.6,743.1 L1141.2,742.4 L1142.0,737.6 L1143.5,738.5 L1144.7,735.4 L1145.9,733.0 L1146.7,729.7 L1147.3,728.3 L1148.1,725.1 L1150.2,724.3 L1151.2,719.8 L1152.0,718.6 L1153.4,716.2 L1154.7,716.5 L1155.1,713.0 L1157.2,709.5 L1158.0,710.2 L1158.5,705.9 L1159.9,704.9 L1162.3,701.5 L1162.3,699.6 L1164.2,698.1 L1165.4,695.6 L1167.1,692.9 L1167.8,692.8 L1168.8,689.4 L1170.3,687.7 L1171.3,686.6 L1172.9,680.1 L1174.1,679.6 L1175.1,677.6 L1177.0,676.9 L1178.3,672.7 L1179.5,673.0 L1181.9,669.9 L1182.3,669.1 L1183.9,664.2 L1184.9,664.9 L1187.3,662.2 L1188.3,659.8 L1189.4,659.7 L1191.0,656.1 L1193.2,655.0 L1194.1,650.4 L1195.7,647.6 L1197.7,646.7 L1199.2,644.3 L1200.0,642.3 L1201.6,640.0 L1202.6,640.6 L1204.5,636.3 L1206.1,635.5 L1207.9,634.3 L1209.8,631.0 L1211.8,631.4 L1212.1,629.3 L1214.9,627.2 L1215.5,625.5 L1217.8,619.6 L1218.6,622.2 L1221.1,616.9 L1222.0,614.5 L1223.9,615.7 L1225.8,610.9 L1228.3,612.1 L1229.0,610.8 L1231.4,608.4 L1233.2,607.2 L1235.2,605.2 L1236.2,602.8 L1238.5,601.4 L1240.2,600.4 L1242.3,595.8 L1243.7,593.7 L1246.1,591.8 L1248.0,590.7 L1250.0,590.9 L1252.1,591.3 L1253.4,589.9 L1256.1,587.2 L1258.5,587.3 L1260.3,584.1 L1263.3,581.3 L1265.0,582.9 L1266.4,581.8 L1269.6,582.4 L1271.4,581.7 L1274.0,578.5 L1276.9,575.5 L1279.0,577.6 L1280.9,578.0 L1283.3,575.4 L1286.0,576.1 L1288.0,573.9 L1290.8,573.8 L1293.8,571.9 L1296.3,571.8 L1298.3,570.5 L1300.7,573.3 L1303.4,571.8 L1305.4,568.9 L1307.8,569.5 L1310.7,569.8 L1312.3,568.8 L1315.9,567.2 L1317.1,565.3 L1319.4,564.0 L1323.0,565.2 L1325.0,565.2 L1327.6,563.4 L1329.4,562.5 L1331.8,561.3 L1333.9,558.4 L1336.1,558.4 L1338.3,555.5 L1339.6,554.0 L1342.6,557.0 L1344.5,553.2 L1346.9,554.0 L1348.7,550.3 L1350.5,550.0 L1352.7,549.0 L1355.4,550.5 L1356.9,547.9 L1359.3,544.9 L1362.8,546.4 L1365.4,545.0 L1366.5,544.1 L1369.8,546.0 L1372.8,543.1 L1374.4,540.5 L1377.1,540.2 L1378.7,538.3 L1380.8,540.5 L1383.2,540.8 L1385.4,539.2 L1387.7,534.0 L1390.8,533.9 L1393.0,532.5 L1394.3,534.2 L1397.5,533.6 L1399.8,528.9 L1401.9,531.0 L1404.0,531.4 L1406.1,530.8 L1409.2,525.7 L1410.7,528.2 L1414.3,525.0 L1416.0,527.7 L1418.3,527.9 L1421.3,523.7 L1423.6,525.8 L1426.3,525.9 L1428.3,526.0 L1431.1,524.9 L1434.0,523.3 L1436.1,524.5 L1439.3,523.9 L1441.1,520.8 L1442.7,523.3 L1446.0,521.6 L1447.7,519.6 L1450.9,519.5 L1452.5,515.8 L1454.4,517.3 L1456.5,515.1 L1459.0,514.9 L1461.5,510.7 L1462.5,509.4 L1465.4,509.8 L1468.2,510.2 L1469.4,509.1 L1472.8,508.4 L1474.9,504.9 L1477.7,506.8 L1479.9,506.8 L1481.8,502.3 L1484.6,505.2 L1486.6,504.5 L1490.1,501.6 L1492.1,503.2 L1494.4,500.4 L1496.5,502.5 L1499.7,500.6 L1501.2,501.7 L1504.6,498.4 L1506.8,501.1 L1509.7,498.8 L1511.5,498.6 L1513.5,496.3 L1516.0,498.3 L1518.7,497.4 L1521.2,496.9 L1523.3,494.4 L1527.0,495.9 L1528.2,497.1 L1531.6,494.9 L1533.9,496.0 L1536.3,494.7 L1538.1,499.8 L1541.8,497.8 L1543.9,497.2 L1546.7,498.4 L1549.4,500.4 L1551.6,501.5 L1553.2,497.1 L1555.5,497.6 L1557.6,496.4 L1560.6,499.6 L1562.6,498.9 L1565.4,493.4 L1567.1,493.6 L1568.6,494.9 L1570.9,491.6 L1573.6,492.1 L1575.8,488.1 L1577.6,485.7 L1580.5,488.4 L1581.6,482.6 L1583.8,482.8 L1586.9,484.3 L1588.9,478.9 L1591.1,480.9 L1593.0,481.0 L1594.4,475.7 L1597.6,478.3 L1599.7,474.0 L1601.8,475.0 L1603.3,471.6 L1605.8,469.4 L1608.3,468.3 L1610.2,467.0 L1613.1,465.2 L1615.5,465.0 L1616.8,467.6 L1619.3,466.9 L1622.6,466.1 L1623.9,463.6 L1626.1,465.7 L1629.6,464.4 L1631.4,463.3 L1634.3,464.4 L1636.4,463.3 L1638.2,463.4 L1641.4,466.4 L1643.0,468.5 L1645.7,466.8 L1648.0,466.7 L1651.5,467.4 L1653.1,468.5 L1655.8,470.8 L1658.0,471.3 L1660.4,470.9 L1663.7,467.5 L1665.9,467.7 L1668.0,467.0 L1670.6,470.4 L1674.0,469.6 L1675.1,466.0 L1678.7,464.3 L1680.8,464.9 L1683.6,462.9 L1685.8,463.9 L1687.3,461.7 L1690.7,463.6 L1692.2,462.7 L1695.7,461.2 L1697.7,460.4 L1699.6,463.2 L1702.9,460.2 L1704.5,459.6 L1707.7,461.5 L1709.8,460.1 L1712.8,462.6 L1715.6,462.0 L1717.2,459.6 L1720.5,461.3 L1723.0,459.6 L1725.6,460.9 L1728.1,463.3 L1730.1,459.0 L1733.1,460.9 L1735.5,459.5 L1736.9,461.7 L1739.6,458.0 L1742.0,459.5 L1743.8,458.5 L1746.8,457.9 L1748.7,458.1 L1752.1,458.1 L1753.7,456.6 L1756.2,456.0 L1758.1,455.7 L1761.7,453.1 L1763.4,452.4 L1765.8,449.2 L1768.8,449.3 L1770.1,447.9 L1772.5,450.5 L1774.6,446.3 L1777.9,446.0 L1779.4,447.2 L1782.6,446.2 L1785.1,443.5 L1787.8,445.8 L1789.0,442.3 L1792.1,443.5 L1794.2,441.1 L1796.8,440.6 L1799.5,443.5 L1801.4,441.6 L1804.7,439.2 L1807.2,442.4 L1809.1,439.5 L1812.2,439.6 L1814.0,441.2 L1817.0,437.9 L1818.7,437.5 L1821.5,440.3 L1824.5,439.7 L1827.0,439.1 L1828.4,437.2 L1832.2,439.0 L1833.6,436.3 L1836.7,435.9 L1839.0,434.3 L1841.3,436.2 L1843.2,434.3 L1847.1,437.3 L1849.5,436.5 L1851.8,437.7 L1854.4,433.6 L1856.6,434.6 L1859.1,434.7 L1861.4,437.8 L1864.0,434.6 L1866.4,435.5 L1869.5,434.8 L1871.1,436.6 L1873.3,436.4 L1877.0,436.0 L1878.5,435.9 L1881.4,434.4 L1883.3,434.4 L1886.0,435.8 L1888.5,435.0 L1890.7,436.5 L1894.3,436.9 L1896.4,437.1 L1898.4,437.5 L1901.2,436.7 L1904.0,436.4 L1906.0,435.3 L1908.4,436.6 L1911.1,437.0 L1913.1,435.9 L1916.8,435.4 L1918.9,436.7 L1921.0,439.1 L1923.5,438.0 L1925.8,434.7 L1929.4,436.5 L1930.7,436.3 L1933.7,438.0 L1935.8,435.5 L1939.5,438.0 L1940.9,436.1 L1943.6,437.8 L1946.5,438.6 L1949.3,437.1 L1951.7,438.2 L1954.3,436.9 L1956.8,438.1 L1959.5,435.3 L1961.9,434.8 L1964.3,437.6 L1966.4,439.4 L1969.0,436.8 L1971.8,439.0 L1974.0,436.5 L1976.3,436.7 L1979.2,435.7 L1981.1,436.6 L1983.6,435.1 L1986.6,437.1 L1988.6,434.5 L1990.6,433.1 L1993.0,433.7 L1996.0,430.5 L1998.9,430.9 L2001.2,432.6 L2003.8,428.7 L2005.4,431.4 L2007.2,426.6 L2010.5,428.2 L2013.4,429.0 L2015.3,429.7 L2017.7,427.0 L2020.4,426.1 L2022.4,426.8 L2024.9,428.3 L2027.8,426.1 L2029.5,425.2 L2032.4,426.0 L2035.1,427.5 L2038.2,425.6 L2039.9,426.2 L2043.2,424.9 L2045.0,427.2 L2047.0,424.8 L2050.7,427.3 L2052.5,424.0 L2055.6,426.8 L2058.0,428.3 L2060.6,425.6 L2062.1,425.0 L2065.1,426.0 L2067.1,424.4 L2070.3,426.4 L2072.4,428.2 L2075.3,423.5 L2077.5,426.9 L2079.8,426.3 L2081.9,424.2 L2085.6,425.3 L2087.9,423.2 L2090.1,424.6 L2092.3,424.7 L2095.1,426.1 L2097.7,423.0 L2099.5,421.6 L2102.9,421.1 L2104.5,421.2 L2107.6,424.1 L2110.2,423.9 L2111.9,420.1 L2115.4,421.5 L2117.8,421.7 L2119.4,421.4 L2121.8,424.7 L2125.0,422.3 L2127.3,422.9 L2129.2,425.7 L2132.4,426.5 L2134.7,425.4 L2136.8,423.0 L2140.3,427.3 L2141.9,427.8 L2145.0,425.2 L2147.2,428.4 L2149.5,428.3 L2151.6,425.4 L2154.7,424.3 L2156.5,427.0 L2159.2,426.2 L2161.3,422.7 L2164.0,422.2 L2167.3,422.1 L2169.2,420.7 L2171.6,421.4 L2173.9,419.4 L2175.9,422.5 L2178.7,419.3 L2181.0,419.0 L2183.5,417.4 L2186.6,418.5 L2188.4,419.9 L2190.7,417.5 L2194.3,416.6 L2196.2,419.8 L2199.2,416.3 L2201.1,418.8 L2203.6,419.8 L2205.9,419.7 L2208.8,416.1" stroke="#0000ff"/>
<path d="M307.7,582.5 L308.2,584.5 L308.7,586.5 L309.2,588.5 L309.6,590.5 L310.1,592.5 L310.6,594.4 L311.2,596.4 L311.7,598.3 L312.2,600.3 L312.7,602.2 L313.3,604.1 L313.8,606.0 L314.4,607.9 L315.0,609.8 L315.6,611.7 L316.2,613.6 L316.8,615.4 L317.4,617.3 L318.1,619.2 L318.8,621.0 L319.4,622.9 L320.1,624.7 L320.9,626.5 L321.6,628.4 L322.4,630.2 L323.1,632.0 L323.9,633.8 L324.7,635.6 L325.6,637.4 L326.4,639.2 L327.3,641.0 L328.2,642.8 L329.1,644.5 L330.1,646.3 L331.1,648.1 L332.1,649.8 L333.1,651.6 L334.2,653.3 L335.2,655.0 L336.4,656.8 L337.5,658.5 L338.7,660.2 L339.9,661.9 L341.1,663.6 L342.4,665.2 L343.7,666.8 L345.0,668.4 L346.4,669.9 L347.8,671.4 L349.2,672.8 L350.7,674.1 L352.3,675.4 L353.8,676.6 L355.4,677.7 L357.1,678.7 L358.8,679.6 L360.5,680.4 L362.3,681.1 L364.1,681.7 L366.0,682.2 L367.9,682.6 L369.8,682.8 L371.8,683.0 L373.8,683.1 L375.8,683.0 L377.8,682.9 L379.8,682.7 L381.8,682.4 L383.8,682.0 L385.8,681.6 L387.8,681.1 L389.7,680.5 L391.6,679.9 L393.5,679.2 L395.4,678.5 L397.2,677.7 L399.0,676.9 L400.8,676.0 L402.5,675.1 L404.2,674.1 L405.9,673.0 L407.5,672.0 L409.2,670.8 L410.8,669.7 L412.3,668.5 L413.9,667.2 L415.4,665.9 L416.9,664.6 L418.3,663.2 L419.7,661.8 L421.1,660.4 L422.5,658.9 L423.8,657.4 L425.1,655.9 L426.4,654.3 L427.6,652.7 L428.8,651.1 L430.0,649.5 L431.2,647.8 L432.3,646.2 L433.4,644.5 L434.4,642.7 L435.4,641.0 L436.4,639.3 L437.4,637.5 L438.3,635.7 L439.2,633.9 L440.1,632.1 L440.9,630.3 L441.7,628.5 L442.5,626.6 L443.3,624.8 L444.1,622.9 L444.8,621.1 L445.5,619.2 L446.2,617.3 L446.9,615.5 L447.6,613.6 L448.3,611.7 L448.9,609.8 L449.6,607.9 L450.2,606.0 L450.8,604.1 L451.5,602.2 L452.1,600.3 L452.7,598.4 L453.4,596.6 L454.0,594.7 L454.7,592.8 L455.3,590.9 L456.0,589.1 L456.6,587.2 L457.3,585.4 L458.0,583.5 L458.7,581.7 L459.4,579.8 L460.1,578.0 L460.8,576.2 L461.6,574.4 L462.4,572.6 L463.1,570.7 L463.9,568.9 L464.7,567.1 L465.6,565.3 L466.4,563.5 L467.3,561.7 L468.2,559.9 L469.1,558.1 L470.1,556.4 L471.0,554.6 L472.0,552.8 L473.0,551.0 L474.1,549.2 L475.1,547.4 L476.2,545.6 L477.3,543.8 L478.5,542.0 L479.7,540.2 L480.9,538.3 L482.1,536.5 L483.4,534.8 L484.8,533.1 L486.1,531.5 L487.6,530.0 L489.1,528.6 L490.6,527.5 L492.2,526.5 L493.9,525.8 L495.7,525.4 L497.5,525.2 L499.3,525.2 L501.1,525.5 L503.0,526.1 L504.8,526.8 L506.5,527.8 L508.3,528.8 L510.0,529.9 L511.6,531.1 L513.1,532.3 L514.7,533.6 L516.1,534.9 L517.5,536.2 L518.9,537.6 L520.2,539.0 L521.4,540.5 L522.7,542.0 L523.8,543.5 L525.0,545.1 L526.0,546.7 L527.1,548.4 L528.1,550.0 L529.1,551.8 L530.0,553.5 L530.9,555.2 L531.8,557.0 L532.6,558.8 L533.4,560.7 L534.2,562.5 L534.9,564.4 L535.7,566.3 L536.4,568.2 L537.1,570.1 L537.7,572.0 L538.4,574.0 L539.0,575.9 L539.6,577.9 L540.2,579.9 L540.8,581.9 L541.4,583.9 L542.0,585.8 L542.6,587.8 L543.1,589.8 L543.7,591.8 L544.2,593.8 L544.8,595.8 L545.4,597.8 L545.9,599.8 L546.5,601.8 L547.0,603.7 L547.6,605.7 L548.2,607.6 L548.8,609.6 L549.3,611.5 L549.9,613.5 L550.5,615.4 L551.1,617.3 L551.7,619.2 L552.2,621.2 L552.8,623.1 L553.4,625.0 L554.0,626.9 L554.6,628.8 L555.2,630.7 L555.8,632.6 L556.5,634.5 L557.1,636.3 L557.7,638.2 L558.3,640.1 L558.9,642.0 L559.5,643.8 L560.2,645.7 L560.8,647.6 L561.4,649.4 L562.0,651.3 L562.7,653.2 L563.3,655.0 L564.0,656.9 L564.6,658.7 L565.2,660.6 L565.9,662.4 L566.5,664.3 L567.2,666.1 L567.8,668.0 L568.5,669.8 L569.2,671.7 L569.8,673.5 L570.5,675.3 L571.1,677.2 L571.8,679.0 L572.5,680.9 L573.1,682.7 L573.8,684.6 L574.5,686.4 L575.2,688.3 L575.9,690.1 L576.5,692.0 L577.2,693.8 L577.9,695.7 L578.6,697.5 L579.3,699.4 L580.0,701.2 L580.7,703.1 L581.4,705.0 L582.1,706.8 L582.8,708.7 L583.5,710.6 L584.2,712.4 L584.9,714.3 L585.6,716.2 L586.3,718.1 L587.0,720.0 L587.8,721.8 L588.5,723.7 L589.2,725.6 L589.9,727.5 L590.6,729.4 L591.4,731.4 L592.1,733.3 L592.8,735.2 L593.5,737.1 L594.3,739.0 L595.0,741.0 L595.8,742.9 L596.5,744.9 L597.2,746.8 L598.0,748.8 L598.8,750.7 L599.5,752.6 L600.3,754.6 L601.1,756.5 L601.9,758.4 L602.7,760.3 L603.6,762.2 L604.4,764.0 L605.3,765.9 L606.2,767.7 L607.1,769.5 L608.0,771.3 L609.0,773.0 L610.0,774.8 L611.0,776.5 L612.0,778.1 L613.1,779.8 L614.2,781.4 L615.4,783.0 L616.5,784.5 L617.7,786.0 L619.0,787.4 L620.3,788.8 L621.6,790.2 L622.9,791.5 L624.3,792.7 L625.8,793.9 L627.3,795.0 L628.8,796.1 L630.3,797.0 L631.9,797.8 L633.5,798.5 L635.2,799.0 L636.8,799.3 L638.5,799.5 L640.3,799.5 L642.0,799.3 L643.7,798.9 L645.5,798.2 L647.3,797.3 L649.1,796.3 L650.8,795.0 L652.6,793.7 L654.3,792.1 L656.0,790.5 L657.6,788.9 L659.2,787.2 L660.8,785.4 L662.2,783.7 L663.6,781.9 L665.0,780.2 L666.3,778.5 L667.5,776.8 L668.7,775.1 L669.8,773.4 L670.9,771.7 L672.0,770.0 L673.0,768.4 L674.0,766.7 L675.0,765.0 L675.9,763.4 L676.8,761.7 L677.8,760.1 L678.7,758.4 L679.6,756.8 L680.5,755.2 L681.4,753.5 L682.4,751.9 L683.3,750.3 L684.3,748.7 L685.3,747.1 L686.3,745.5 L687.3,743.8 L688.4,742.2 L689.6,740.6 L690.7,739.1 L691.9,737.5 L693.2,735.9 L694.4,734.3 L695.8,732.7 L697.1,731.2 L698.5,729.7 L699.9,728.2 L701.4,726.7 L702.8,725.2 L704.3,723.7 L705.9,722.3 L707.4,720.9 L709.0,719.5 L710.6,718.2 L712.2,716.8 L713.9,715.6 L715.6,714.3 L717.3,713.1 L719.0,711.9 L720.7,710.8 L722.5,709.7 L724.2,708.6 L726.0,707.6 L727.8,706.7 L729.6,705.8 L731.4,704.9 L733.2,704.1 L735.1,703.4 L736.9,702.7 L738.7,702.0 L740.6,701.4 L742.5,700.9 L744.3,700.5 L746.2,700.1 L748.0,699.8 L749.9,699.5 L751.8,699.4 L753.6,699.2 L755.5,699.2 L757.3,699.3 L759.2,699.4 L761.0,699.6 L762.8,699.9 L764.6,700.2 L766.5,700.6 L768.3,701.1 L770.0,701.7 L771.8,702.3 L773.6,703.0 L775.3,703.8 L777.1,704.6 L778.8,705.5 L780.5,706.4 L782.2,707.4 L783.9,708.4 L785.5,709.5 L787.2,710.6 L788.8,711.7 L790.4,712.9 L792.0,714.2 L793.5,715.4 L795.1,716.8 L796.6,718.1 L798.1,719.5 L799.5,720.9 L801.0,722.3 L802.4,723.7 L803.8,725.2 L805.1,726.7 L806.5,728.2 L807.8,729.7 L809.1,731.2 L810.3,732.7 L811.5,734.3 L812.7,735.9 L813.9,737.5 L815.1,739.1 L816.2,740.7 L817.3,742.3 L818.4,744.0 L819.5,745.7 L820.5,747.3 L821.5,749.0 L822.5,750.7 L823.5,752.5 L824.4,754.2 L825.4,755.9 L826.3,757.7 L827.2,759.5 L828.0,761.2 L828.9,763.0 L829.7,764.8 L830.6,766.6 L831.4,768.5 L832.1,770.3 L832.9,772.1 L833.7,774.0 L834.4,775.8 L835.1,777.7 L835.8,779.6 L836.5,781.5 L837.2,783.4 L837.9,785.3 L838.5,787.2 L839.2,789.1 L839.8,791.0 L840.4,792.9 L841.0,794.9 L841.6,796.8 L842.2,798.7 L842.7,800.7 L843.3,802.6 L843.8,804.6 L844.4,806.6 L844.9,808.5 L845.4,810.5 L846.0,812.5 L846.5,814.5 L847.0,816.5 L847.5,818.4 L848.0,820.4 L848.4,822.4 L848.9,824.4 L849.4,826.4 L849.9,828.4 L850.3,830.4 L850.8,832.4 L851.2,834.4 L851.7,836.4 L852.1,838.4 L852.6,840.4 L853.0,842.4 L853.5,844.4 L853.9,846.4 L854.4,848.4 L854.8,850.4 L855.2,852.4 L855.7,854.4 L856.1,856.3 L856.6,858.3 L857.0,860.3 L857.5,862.3 L857.9,864.3 L858.4,866.2 L858.8,868.2 L859.3,870.2 L859.8,872.1 L860.2,874.1 L860.7,876.0 L861.1,878.0 L861.6,879.9 L862.1,881.9 L862.6,883.8 L863.0,885.8 L863.5,887.7 L864.0,889.6 L864.4,891.6 L864.9,893.5 L865.4,895.4 L865.9,897.4 L866.4,899.3 L866.8,901.2 L867.3,903.1 L867.8,905.1 L868.3,907.0 L868.8,908.9 L869.3,910.8 L869.7,912.7 L870.2,914.7 L870.7,916.6 L871.2,918.5 L871.7,920.4 L872.2,922.3 L872.7,924.2 L873.2,926.1 L873.6,928.0 L874.1,929.9 L874.6,931.8 L875.1,933.8 L875.6,935.7 L876.1,937.6 L876.6,939.5 L877.1,941.4 L877.6,943.3 L878.0,945.2 L878.5,947.1 L879.0,949.0 L879.5,950.9 L880.0,952.8 L880.5,954.7 L881.0,956.6 L881.4,958.5 L881.9,960.4 L882.4,962.4 L882.9,964.3 L883.4,966.2 L883.9,968.1 L884.3,970.0 L884.8,971.9 L885.3,973.8 L885.8,975.7 L886.2,977.7 L886.7,979.6 L887.2,981.5 L887.6,983.4 L888.1,985.3 L888.6,987.3 L889.0,989.2 L889.5,991.1 L890.0,993.0 L890.4,995.0 L890.9,996.9 L891.4,998.9 L891.8,1000.8 L892.3,1002.7 L892.7,1004.7 L893.2,1006.6 L893.6,1008.6 L894.1,1010.5 L894.5,1012.5 L894.9,1014.4 L895.4,1016.4 L895.8,1018.3 L896.2,1020.3 L896.7,1022.3 L897.1,1024.3 L897.5,1026.2 L897.9,1028.2 L898.4,1030.2 L898.8,1032.2 L899.2,1034.2 L899.6,1036.2 L900.0,1038.1 L900.4,1040.1 L900.8,1042.1 L901.2,1044.2 L901.6,1046.2 L902.0,1048.2 L902.4,1050.2 L902.8,1052.2 L903.2,1054.2 L903.5,1056.3 L903.9,1058.3 L904.3,1060.4 L904.6,1062.4 L905.0,1064.5 L905.4,1066.5 L905.7,1068.6 L906.1,1070.6 L906.5,1072.7 L906.9,1074.7 L907.3,1076.7 L907.7,1078.8 L908.1,1080.8 L908.6,1082.8 L909.0,1084.8 L909.5,1086.7 L910.1,1088.6 L910.7,1090.6 L911.3,1092.4 L911.9,1094.3 L912.6,1096.1 L913.4,1097.9 L914.2,1099.6 L915.0,1101.3 L916.0,1103.0 L916.9,1104.6 L918.0,1106.2 L919.1,1107.7 L920.2,1109.2 L921.5,1110.6 L922.8,1111.9 L924.2,1113.2 L925.7,1114.5 L927.3,1115.6 L928.9,1116.6 L930.6,1117.5 L932.2,1118.2 L933.9,1118.6 L935.6,1118.7 L937.2,1118.4 L938.8,1117.8 L940.3,1116.9 L941.8,1115.6 L943.1,1114.2 L944.4,1112.6 L945.6,1111.0 L946.7,1109.3 L947.8,1107.5 L948.8,1105.7 L949.7,1103.9 L950.5,1102.0 L951.3,1100.1 L952.1,1098.2 L952.8,1096.2 L953.4,1094.2 L954.1,1092.2 L954.7,1090.2 L955.3,1088.2 L955.9,1086.2 L956.5,1084.2 L957.1,1082.2 L957.6,1080.2 L958.2,1078.2 L958.8,1076.2 L959.3,1074.2 L959.9,1072.2 L960.5,1070.3 L961.0,1068.3 L961.5,1066.3 L962.1,1064.4 L962.6,1062.4 L963.2,1060.4 L963.7,1058.5 L964.2,1056.5 L964.7,1054.6 L965.2,1052.6 L965.7,1050.7 L966.2,1048.8 L966.7,1046.8 L967.2,1044.9 L967.7,1042.9 L968.2,1041.0 L968.7,1039.1 L969.2,1037.2 L969.6,1035.2 L970.1,1033.3 L970.6,1031.4 L971.1,1029.5 L971.5,1027.5 L972.0,1025.6 L972.4,1023.7 L972.9,1021.8 L973.3,1019.9 L973.8,1018.0 L974.2,1016.0 L974.7,1014.1 L975.1,1012.2 L975.5,1010.3 L976.0,1008.4 L976.4,1006.5 L976.8,1004.6 L977.2,1002.6 L977.7,1000.7 L978.1,998.8 L978.5,996.9 L978.9,995.0 L979.3,993.1 L979.7,991.1 L980.2,989.2 L980.6,987.3 L981.0,985.4 L981.4,983.4 L981.8,981.5 L982.2,979.6 L982.6,977.6 L983.0,975.7 L983.3,973.8 L983.7,971.8 L984.1,969.9 L984.5,968.0 L984.9,966.0 L985.3,964.1 L985.7,962.1 L986.1,960.2 L986.5,958.2 L986.8,956.2 L987.2,954.3 L987.6,952.3 L988.0,950.4 L988.4,948.4 L988.7,946.4 L989.1,944.5 L989.5,942.5 L989.9,940.5 L990.3,938.6 L990.6,936.6 L991.0,934.6 L991.4,932.6 L991.8,930.7 L992.2,928.7 L992.6,926.7 L992.9,924.7 L993.3,922.8 L993.7,920.8 L994.1,918.8 L994.5,916.8 L994.9,914.8 L995.3,912.9 L995.7,910.9 L996.1,908.9 L996.5,906.9 L996.9,904.9 L997.3,902.9 L997.7,901.0 L998.1,899.0 L998.5,897.0 L998.9,895.0 L999.3,893.0 L999.7,891.0 L1000.1,889.1 L1000.5,887.1 L1001.0,885.1 L1001.4,883.1 L1001.8,881.1 L1002.2,879.2 L1002.7,877.2 L1003.1,875.2 L1003.5,873.2 L1004.0,871.2 L1004.4,869.3 L1004.9,867.3 L1005.3,865.3 L1005.8,863.3 L1006.2,861.4 L1006.7,859.4 L1007.2,857.4 L1007.6,855.5 L1008.1,853.5 L1008.6,851.5 L1009.1,849.6 L1009.6,847.6 L1010.1,845.6 L1010.6,843.7 L1011.1,841.7 L1011.6,839.8 L1012.1,837.8 L1012.6,835.9 L1013.1,833.9 L1013.7,832.0 L1014.2,830.0 L1014.8,828.1 L1015.3,826.2 L1015.9,824.2 L1016.4,822.3 L1017.0,820.4 L1017.5,818.4 L1018.1,816.5 L1018.7,814.6 L1019.3,812.7 L1019.9,810.8 L1020.5,808.9 L1021.1,806.9 L1021.7,805.0 L1022.3,803.1 L1023.0,801.2 L1023.6,799.3 L1024.2,797.4 L1024.9,795.6 L1025.5,793.7 L1026.2,791.8 L1026.9,789.9 L1027.5,788.0 L1028.2,786.2 L1028.9,784.3 L1029.6,782.4 L1030.3,780.6 L1031.0,778.7 L1031.8,776.9 L1032.5,775.0 L1033.2,773.2 L1034.0,771.4 L1034.8,769.5 L1035.5,767.7 L1036.3,765.9 L1037.1,764.0 L1037.9,762.2 L1038.7,760.4 L1039.5,758.6 L1040.3,756.8 L1041.1,755.0 L1042.0,753.2 L1042.8,751.4 L1043.7,749.7 L1044.5,747.9 L1045.4,746.1 L1046.3,744.3 L1047.2,742.6 L1048.1,740.8 L1049.0,739.1 L1049.9,737.3 L1050.8,735.6 L1051.7,733.8 L1052.6,732.1 L1053.6,730.3 L1054.5,728.6 L1055.5,726.9 L1056.4,725.2 L1057.4,723.4 L1058.4,721.7 L1059.4,720.0 L1060.4,718.3 L1061.4,716.6 L1062.4,714.9 L1063.4,713.2 L1064.4,711.5 L1065.5,709.8 L1066.5,708.1 L1067.5,706.4 L1068.6,704.8 L1069.6,703.1 L1070.7,701.4 L1071.8,699.7 L1072.9,698.1 L1073.9,696.4 L1075.0,694.8 L1076.1,693.1 L1077.2,691.4 L1078.3,689.8 L1079.5,688.1 L1080.6,686.5 L1081.7,684.9 L1082.9,683.2 L1084.0,681.6 L1085.1,680.0 L1086.3,678.3 L1087.5,676.7 L1088.6,675.1 L1089.8,673.5 L1091.0,671.8 L1092.2,670.2 L1093.3,668.6 L1094.5,667.0 L1095.7,665.4 L1096.9,663.8 L1098.2,662.2 L1099.4,660.6 L1100.6,659.0 L1101.8,657.4 L1103.1,655.8 L1104.3,654.2 L1105.5,652.6 L1106.8,651.1 L1108.0,649.5 L1109.3,647.9 L1110.6,646.3 L1111.8,644.7 L1113.1,643.2 L1114.4,641.6 L1115.7,640.0 L1116.9,638.5 L1118.2,636.9 L1119.5,635.3 L1120.8,633.8 L1122.1,632.2 L1123.4,630.7 L1124.8,629.1 L1126.1,627.6 L1127.4,626.1 L1128.8,624.5 L1130.1,623.0 L1131.4,621.5 L1132.8,620.0 L1134.1,618.4 L1135.5,616.9 L1136.9,615.4 L1138.2,614.0 L1139.6,612.5 L1141.0,611.0 L1142.4,609.5 L1143.8,608.0 L1145.2,606.6 L1146.6,605.1 L1148.0,603.7 L1149.5,602.3 L1150.9,600.8 L1152.3,599.4 L1153.8,598.0 L1155.2,596.6 L1156.7,595.2 L1158.1,593.8 L1159.6,592.4 L1161.1,591.1 L1162.5,589.7 L1164.0,588.4 L1165.5,587.0 L1167.0,585.7 L1168.5,584.4 L1170.0,583.1 L1171.6,581.8 L1173.1,580.5 L1174.6,579.3 L1176.2,578.0 L1177.7,576.8 L1179.3,575.5 L1180.9,574.3 L1182.4,573.1 L1184.0,571.9 L1185.6,570.7 L1187.2,569.6 L1188.8,568.4 L1190.4,567.3 L1192.0,566.1 L1193.7,565.0 L1195.3,563.9 L1196.9,562.8 L1198.6,561.8 L1200.3,560.7 L1201.9,559.7 L1203.6,558.6 L1205.3,557.6 L1207.0,556.6 L1208.7,555.6 L1210.4,554.7 L1212.1,553.7 L1213.8,552.8 L1215.6,551.9 L1217.3,551.0 L1219.1,550.1 L1220.8,549.3 L1222.6,548.4 L1224.4,547.6 L1226.1,546.8 L1227.9,546.0 L1229.7,545.2 L1231.5,544.4 L1233.3,543.7 L1235.2,542.9 L1237.0,542.2 L1238.8,541.5 L1240.7,540.8 L1242.5,540.1 L1244.4,539.4 L1246.2,538.8 L1248.1,538.1 L1250.0,537.5 L1251.8,536.9 L1253.7,536.2 L1255.6,535.6 L1257.5,535.0 L1259.4,534.5 L1261.3,533.9 L1263.2,533.3 L1265.1,532.8 L1267.1,532.2 L1269.0,531.7 L1270.9,531.2 L1272.8,530.7 L1274.8,530.2 L1276.7,529.7 L1278.7,529.2 L1280.6,528.7 L1282.6,528.2 L1284.5,527.8 L1286.5,527.3 L1288.4,526.9 L1290.4,526.4 L1292.4,526.0 L1294.3,525.5 L1296.3,525.1 L1298.3,524.7 L1300.2,524.3 L1302.2,523.9 L1304.2,523.4 L1306.2,523.0 L1308.1,522.6 L1310.1,522.2 L1312.1,521.9 L1314.1,521.5 L1316.1,521.1 L1318.1,520.7 L1320.1,520.3 L1322.0,519.9 L1324.0,519.5 L1326.0,519.2 L1328.0,518.8 L1330.0,518.4 L1332.0,518.0 L1334.0,517.7 L1336.0,517.3 L1337.9,516.9 L1339.9,516.5 L1341.9,516.2 L1343.9,515.8 L1345.9,515.4 L1347.9,515.0 L1349.8,514.6 L1351.8,514.3 L1353.8,513.9 L1355.8,513.5 L1357.7,513.1 L1359.7,512.7 L1361.7,512.3 L1363.6,511.9 L1365.6,511.5 L1367.6,511.1 L1369.5,510.7 L1371.5,510.3 L1373.4,509.8 L1375.4,509.4 L1377.3,509.0 L1379.2,508.5 L1381.2,508.1 L1383.1,507.6 L1385.0,507.2 L1387.0,506.7 L1388.9,506.3 L1390.8,505.8 L1392.7,505.4 L1394.6,504.9 L1396.5,504.4 L1398.5,504.0 L1400.4,503.5 L1402.3,503.1 L1404.2,502.7 L1406.1,502.2 L1408.0,501.8 L1410.0,501.4 L1411.9,501.0 L1413.8,500.6 L1415.7,500.3 L1417.6,499.9 L1419.6,499.6 L1421.5,499.2 L1423.4,498.9 L1425.4,498.6 L1427.3,498.3 L1429.3,498.1 L1431.2,497.8 L1433.2,497.6 L1435.1,497.4 L1437.1,497.3 L1439.1,497.1 L1441.0,497.0 L1443.0,496.9 L1445.0,496.8 L1447.0,496.7 L1449.0,496.6 L1451.0,496.5 L1453.0,496.4 L1454.9,496.3 L1456.9,496.2 L1458.9,496.1 L1460.9,496.0 L1462.9,495.9 L1464.9,495.7 L1466.9,495.6 L1468.9,495.4 L1470.9,495.2 L1472.8,495.0 L1474.8,494.8 L1476.8,494.6 L1478.8,494.3 L1480.8,494.0 L1482.7,493.7 L1484.7,493.4 L1486.7,493.1 L1488.6,492.8 L1490.6,492.4 L1492.6,492.0 L1494.5,491.7 L1496.5,491.3 L1498.4,490.9 L1500.4,490.5 L1502.3,490.0 L1504.3,489.6 L1506.2,489.2 L1508.2,488.7 L1510.2,488.3 L1512.1,487.8 L1514.0,487.3 L1516.0,486.8 L1517.9,486.3 L1519.9,485.9 L1521.8,485.4 L1523.8,484.9 L1525.7,484.4 L1527.7,483.9 L1529.6,483.3 L1531.6,482.8 L1533.5,482.3 L1535.5,481.8 L1537.4,481.3 L1539.3,480.8 L1541.3,480.3 L1543.2,479.8 L1545.2,479.3 L1547.1,478.7 L1549.1,478.2 L1551.0,477.7 L1553.0,477.3 L1554.9,476.8 L1556.9,476.3 L1558.8,475.8 L1560.8,475.3 L1562.7,474.9 L1564.7,474.4 L1566.6,474.0 L1568.6,473.5 L1570.5,473.1 L1572.5,472.6 L1574.4,472.2 L1576.4,471.8 L1578.4,471.4 L1580.3,471.0 L1582.3,470.6 L1584.2,470.2 L1586.2,469.8 L1588.2,469.4 L1590.1,469.0 L1592.1,468.6 L1594.1,468.3 L1596.0,467.9 L1598.0,467.5 L1600.0,467.2 L1601.9,466.8 L1603.9,466.5 L1605.9,466.2 L1607.8,465.8 L1609.8,465.5 L1611.8,465.2 L1613.7,464.9 L1615.7,464.5 L1617.7,464.2 L1619.7,463.9 L1621.6,463.6 L1623.6,463.3 L1625.6,463.1 L1627.6,462.8 L1629.5,462.5 L1631.5,462.2 L1633.5,461.9 L1635.5,461.7 L1637.5,461.4 L1639.4,461.2 L1641.4,460.9 L1643.4,460.7 L1645.4,460.4 L1647.4,460.2 L1649.3,459.9 L1651.3,459.7 L1653.3,459.5 L1655.3,459.3 L1657.3,459.0 L1659.3,458.8 L1661.2,458.6 L1663.2,458.4 L1665.2,458.2 L1667.2,458.0 L1669.2,457.8 L1671.2,457.6 L1673.2,457.4 L1675.2,457.2 L1677.2,457.0 L1679.1,456.8 L1681.1,456.7 L1683.1,456.5 L1685.1,456.3 L1687.1,456.1 L1689.1,456.0 L1691.1,455.8 L1693.1,455.6 L1695.1,455.5 L1697.1,455.3 L1699.1,455.2 L1701.1,455.0 L1703.0,454.9 L1705.0,454.7 L1707.0,454.6 L1709.0,454.4 L1711.0,454.3 L1713.0,454.2 L1715.0,454.0 L1717.0,453.9 L1719.0,453.8 L1721.0,453.6 L1723.0,453.5 L1725.0,453.4 L1727.0,453.3 L1729.0,453.1 L1731.0,453.0 L1733.0,452.9 L1735.0,452.8 L1737.0,452.7 L1739.0,452.6 L1741.0,452.4 L1743.0,452.3 L1745.0,452.2 L1747.0,452.1 L1749.0,452.0 L1751.0,451.9 L1753.0,451.8 L1755.0,451.7 L1757.0,451.6 L1759.0,451.5 L1761.0,451.4 L1763.0,451.3 L1765.0,451.2 L1767.0,451.1 L1769.0,451.0 L1771.0,450.9 L1773.0,450.8 L1775.0,450.7 L1777.0,450.6 L1779.0,450.5 L1781.0,450.4 L1783.0,450.4 L1785.0,450.3 L1787.0,450.2 L1789.0,450.1 L1791.0,450.0 L1793.0,449.9 L1795.0,449.8 L1797.0,449.7 L1799.0,449.6 L1801.0,449.5 L1803.0,449.4 L1805.0,449.3 L1807.0,449.2 L1809.0,449.2 L1811.0,449.1 L1813.0,449.0 L1815.0,448.9 L1817.0,448.8 L1819.0,448.7 L1821.0,448.6 L1823.0,448.5 L1825.0,448.4 L1827.0,448.3 L1829.0,448.2 L1831.0,448.1 L1833.0,448.0 L1835.0,447.9 L1837.0,447.8 L1839.0,447.7 L1841.0,447.6 L1843.0,447.5 L1845.0,447.4 L1847.0,447.3 L1849.0,447.2 L1851.0,447.1 L1853.0,447.0 L1855.0,446.9 L1857.0,446.7 L1859.0,446.6 L1861.0,446.5 L1863.0,446.4 L1865.0,446.3 L1867.0,446.2 L1869.0,446.1 L1871.0,446.0 L1873.0,445.9 L1875.0,445.8 L1877.0,445.7 L1879.0,445.5 L1881.0,445.4 L1883.0,445.3 L1885.0,445.2 L1887.0,445.1 L1889.0,445.0 L1891.0,444.9 L1893.0,444.8 L1895.0,444.7 L1897.0,444.5 L1899.0,444.4 L1901.0,444.3 L1903.0,444.2 L1905.0,444.1 L1907.0,444.0 L1909.0,443.9 L1911.0,443.8 L1913.0,443.7 L1915.0,443.5 L1917.0,443.4 L1919.0,443.3 L1921.0,443.2 L1923.0,443.1 L1925.0,443.0 L1927.0,442.9 L1929.0,442.8 L1931.0,442.7 L1933.0,442.5 L1934.9,442.4 L1936.9,442.3 L1938.9,442.2 L1940.9,442.1 L1942.9,442.0 L1944.9,441.9 L1946.9,441.8 L1948.9,441.7 L1950.9,441.6 L1952.9,441.4 L1954.9,441.3 L1956.9,441.2 L1958.9,441.1 L1960.9,441.0 L1962.9,440.9 L1964.9,440.8 L1966.9,440.7 L1968.9,440.6 L1970.9,440.5 L1972.9,440.4 L1974.9,440.3 L1976.9,440.2 L1978.9,440.1 L1980.9,440.0 L1982.9,439.9 L1984.9,439.8 L1986.9,439.7 L1988.9,439.6 L1990.8,439.5 L1992.8,439.4 L1994.8,439.3 L1996.8,439.2 L1998.8,439.1 L2000.8,439.0 L2002.8,438.9 L2004.8,438.8 L2006.8,438.7 L2008.8,438.6 L2010.8,438.6 L2012.8,438.5 L2014.8,438.4 L2016.8,438.3 L2018.8,438.2 L2020.8,438.1 L2022.8,438.0 L2024.8,438.0 L2026.8,437.9 L2028.8,437.8 L2030.8,437.7 L2032.8,437.6 L2034.8,437.6 L2036.8,437.5 L2038.8,437.4 L2040.8,437.3 L2042.8,437.3 L2044.8,437.2 L2046.8,437.1 L2048.8,437.0 L2050.8,437.0 L2052.8,436.9 L2054.8,436.8 L2056.8,436.8 L2058.8,436.7 L2060.7,436.6 L2062.7,436.6 L2064.7,436.5 L2066.7,436.5 L2068.7,436.4 L2070.7,436.3 L2072.7,436.3 L2074.7,436.2 L2076.7,436.2 L2078.7,436.1 L2080.7,436.1 L2082.7,436.0 L2084.7,436.0 L2086.7,435.9 L2088.7,435.9 L2090.7,435.9 L2092.7,435.8 L2094.7,435.8 L2096.7,435.7 L2098.7,435.7 L2100.7,435.7 L2102.7,435.6 L2104.7,435.6 L2106.7,435.6 L2108.7,435.5 L2110.7,435.5 L2112.7,435.5 L2114.7,435.5 L2116.7,435.4 L2118.7,435.4 L2120.7,435.4 L2122.7,435.4 L2124.7,435.4 L2126.7,435.4 L2128.7,435.4 L2130.7,435.3 L2132.7,435.3 L2134.7,435.3 L2136.7,435.3 L2138.7,435.3 L2140.7,435.3 L2142.7,435.3 L2144.8,435.3 L2146.8,435.3 L2148.8,435.4 L2150.8,435.4 L2152.8,435.4 L2154.8,435.4 L2156.8,435.4 L2158.8,435.4 L2160.8,435.5 L2162.8,435.5 L2164.8,435.5 L2166.8,435.5 L2168.8,435.6 L2170.8,435.6 L2172.8,435.6 L2174.8,435.7 L2176.8,435.7 L2178.8,435.7 L2180.8,435.8 L2182.8,435.8 L2184.8,435.9 L2186.8,435.9 L2188.8,436.0 L2190.8,436.0 L2192.9,436.1 L2194.9,436.1 L2196.9,436.2 L2198.9,436.3 L2200.9,436.3 L2202.9,436.4 L2204.9,436.5 L2206.9,436.6 L2208.9,436.6" stroke="#008000"/>
</g>
<g stroke="#000" fill="none">
<line x1="306" y1="69" x2="306" y2="1491" stroke-width="6"/>
<line x1="2212" y1="69" x2="2212" y2="1491" stroke-width="6"/>
<line x1="306" y1="1488.5" x2="2215" y2="1488.5" stroke-width="5"/>
<line x1="279" y1="1488.5" x2="306" y2="1488.5" stroke-width="6" stroke-linecap="round"/>
<line x1="293" y1="1424.1" x2="306" y2="1424.1" stroke-width="6" stroke-linecap="round"/>
<line x1="279" y1="1359.7" x2="306" y2="1359.7" stroke-width="6" stroke-linecap="round"/>
<line x1="293" y1="1295.3" x2="306" y2="1295.3" stroke-width="6" stroke-linecap="round"/>
<line x1="279" y1="1231.0" x2="306" y2="1231.0" stroke-width="6" stroke-linecap="round"/>
<line x1="293" y1="1166.6" x2="306" y2="1166.6" stroke-width="6" stroke-linecap="round"/>
<line x1="279" y1="1102.2" x2="306" y2="1102.2" stroke-width="6" stroke-linecap="round"/>
<line x1="293" y1="1037.8" x2="306" y2="1037.8" stroke-width="6" stroke-linecap="round"/>
<line x1="279" y1="973.4" x2="306" y2="973.4" stroke-width="6" stroke-linecap="round"/>
<line x1="293" y1="909.0" x2="306" y2="909.0" stroke-width="6" stroke-linecap="round"/>
<line x1="279" y1="844.6" x2="306" y2="844.6" stroke-width="6" stroke-linecap="round"/>
<line x1="293" y1="780.3" x2="306" y2="780.3" stroke-width="6" stroke-linecap="round"/>
<line x1="279" y1="715.9" x2="306" y2="715.9" stroke-width="6" stroke-linecap="round"/>
<line x1="293" y1="651.5" x2="306" y2="651.5" stroke-width="6" stroke-linecap="round"/>
<line x1="279" y1="587.1" x2="306" y2="587.1" stroke-width="6" stroke-linecap="round"/>
<line x1="293" y1="522.7" x2="306" y2="522.7" stroke-width="6" stroke-linecap="round"/>
<line x1="279" y1="458.3" x2="306" y2="458.3" stroke-width="6" stroke-linecap="round"/>
<line x1="293" y1="394.0" x2="306" y2="394.0" stroke-width="6" stroke-linecap="round"/>
<line x1="279" y1="329.6" x2="306" y2="329.6" stroke-width="6" stroke-linecap="round"/>
<line x1="293" y1="265.2" x2="306" y2="265.2" stroke-width="6" stroke-linecap="round"/>
<line x1="279" y1="200.8" x2="306" y2="200.8" stroke-width="6" stroke-linecap="round"/>
<line x1="293" y1="136.4" x2="306" y2="136.4" stroke-width="6" stroke-linecap="round"/>
<line x1="279" y1="72.0" x2="306" y2="72.0" stroke-width="6" stroke-linecap="round"/>
<line x1="2185.7" y1="72.0" x2="2212" y2="72.0" stroke-width="6" stroke-linecap="round"/>
<line x1="2199" y1="160.5" x2="2212" y2="160.5" stroke-width="6" stroke-linecap="round"/>
<line x1="2185.7" y1="249.1" x2="2212" y2="249.1" stroke-width="6" stroke-linecap="round"/>
<line x1="2199" y1="337.6" x2="2212" y2="337.6" stroke-width="6" stroke-linecap="round"/>
<line x1="2185.7" y1="426.1" x2="2212" y2="426.1" stroke-width="6" stroke-linecap="round"/>
<line x1="2199" y1="514.6" x2="2212" y2="514.6" stroke-width="6" stroke-linecap="round"/>
<line x1="2185.7" y1="603.2" x2="2212" y2="603.2" stroke-width="6" stroke-linecap="round"/>
<line x1="2199" y1="691.7" x2="2212" y2="691.7" stroke-width="6" stroke-linecap="round"/>
<line x1="2185.7" y1="780.2" x2="2212" y2="780.2" stroke-width="6" stroke-linecap="round"/>
<line x1="2199" y1="868.8" x2="2212" y2="868.8" stroke-width="6" stroke-linecap="round"/>
<line x1="2185.7" y1="957.3" x2="2212" y2="957.3" stroke-width="6" stroke-linecap="round"/>
<line x1="2199" y1="1045.8" x2="2212" y2="1045.8" stroke-width="6" stroke-linecap="round"/>
<line x1="2185.7" y1="1134.4" x2="2212" y2="1134.4" stroke-width="6" stroke-linecap="round"/>
<line x1="2199" y1="1222.9" x2="2212" y2="1222.9" stroke-width="6" stroke-linecap="round"/>
<line x1="2185.7" y1="1311.4" x2="2212" y2="1311.4" stroke-width="6" stroke-linecap="round"/>
<line x1="2199" y1="1399.9" x2="2212" y2="1399.9" stroke-width="6" stroke-linecap="round"/>
<line x1="2185.7" y1="1488.5" x2="2212" y2="1488.5" stroke-width="6" stroke-linecap="round"/>
<line x1="339.7" y1="1488.5" x2="339.7" y2="1502.5" stroke-width="5" stroke-linecap="round"/>
<line x1="471.5" y1="1488.5" x2="471.5" y2="1516.5" stroke-width="5" stroke-linecap="round"/>
<line x1="603.3" y1="1488.5" x2="603.3" y2="1502.5" stroke-width="5" stroke-linecap="round"/>
<line x1="735.1" y1="1488.5" x2="735.1" y2="1516.5" stroke-width="5" stroke-linecap="round"/>
<line x1="867.0" y1="1488.5" x2="867.0" y2="1502.5" stroke-width="5" stroke-linecap="round"/>
<line x1="998.8" y1="1488.5" x2="998.8" y2="1516.5" stroke-width="5" stroke-linecap="round"/>
<line x1="1130.6" y1="1488.5" x2="1130.6" y2="1502.5" stroke-width="5" stroke-linecap="round"/>
<line x1="1262.4" y1="1488.5" x2="1262.4" y2="1516.5" stroke-width="5" stroke-linecap="round"/>
<line x1="1394.3" y1="1488.5" x2="1394.3" y2="1502.5" stroke-width="5" stroke-linecap="round"/>
<line x1="1526.1" y1="1488.5" x2="1526.1" y2="1516.5" stroke-width="5" stroke-linecap="round"/>
<line x1="1657.9" y1="1488.5" x2="1657.9" y2="1502.5" stroke-width="5" stroke-linecap="round"/>
<line x1="1789.8" y1="1488.5" x2="1789.8" y2="1516.5" stroke-width="5" stroke-linecap="round"/>
<line x1="1921.6" y1="1488.5" x2="1921.6" y2="1502.5" stroke-width="5" stroke-linecap="round"/>
<line x1="2053.4" y1="1488.5" x2="2053.4" y2="1516.5" stroke-width="5" stroke-linecap="round"/>
<line x1="2185.2" y1="1488.5" x2="2185.2" y2="1502.5" stroke-width="5" stroke-linecap="round"/>
</g>
<g font-family="Liberation Serif, Times New Roman, serif" font-size="54" fill="#000">
<text x="261" y="1502.5" text-anchor="end">0</text>
<text x="261" y="1373.7" text-anchor="end">10</text>
<text x="261" y="1245.0" text-anchor="end">20</text>
<text x="261" y="1116.2" text-anchor="end">30</text>
<text x="261" y="987.4" text-anchor="end">40</text>
<text x="261" y="858.6" text-anchor="end">50</text>
<text x="261" y="729.9" text-anchor="end">60</text>
<text x="261" y="601.1" text-anchor="end">70</text>
<text x="261" y="472.3" text-anchor="end">80</text>
<text x="261" y="343.6" text-anchor="end">90</text>
<text x="261" y="214.8" text-anchor="end">100</text>
<text x="261" y="86.0" text-anchor="end">110</text>
<text x="473.0" y="1574.5" text-anchor="middle">100</text>
<text x="736.6" y="1574.5" text-anchor="middle">200</text>
<text x="1000.3" y="1574.5" text-anchor="middle">300</text>
<text x="1263.9" y="1574.5" text-anchor="middle">400</text>
<text x="1527.6" y="1574.5" text-anchor="middle">500</text>
<text x="1791.2" y="1574.5" text-anchor="middle">600</text>
<text x="2054.9" y="1574.5" text-anchor="middle">700</text>
<text x="2240" y="86.0">0.2</text>
<text x="2240" y="263.1">0.1</text>
<text x="2240" y="440.1">0.0</text>
<text x="2240" y="617.2">-0.1</text>
<text x="2240" y="794.2">-0.2</text>
<text x="2240" y="971.3">-0.3</text>
<text x="2240" y="1148.4">-0.4</text>
<text x="2240" y="1325.4">-0.5</text>
<text x="2240" y="1502.5">-0.6</text>
</g>
<g font-family="Liberation Serif, Times New Roman, serif" fill="#000">
<text x="1259.5" y="1682.5" font-size="65.7" text-anchor="middle">Temperature (°C)</text>
<text transform="translate(73.5,799.5) rotate(-90)" font-size="68.3" text-anchor="middle">Mass (%)</text>
<text transform="translate(2456.5,830) rotate(-90)" font-size="67.5" text-anchor="middle">Derivative mass (%/°C)</text>
</g>
<rect x="1664" y="578" width="437" height="335" fill="none" stroke="#000" stroke-width="2.5"/>
<line x1="1709.5" y1="629" x2="1859.5" y2="629" stroke="#000000" stroke-width="7" stroke-linecap="round"/>
<text x="1876" y="650.5" font-family="Liberation Serif, Times New Roman, serif" font-size="65.9">Control</text>
<line x1="1709.5" y1="711" x2="1859.5" y2="711" stroke="#ff0000" stroke-width="7" stroke-linecap="round"/>
<text x="1876" y="731.6" font-family="Liberation Serif, Times New Roman, serif" font-size="65.9">CSP</text>
<line x1="1709.5" y1="793" x2="1859.5" y2="793" stroke="#0000ff" stroke-width="7" stroke-linecap="round"/>
<text x="1876" y="814" font-family="Liberation Serif, Times New Roman, serif" font-size="65.9">CCP</text>
<line x1="1709.5" y1="875" x2="1859.5" y2="875" stroke="#008080" stroke-width="7" stroke-linecap="round"/>
<text x="1876" y="895.8" font-family="Liberation Serif, Times New Roman, serif" font-size="65.9">CCAP</text>
</svg>
</body></html>
